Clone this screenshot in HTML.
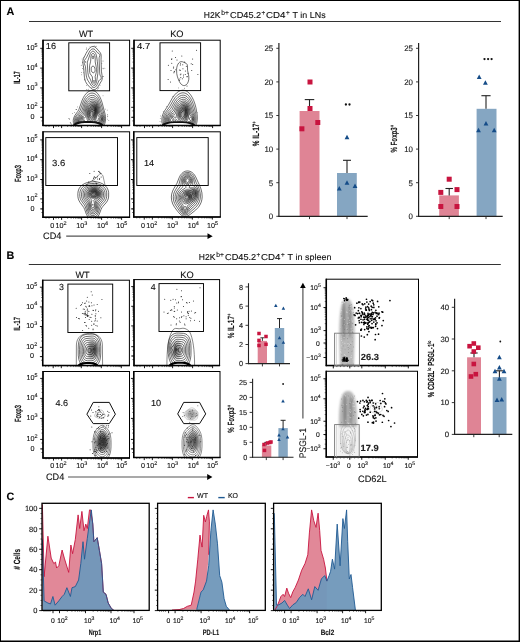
<!DOCTYPE html>
<html><head><meta charset="utf-8"><style>
html,body{margin:0;padding:0;background:#fff;overflow:hidden;}
svg{display:block;will-change:transform;}
text{font-family:"Liberation Sans", sans-serif;stroke:#111;stroke-width:0.12px;text-rendering:geometricPrecision;}
text.nb{stroke:none;}
</style></head><body>
<svg width="520" height="642" viewBox="0 0 520 642">
<rect x="0.50" y="0.50" width="519.00" height="641.00" fill="none" stroke="#000" stroke-width="1" />
<rect x="518.60" y="0.00" width="1.40" height="642.00" fill="#000" stroke="none" stroke-width="1" />
<rect x="0.00" y="640.50" width="520.00" height="1.50" fill="#000" stroke="none" stroke-width="1" />
<text x="6.6" y="14.5" font-size="10.8" text-anchor="start" font-weight="bold" fill="#000" >A</text>
<text x="6.6" y="259.4" font-size="10.8" text-anchor="start" font-weight="bold" fill="#000" >B</text>
<text x="6.6" y="500.3" font-size="10.8" text-anchor="start" font-weight="bold" fill="#000" >C</text>
<line x1="29.00" y1="21.50" x2="501.00" y2="21.50" stroke="#333" stroke-width="1" />
<line x1="28.80" y1="264.50" x2="500.80" y2="264.50" stroke="#333" stroke-width="1" />
<text x="203.8" y="18.1" font-size="8.6" text-anchor="start" font-weight="normal" fill="#111" textLength="16.6" lengthAdjust="spacingAndGlyphs" >H2K</text>
<text x="221.3" y="14.8" font-size="7.0" text-anchor="start" font-weight="normal" fill="#111" textLength="7.6" lengthAdjust="spacingAndGlyphs" >b+</text>
<text x="230.10000000000002" y="18.1" font-size="8.6" text-anchor="start" font-weight="normal" fill="#111" textLength="31.1" lengthAdjust="spacingAndGlyphs" >CD45.2</text>
<text x="261.6" y="14.8" font-size="7.0" text-anchor="start" font-weight="normal" fill="#111" textLength="3.7" lengthAdjust="spacingAndGlyphs" >+</text>
<text x="266.0" y="18.1" font-size="8.6" text-anchor="start" font-weight="normal" fill="#111" textLength="19.4" lengthAdjust="spacingAndGlyphs" >CD4</text>
<text x="286.0" y="14.8" font-size="7.0" text-anchor="start" font-weight="normal" fill="#111" textLength="3.7" lengthAdjust="spacingAndGlyphs" >+</text>
<text x="292.6" y="18.1" font-size="8.6" text-anchor="start" font-weight="normal" fill="#111" textLength="33.0" lengthAdjust="spacingAndGlyphs" >T in LNs</text>
<text x="198.8" y="260.2" font-size="8.6" text-anchor="start" font-weight="normal" fill="#111" textLength="16.6" lengthAdjust="spacingAndGlyphs" >H2K</text>
<text x="216.3" y="256.9" font-size="7.0" text-anchor="start" font-weight="normal" fill="#111" textLength="7.6" lengthAdjust="spacingAndGlyphs" >b+</text>
<text x="225.10000000000002" y="260.2" font-size="8.6" text-anchor="start" font-weight="normal" fill="#111" textLength="31.1" lengthAdjust="spacingAndGlyphs" >CD45.2</text>
<text x="256.6" y="256.9" font-size="7.0" text-anchor="start" font-weight="normal" fill="#111" textLength="3.7" lengthAdjust="spacingAndGlyphs" >+</text>
<text x="261.0" y="260.2" font-size="8.6" text-anchor="start" font-weight="normal" fill="#111" textLength="19.4" lengthAdjust="spacingAndGlyphs" >CD4</text>
<text x="281.0" y="256.9" font-size="7.0" text-anchor="start" font-weight="normal" fill="#111" textLength="3.7" lengthAdjust="spacingAndGlyphs" >+</text>
<text x="287.6" y="260.2" font-size="8.6" text-anchor="start" font-weight="normal" fill="#111" textLength="43.8" lengthAdjust="spacingAndGlyphs" >T in spleen</text>
<text x="78.9" y="36.8" font-size="9.2" text-anchor="start" font-weight="normal" fill="#111" textLength="14.2" lengthAdjust="spacingAndGlyphs" >WT</text>
<text x="170.2" y="36.8" font-size="9.2" text-anchor="start" font-weight="normal" fill="#111" textLength="13.4" lengthAdjust="spacingAndGlyphs" >KO</text>
<text transform="translate(20.30,83.80) rotate(-90)" x="0" y="0" font-size="9.0" font-weight="bold" fill="#111" textLength="12.70" lengthAdjust="spacingAndGlyphs">IL-17</text>
<text transform="translate(20.50,182.00) rotate(-90)" x="0" y="0" font-size="9.0" font-weight="bold" fill="#111" textLength="16.90" lengthAdjust="spacingAndGlyphs">Foxp3</text>
<clipPath id="cP1"><rect x="43" y="40.2" width="86.6" height="85.3"/></clipPath>
<radialGradient id="rg1"><stop offset="0" stop-color="#000" stop-opacity="0.550"/><stop offset="0.5" stop-color="#000" stop-opacity="0.330"/><stop offset="1" stop-color="#000" stop-opacity="0.000"/></radialGradient>
<ellipse cx="94" cy="110" rx="7" ry="11" fill="url(#rg1)" clip-path="url(#cP1)"/>
<path d="M94.25,110.99 L94.00,111.05 L93.84,110.45 L94.00,109.74 L94.25,109.59 L94.44,110.20 L94.25,110.99Z" fill="none" stroke="#111" stroke-width="0.6" clip-path="url(#cP1)"/>
<path d="M91.75,116.81 L91.25,116.79 L90.62,116.20 L90.23,115.20 L90.10,113.95 L90.53,111.95 L91.00,111.32 L91.75,111.06 L92.25,111.24 L92.75,111.71 L93.07,112.45 L93.14,113.20 L92.75,115.60 L92.25,116.47 L91.75,116.81Z" fill="none" stroke="#111" stroke-width="0.6" clip-path="url(#cP1)"/>
<path d="M91.75,118.25 L91.25,118.24 L90.70,117.95 L89.76,116.45 L89.39,114.45 L89.58,112.20 L90.03,110.95 L90.75,109.98 L91.50,109.60 L92.75,109.55 L93.75,108.50 L94.25,108.31 L94.65,108.70 L94.90,109.45 L94.80,111.70 L93.25,116.70 L92.50,117.83 L91.75,118.25Z" fill="none" stroke="#111" stroke-width="0.6" clip-path="url(#cP1)"/>
<path d="M92.00,119.49 L91.25,119.55 L90.50,119.20 L89.42,117.70 L88.79,115.20 L88.89,112.20 L89.50,110.20 L90.50,108.80 L91.25,108.35 L92.75,108.03 L93.75,107.43 L94.25,107.38 L94.85,107.95 L95.25,109.20 L95.36,110.70 L95.16,112.45 L93.80,117.45 L93.00,118.77 L92.00,119.49Z" fill="none" stroke="#111" stroke-width="0.6" clip-path="url(#cP1)"/>
<path d="M92.25,120.71 L91.25,120.85 L90.50,120.58 L89.75,119.94 L89.00,118.77 L88.44,117.20 L88.17,115.70 L88.19,112.45 L88.88,109.70 L90.00,107.87 L91.25,107.03 L94.00,106.40 L94.75,106.80 L95.44,108.20 L95.74,110.20 L95.62,112.95 L95.09,115.95 L94.36,118.20 L93.49,119.70 L92.25,120.71Z" fill="none" stroke="#111" stroke-width="0.6" clip-path="url(#cP1)"/>
<path d="M82.00,121.75 L81.25,121.82 L80.80,121.45 L80.72,120.70 L81.17,120.20 L81.75,120.13 L82.27,120.45 L82.42,121.20 L82.00,121.75Z" fill="none" stroke="#111" stroke-width="0.6" clip-path="url(#cP1)"/>
<path d="M91.50,122.21 L90.50,121.98 L89.50,121.25 L88.70,120.20 L88.11,118.95 L87.46,115.70 L87.57,111.95 L88.35,108.95 L89.00,107.64 L89.75,106.66 L91.25,105.69 L93.75,105.30 L94.50,105.56 L95.00,106.04 L95.90,108.20 L96.23,111.20 L96.03,114.70 L95.43,117.70 L94.32,120.20 L93.00,121.68 L92.25,122.08 L91.50,122.21Z" fill="none" stroke="#111" stroke-width="0.6" clip-path="url(#cP1)"/>
<path d="M100.00,119.50 L99.74,119.45 L99.55,118.95 L99.75,118.48 L100.00,118.44 L100.28,118.95 L100.00,119.50Z" fill="none" stroke="#111" stroke-width="0.6" clip-path="url(#cP1)"/>
<path d="M82.00,122.77 L80.75,122.61 L80.21,122.20 L79.81,121.45 L79.77,120.70 L80.08,119.95 L80.60,119.45 L81.25,119.19 L82.00,119.19 L82.75,119.52 L83.18,119.95 L83.47,120.70 L83.19,121.95 L82.71,122.45 L82.00,122.77Z" fill="none" stroke="#111" stroke-width="0.6" clip-path="url(#cP1)"/>
<path d="M92.25,123.52 L91.00,123.59 L89.75,123.07 L88.53,121.95 L87.68,120.70 L87.13,119.45 L86.84,118.20 L86.68,113.70 L87.35,109.45 L87.98,107.70 L88.75,106.30 L89.75,105.14 L90.75,104.47 L92.00,104.09 L93.25,104.02 L94.25,104.26 L95.00,104.85 L95.58,105.70 L96.10,106.95 L96.71,110.20 L96.79,114.70 L96.41,117.70 L95.45,120.20 L94.00,122.35 L93.25,123.02 L92.25,123.52Z" fill="none" stroke="#111" stroke-width="0.6" clip-path="url(#cP1)"/>
<path d="M100.00,120.71 L99.50,120.64 L99.00,120.24 L98.55,118.95 L98.88,117.70 L99.75,117.16 L100.50,117.46 L101.05,118.70 L100.86,119.95 L100.50,120.46 L100.00,120.71Z" fill="none" stroke="#111" stroke-width="0.6" clip-path="url(#cP1)"/>
<path d="M82.25,123.50 L81.25,123.53 L80.25,123.16 L79.50,122.45 L79.07,121.45 L79.09,120.45 L79.55,119.45 L80.25,118.80 L81.25,118.41 L82.25,118.41 L83.25,118.78 L84.03,119.45 L84.48,120.45 L84.42,121.45 L83.91,122.45 L83.25,123.06 L82.25,123.50Z" fill="none" stroke="#111" stroke-width="0.6" clip-path="url(#cP1)"/>
<path d="M92.50,124.98 L91.25,125.16 L90.00,124.84 L88.75,124.06 L87.00,122.52 L86.25,122.18 L85.75,122.30 L84.00,123.63 L83.00,124.10 L81.75,124.30 L80.75,124.15 L79.75,123.66 L79.02,122.95 L78.50,121.95 L78.35,120.95 L78.52,119.95 L78.88,119.20 L79.50,118.49 L80.25,117.98 L82.00,117.56 L84.75,117.90 L85.25,117.53 L85.57,116.45 L86.39,109.95 L86.95,107.95 L87.68,106.20 L88.75,104.53 L90.00,103.37 L91.25,102.77 L92.75,102.57 L93.75,102.73 L94.50,103.08 L95.25,103.77 L95.88,104.70 L96.60,106.45 L97.09,108.45 L97.75,114.67 L98.00,115.66 L98.50,116.08 L99.75,116.14 L100.75,116.68 L101.38,117.70 L101.60,118.95 L101.28,120.45 L100.50,121.38 L100.00,121.58 L99.25,121.53 L97.75,120.43 L97.25,120.25 L96.75,120.59 L94.25,123.85 L92.50,124.98Z" fill="none" stroke="#111" stroke-width="0.6" clip-path="url(#cP1)"/>
<path d="M92.25,126.72 L91.25,126.81 L90.00,126.55 L87.00,124.74 L86.00,124.38 L82.50,125.07 L81.25,125.03 L80.25,124.75 L79.25,124.18 L78.34,123.20 L77.85,122.20 L77.66,120.95 L78.08,119.20 L79.25,117.74 L80.75,116.93 L83.50,116.30 L84.23,115.70 L84.75,114.29 L85.92,108.20 L87.32,104.70 L88.50,102.98 L89.75,101.85 L91.00,101.23 L92.50,100.99 L93.75,101.21 L94.75,101.76 L95.50,102.49 L96.30,103.70 L97.55,107.20 L98.77,113.70 L99.25,114.49 L100.75,115.63 L101.43,116.45 L101.95,117.70 L102.10,118.95 L101.78,120.70 L101.38,121.45 L100.75,122.11 L99.75,122.53 L98.00,122.41 L97.25,122.61 L94.25,125.69 L93.25,126.35 L92.25,126.72Z" fill="none" stroke="#111" stroke-width="0.6" clip-path="url(#cP1)"/>
<path d="M92.50,128.46 L91.25,128.60 L89.75,128.30 L86.50,126.47 L85.50,126.09 L81.75,125.96 L79.75,125.39 L78.50,124.53 L77.62,123.45 L77.09,122.20 L76.93,120.95 L77.37,118.95 L78.41,117.45 L79.75,116.43 L82.50,115.13 L83.37,114.20 L83.92,112.70 L85.43,106.45 L86.33,104.20 L87.50,102.20 L88.50,101.02 L89.75,100.03 L91.00,99.47 L92.25,99.27 L93.50,99.44 L94.75,100.06 L95.92,101.20 L96.87,102.70 L98.10,105.95 L99.60,112.45 L100.09,113.45 L102.05,116.20 L102.47,117.45 L102.64,118.95 L102.30,120.95 L101.25,122.68 L100.25,123.40 L97.75,124.34 L94.50,127.45 L92.50,128.46Z" fill="none" stroke="#111" stroke-width="0.6" clip-path="url(#cP1)"/>
<path d="M92.25,130.48 L91.00,130.54 L89.75,130.28 L85.00,127.70 L81.00,126.82 L79.25,126.10 L78.00,125.19 L76.99,123.95 L76.34,122.45 L76.14,120.95 L76.50,118.95 L77.50,117.20 L78.75,115.98 L81.38,114.20 L82.40,112.95 L83.00,111.41 L84.87,104.70 L85.73,102.70 L86.75,100.95 L88.00,99.40 L89.25,98.36 L90.75,97.62 L92.25,97.39 L93.75,97.66 L95.00,98.33 L96.25,99.56 L97.45,101.45 L98.83,104.95 L100.50,111.45 L102.80,116.20 L103.22,118.95 L102.80,121.45 L102.25,122.63 L101.50,123.63 L98.32,125.95 L94.75,129.37 L93.50,130.10 L92.25,130.48Z" fill="none" stroke="#111" stroke-width="0.6" clip-path="url(#cP1)"/>
<path d="M88.08,131.70 L84.50,129.38 L79.50,127.36 L77.50,125.98 L76.42,124.70 L75.66,123.20 L75.32,121.70 L75.31,120.20 L75.84,118.20 L76.70,116.70 L77.75,115.50 L80.34,113.20 L81.26,111.95 L82.00,110.15 L84.12,103.20 L85.13,100.95 L86.18,99.20 L87.50,97.57 L89.00,96.33 L90.50,95.59 L92.25,95.32 L94.00,95.68 L95.50,96.58 L96.81,97.95 L98.08,99.95 L99.62,103.70 L101.50,110.58 L103.39,115.45 L103.87,117.95 L103.86,119.70 L103.61,121.20 L103.11,122.70 L102.43,123.95 L101.50,125.13 L96.75,129.97 L94.65,131.70" fill="none" stroke="#111" stroke-width="0.6" clip-path="url(#cP1)"/>
<path d="M84.63,131.70 L82.80,130.45 L78.50,128.12 L76.25,126.15 L75.27,124.70 L74.57,122.95 L74.31,121.20 L74.44,119.45 L74.87,117.95 L75.77,116.20 L79.21,112.20 L80.16,110.70 L83.13,101.95 L84.12,99.70 L85.43,97.45 L87.00,95.51 L88.50,94.24 L90.25,93.35 L92.00,93.04 L94.00,93.38 L95.75,94.39 L97.48,96.20 L98.89,98.45 L99.91,100.70 L100.87,103.45 L104.08,114.45 L104.55,116.70 L104.68,118.70 L104.56,120.45 L104.20,122.20 L103.54,123.95 L102.00,126.46 L97.64,131.70" fill="none" stroke="#111" stroke-width="0.6" clip-path="url(#cP1)"/>
<path d="M81.40,131.70 L77.00,128.58 L75.62,127.20 L74.55,125.70 L73.74,123.95 L73.32,122.20 L73.24,120.45 L73.54,118.45 L74.83,115.45 L77.78,111.45 L78.82,109.70 L82.18,100.20 L83.32,97.70 L84.50,95.67 L86.23,93.45 L88.00,91.91 L90.00,90.87 L92.00,90.51 L94.00,90.84 L96.00,91.93 L97.81,93.70 L99.62,96.45 L100.90,99.20 L102.12,102.70 L105.20,114.45 L105.53,116.70 L105.61,118.95 L105.40,121.20 L104.94,123.20 L104.31,124.95 L103.31,126.95 L100.10,131.70" fill="none" stroke="#111" stroke-width="0.6" clip-path="url(#cP1)"/>
<path d="M93.25,58.72 L92.75,58.72 L92.52,58.45 L92.24,57.45 L92.40,56.20 L93.00,55.61 L93.50,55.99 L93.76,56.95 L93.68,57.95 L93.25,58.72Z" fill="none" stroke="#111" stroke-width="0.6" clip-path="url(#cP1)"/>
<path d="M93.75,72.77 L93.00,72.71 L92.00,72.01 L91.46,71.20 L91.24,70.20 L91.26,68.20 L91.50,67.09 L92.00,66.43 L93.00,66.04 L93.75,66.29 L94.25,66.93 L94.80,68.20 L95.07,69.45 L95.04,70.70 L94.76,71.70 L94.25,72.47 L93.75,72.77Z" fill="none" stroke="#111" stroke-width="0.6" clip-path="url(#cP1)"/>
<path d="M94.00,81.59 L93.67,80.95 L93.75,80.49 L94.00,80.26 L94.33,80.95 L94.00,81.59Z" fill="none" stroke="#111" stroke-width="0.6" clip-path="url(#cP1)"/>
<path d="M94.00,83.46 L93.25,83.03 L92.81,82.20 L92.51,80.70 L92.42,76.95 L90.14,73.70 L89.71,72.20 L89.52,70.20 L89.60,65.70 L90.64,61.20 L91.02,56.20 L91.80,54.20 L92.50,53.54 L93.00,53.41 L93.50,53.54 L94.21,54.20 L94.93,55.95 L95.17,57.70 L95.21,61.95 L96.17,66.70 L96.47,69.45 L96.25,72.45 L95.15,76.70 L95.45,79.70 L95.36,81.45 L94.80,82.95 L94.00,83.46Z" fill="none" stroke="#111" stroke-width="0.6" clip-path="url(#cP1)"/>
<path d="M94.50,85.32 L93.75,85.39 L93.25,85.20 L92.28,84.20 L91.65,82.95 L90.50,79.74 L89.00,77.06 L88.45,75.70 L87.84,72.45 L87.29,62.95 L87.41,61.95 L90.39,53.45 L91.50,51.85 L92.25,51.33 L93.00,51.16 L94.00,51.46 L94.84,52.20 L95.65,53.45 L96.46,55.45 L97.38,61.70 L97.94,68.20 L97.83,73.45 L96.72,81.20 L95.81,83.95 L95.25,84.76 L94.50,85.32Z" fill="none" stroke="#111" stroke-width="0.6" clip-path="url(#cP1)"/>
<path d="M85.75,62.37 L85.38,62.20 L85.50,61.68 L85.78,61.70 L85.96,61.95 L85.75,62.37Z" fill="none" stroke="#111" stroke-width="0.6" clip-path="url(#cP1)"/>
<path d="M94.25,87.46 L93.00,87.24 L91.72,86.20 L88.18,80.95 L87.13,78.95 L86.57,77.20 L86.16,74.95 L85.50,66.74 L84.32,63.45 L84.09,62.20 L84.50,60.41 L86.50,57.54 L89.68,51.20 L91.25,49.47 L92.00,49.05 L93.00,48.84 L94.00,49.04 L95.00,49.66 L97.50,52.70 L99.25,53.79 L99.84,54.70 L99.84,55.70 L99.22,57.45 L99.09,58.70 L99.71,73.20 L100.00,75.08 L101.00,76.86 L101.20,77.70 L101.16,78.45 L100.75,79.29 L99.50,79.98 L98.88,80.70 L97.37,84.20 L96.38,85.95 L95.25,87.08 L94.25,87.46Z" fill="none" stroke="#111" stroke-width="0.6" clip-path="url(#cP1)"/>
<path d="M94.00,89.70 L92.50,89.35 L90.59,87.95 L87.05,84.20 L85.58,81.70 L84.90,79.70 L84.41,77.20 L83.76,68.45 L82.76,62.45 L82.95,60.45 L83.61,58.45 L85.88,53.70 L87.61,50.70 L89.00,48.79 L90.25,47.54 L91.50,46.76 L93.00,46.44 L94.50,46.76 L96.19,47.95 L100.00,52.34 L100.90,53.95 L101.18,55.70 L101.05,59.45 L101.43,71.20 L102.32,77.45 L102.17,79.20 L101.65,80.70 L97.89,86.95 L96.00,88.99 L95.00,89.53 L94.00,89.70Z" fill="none" stroke="#111" stroke-width="0.6" clip-path="url(#cP1)"/>
<path d="M73,125 C75,121.5 80,121 88,121 C96,121 101,121.5 103.5,125 Z" fill="#111" clip-path="url(#cP1)"/>
<path d="M76,125 C79,123.2 84,123 88,123 C93,123 97,123.2 100,125 Z" fill="#fff" clip-path="url(#cP1)"/>
<circle cx="86.21" cy="49.27" r="0.4" fill="#333"/>
<circle cx="103.01" cy="60.99" r="0.4" fill="#333"/>
<circle cx="83.68" cy="68.99" r="0.4" fill="#333"/>
<circle cx="100.04" cy="85.16" r="0.4" fill="#333"/>
<circle cx="103.03" cy="68.27" r="0.4" fill="#333"/>
<circle cx="98.85" cy="87.34" r="0.4" fill="#333"/>
<circle cx="82.11" cy="58.89" r="0.4" fill="#333"/>
<circle cx="83.38" cy="66.86" r="0.4" fill="#333"/>
<circle cx="88.17" cy="89.23" r="0.4" fill="#333"/>
<circle cx="97.37" cy="89.04" r="0.4" fill="#333"/>
<circle cx="96.28" cy="46.13" r="0.4" fill="#333"/>
<circle cx="89.91" cy="46.89" r="0.4" fill="#333"/>
<circle cx="86.71" cy="85.65" r="0.4" fill="#333"/>
<circle cx="81.65" cy="74.79" r="0.4" fill="#333"/>
<circle cx="84.71" cy="79.38" r="0.4" fill="#333"/>
<circle cx="83.42" cy="72.81" r="0.4" fill="#333"/>
<circle cx="103.16" cy="68.81" r="0.4" fill="#333"/>
<circle cx="104.87" cy="68.20" r="0.4" fill="#333"/>
<circle cx="84.95" cy="79.93" r="0.4" fill="#333"/>
<circle cx="81.42" cy="72.66" r="0.4" fill="#333"/>
<circle cx="102.92" cy="76.48" r="0.4" fill="#333"/>
<circle cx="103.64" cy="76.32" r="0.4" fill="#333"/>
<circle cx="81.22" cy="65.24" r="0.4" fill="#333"/>
<circle cx="86.68" cy="48.01" r="0.4" fill="#333"/>
<circle cx="83.68" cy="57.16" r="0.4" fill="#333"/>
<circle cx="82.76" cy="68.50" r="0.4" fill="#333"/>
<circle cx="95.44" cy="46.35" r="0.4" fill="#333"/>
<circle cx="82.45" cy="62.71" r="0.4" fill="#333"/>
<circle cx="94.17" cy="45.92" r="0.4" fill="#333"/>
<circle cx="101.86" cy="63.53" r="0.4" fill="#333"/>
<circle cx="107.78" cy="115.93" r="0.4" fill="#333"/>
<circle cx="107.19" cy="110.08" r="0.4" fill="#333"/>
<circle cx="92.01" cy="87.38" r="0.4" fill="#333"/>
<circle cx="107.46" cy="114.64" r="0.4" fill="#333"/>
<circle cx="76.48" cy="109.57" r="0.4" fill="#333"/>
<circle cx="107.47" cy="116.77" r="0.4" fill="#333"/>
<circle cx="77.34" cy="106.93" r="0.4" fill="#333"/>
<circle cx="75.94" cy="109.30" r="0.4" fill="#333"/>
<circle cx="70.24" cy="122.77" r="0.4" fill="#333"/>
<circle cx="71.78" cy="124.21" r="0.4" fill="#333"/>
<circle cx="107.65" cy="119.05" r="0.4" fill="#333"/>
<circle cx="108.82" cy="120.64" r="0.4" fill="#333"/>
<circle cx="68.90" cy="118.53" r="0.4" fill="#333"/>
<circle cx="98.12" cy="88.52" r="0.4" fill="#333"/>
<circle cx="70.62" cy="122.89" r="0.4" fill="#333"/>
<circle cx="86.36" cy="89.54" r="0.4" fill="#333"/>
<circle cx="94.93" cy="84.88" r="0.4" fill="#333"/>
<circle cx="74.56" cy="112.55" r="0.4" fill="#333"/>
<circle cx="69.52" cy="119.63" r="0.4" fill="#333"/>
<circle cx="103.03" cy="95.81" r="0.4" fill="#333"/>
<circle cx="72.39" cy="113.36" r="0.4" fill="#333"/>
<circle cx="105.59" cy="109.05" r="0.4" fill="#333"/>
<circle cx="71.05" cy="123.80" r="0.4" fill="#333"/>
<circle cx="69.07" cy="118.60" r="0.4" fill="#333"/>
<circle cx="76.56" cy="109.60" r="0.4" fill="#333"/>
<line x1="40.20" y1="48.30" x2="43.00" y2="48.30" stroke="#000" stroke-width="0.9" />
<line x1="41.40" y1="62.14" x2="43.00" y2="62.14" stroke="#000" stroke-width="0.5" />
<line x1="41.40" y1="58.65" x2="43.00" y2="58.65" stroke="#000" stroke-width="0.5" />
<line x1="41.40" y1="56.18" x2="43.00" y2="56.18" stroke="#000" stroke-width="0.5" />
<line x1="41.40" y1="54.26" x2="43.00" y2="54.26" stroke="#000" stroke-width="0.5" />
<line x1="41.40" y1="52.69" x2="43.00" y2="52.69" stroke="#000" stroke-width="0.5" />
<line x1="41.40" y1="51.37" x2="43.00" y2="51.37" stroke="#000" stroke-width="0.5" />
<line x1="41.40" y1="50.22" x2="43.00" y2="50.22" stroke="#000" stroke-width="0.5" />
<line x1="41.40" y1="49.21" x2="43.00" y2="49.21" stroke="#000" stroke-width="0.5" />
<line x1="40.20" y1="68.10" x2="43.00" y2="68.10" stroke="#000" stroke-width="0.9" />
<line x1="41.40" y1="81.94" x2="43.00" y2="81.94" stroke="#000" stroke-width="0.5" />
<line x1="41.40" y1="78.45" x2="43.00" y2="78.45" stroke="#000" stroke-width="0.5" />
<line x1="41.40" y1="75.98" x2="43.00" y2="75.98" stroke="#000" stroke-width="0.5" />
<line x1="41.40" y1="74.06" x2="43.00" y2="74.06" stroke="#000" stroke-width="0.5" />
<line x1="41.40" y1="72.49" x2="43.00" y2="72.49" stroke="#000" stroke-width="0.5" />
<line x1="41.40" y1="71.17" x2="43.00" y2="71.17" stroke="#000" stroke-width="0.5" />
<line x1="41.40" y1="70.02" x2="43.00" y2="70.02" stroke="#000" stroke-width="0.5" />
<line x1="41.40" y1="69.01" x2="43.00" y2="69.01" stroke="#000" stroke-width="0.5" />
<line x1="40.20" y1="87.90" x2="43.00" y2="87.90" stroke="#000" stroke-width="0.9" />
<line x1="41.40" y1="101.46" x2="43.00" y2="101.46" stroke="#000" stroke-width="0.5" />
<line x1="41.40" y1="98.04" x2="43.00" y2="98.04" stroke="#000" stroke-width="0.5" />
<line x1="41.40" y1="95.62" x2="43.00" y2="95.62" stroke="#000" stroke-width="0.5" />
<line x1="41.40" y1="93.74" x2="43.00" y2="93.74" stroke="#000" stroke-width="0.5" />
<line x1="41.40" y1="92.20" x2="43.00" y2="92.20" stroke="#000" stroke-width="0.5" />
<line x1="41.40" y1="90.91" x2="43.00" y2="90.91" stroke="#000" stroke-width="0.5" />
<line x1="41.40" y1="89.78" x2="43.00" y2="89.78" stroke="#000" stroke-width="0.5" />
<line x1="41.40" y1="88.79" x2="43.00" y2="88.79" stroke="#000" stroke-width="0.5" />
<line x1="40.20" y1="107.30" x2="43.00" y2="107.30" stroke="#000" stroke-width="0.9" />
<line x1="41.40" y1="117.30" x2="43.00" y2="117.30" stroke="#000" stroke-width="0.6" />
<line x1="41.40" y1="110.90" x2="43.00" y2="110.90" stroke="#000" stroke-width="0.6" />
<line x1="41.40" y1="120.90" x2="43.00" y2="120.90" stroke="#000" stroke-width="0.6" />
<line x1="40.20" y1="117.30" x2="43.00" y2="117.30" stroke="#000" stroke-width="0.9" />
<line x1="53.50" y1="125.50" x2="53.50" y2="128.10" stroke="#000" stroke-width="0.9" />
<line x1="61.60" y1="125.50" x2="61.60" y2="128.10" stroke="#000" stroke-width="0.9" />
<line x1="67.62" y1="125.50" x2="67.62" y2="127.00" stroke="#000" stroke-width="0.5" />
<line x1="71.14" y1="125.50" x2="71.14" y2="127.00" stroke="#000" stroke-width="0.5" />
<line x1="73.64" y1="125.50" x2="73.64" y2="127.00" stroke="#000" stroke-width="0.5" />
<line x1="75.58" y1="125.50" x2="75.58" y2="127.00" stroke="#000" stroke-width="0.5" />
<line x1="77.16" y1="125.50" x2="77.16" y2="127.00" stroke="#000" stroke-width="0.5" />
<line x1="78.50" y1="125.50" x2="78.50" y2="127.00" stroke="#000" stroke-width="0.5" />
<line x1="79.66" y1="125.50" x2="79.66" y2="127.00" stroke="#000" stroke-width="0.5" />
<line x1="80.68" y1="125.50" x2="80.68" y2="127.00" stroke="#000" stroke-width="0.5" />
<line x1="81.60" y1="125.50" x2="81.60" y2="128.10" stroke="#000" stroke-width="0.9" />
<line x1="87.62" y1="125.50" x2="87.62" y2="127.00" stroke="#000" stroke-width="0.5" />
<line x1="91.14" y1="125.50" x2="91.14" y2="127.00" stroke="#000" stroke-width="0.5" />
<line x1="93.64" y1="125.50" x2="93.64" y2="127.00" stroke="#000" stroke-width="0.5" />
<line x1="95.58" y1="125.50" x2="95.58" y2="127.00" stroke="#000" stroke-width="0.5" />
<line x1="97.16" y1="125.50" x2="97.16" y2="127.00" stroke="#000" stroke-width="0.5" />
<line x1="98.50" y1="125.50" x2="98.50" y2="127.00" stroke="#000" stroke-width="0.5" />
<line x1="99.66" y1="125.50" x2="99.66" y2="127.00" stroke="#000" stroke-width="0.5" />
<line x1="100.68" y1="125.50" x2="100.68" y2="127.00" stroke="#000" stroke-width="0.5" />
<line x1="101.60" y1="125.50" x2="101.60" y2="128.10" stroke="#000" stroke-width="0.9" />
<line x1="107.62" y1="125.50" x2="107.62" y2="127.00" stroke="#000" stroke-width="0.5" />
<line x1="111.14" y1="125.50" x2="111.14" y2="127.00" stroke="#000" stroke-width="0.5" />
<line x1="113.64" y1="125.50" x2="113.64" y2="127.00" stroke="#000" stroke-width="0.5" />
<line x1="115.58" y1="125.50" x2="115.58" y2="127.00" stroke="#000" stroke-width="0.5" />
<line x1="117.16" y1="125.50" x2="117.16" y2="127.00" stroke="#000" stroke-width="0.5" />
<line x1="118.50" y1="125.50" x2="118.50" y2="127.00" stroke="#000" stroke-width="0.5" />
<line x1="119.66" y1="125.50" x2="119.66" y2="127.00" stroke="#000" stroke-width="0.5" />
<line x1="120.68" y1="125.50" x2="120.68" y2="127.00" stroke="#000" stroke-width="0.5" />
<line x1="121.60" y1="125.50" x2="121.60" y2="128.10" stroke="#000" stroke-width="0.9" />
<line x1="46.00" y1="125.50" x2="46.00" y2="127.00" stroke="#000" stroke-width="0.5" />
<line x1="49.00" y1="125.50" x2="49.00" y2="127.00" stroke="#000" stroke-width="0.5" />
<line x1="56.00" y1="125.50" x2="56.00" y2="127.00" stroke="#000" stroke-width="0.5" />
<line x1="58.50" y1="125.50" x2="58.50" y2="127.00" stroke="#000" stroke-width="0.5" />
<rect x="43.00" y="40.20" width="86.60" height="85.30" fill="none" stroke="#000" stroke-width="1.0" />
<line x1="43.00" y1="39.70" x2="43.00" y2="126.10" stroke="#000" stroke-width="1.5" />
<line x1="42.40" y1="125.50" x2="130.10" y2="125.50" stroke="#000" stroke-width="1.5" />
<text x="26.43" y="49.90" font-size="7.2" fill="#111">10<tspan font-size="5.47" dy="-3.02">5</tspan></text>
<text x="26.43" y="69.70" font-size="7.2" fill="#111">10<tspan font-size="5.47" dy="-3.02">4</tspan></text>
<text x="26.43" y="89.50" font-size="7.2" fill="#111">10<tspan font-size="5.47" dy="-3.02">3</tspan></text>
<text x="26.43" y="108.90" font-size="7.2" fill="#111">10<tspan font-size="5.47" dy="-3.02">2</tspan></text>
<text x="34.4" y="118.9" font-size="7.2" text-anchor="end" font-weight="normal" fill="#111" >0</text>
<rect x="68.80" y="42.80" width="40.80" height="48.00" fill="none" stroke="#000" stroke-width="0.95" />
<text x="45.8" y="49.4" font-size="8.8" text-anchor="start" font-weight="normal" fill="#111" textLength="10.2" lengthAdjust="spacingAndGlyphs" >16</text>
<clipPath id="cP2"><rect x="134" y="40.2" width="86.19999999999999" height="85.3"/></clipPath>
<radialGradient id="rg2"><stop offset="0" stop-color="#000" stop-opacity="0.550"/><stop offset="0.5" stop-color="#000" stop-opacity="0.330"/><stop offset="1" stop-color="#000" stop-opacity="0.000"/></radialGradient>
<ellipse cx="184.5" cy="111" rx="7" ry="11" fill="url(#rg2)" clip-path="url(#cP2)"/>
<path d="M183.00,117.32 L182.50,117.41 L182.00,117.24 L181.32,116.45 L180.91,114.95 L181.00,113.45 L181.75,111.89 L183.50,110.92 L184.50,109.77 L184.85,109.95 L185.15,110.70 L185.08,112.95 L184.16,115.95 L183.72,116.70 L183.00,117.32Z" fill="none" stroke="#111" stroke-width="0.6" clip-path="url(#cP2)"/>
<path d="M183.25,118.73 L182.75,118.88 L182.00,118.79 L181.45,118.45 L180.82,117.70 L180.17,115.95 L180.08,113.70 L180.51,111.95 L181.25,110.71 L182.00,110.09 L184.50,108.67 L185.01,108.95 L185.54,110.20 L185.70,111.70 L185.60,113.70 L185.28,115.45 L184.75,116.99 L184.00,118.16 L183.25,118.73Z" fill="none" stroke="#111" stroke-width="0.6" clip-path="url(#cP2)"/>
<path d="M182.75,120.22 L182.00,120.16 L181.25,119.78 L180.01,118.20 L179.35,115.95 L179.36,113.20 L179.88,111.20 L180.98,109.45 L182.00,108.69 L184.50,107.66 L185.27,108.20 L185.95,109.95 L186.21,112.20 L186.09,114.95 L185.66,116.95 L184.86,118.70 L183.75,119.86 L182.75,120.22Z" fill="none" stroke="#111" stroke-width="0.6" clip-path="url(#cP2)"/>
<path d="M183.25,121.46 L182.25,121.55 L181.50,121.34 L180.50,120.65 L179.73,119.70 L179.11,118.45 L178.68,116.95 L178.50,113.95 L179.08,110.95 L180.25,108.73 L181.75,107.45 L184.25,106.58 L185.25,107.05 L186.13,108.70 L186.70,111.45 L186.80,114.70 L186.42,117.20 L185.65,119.20 L184.50,120.72 L183.25,121.46Z" fill="none" stroke="#111" stroke-width="0.6" clip-path="url(#cP2)"/>
<path d="M172.25,121.21 L171.75,121.42 L171.25,121.38 L170.50,120.70 L170.43,119.45 L170.75,118.91 L171.25,118.58 L172.20,118.70 L172.77,119.45 L172.78,120.45 L172.25,121.21Z" fill="none" stroke="#111" stroke-width="0.6" clip-path="url(#cP2)"/>
<path d="M183.50,122.78 L182.25,122.94 L181.25,122.67 L180.25,122.04 L179.24,120.95 L178.38,119.45 L177.94,118.20 L177.64,116.45 L177.60,114.70 L178.18,110.95 L178.72,109.45 L179.50,108.04 L180.25,107.12 L181.25,106.31 L182.75,105.64 L184.00,105.39 L184.75,105.54 L185.50,106.11 L186.60,108.20 L187.35,111.45 L187.54,114.95 L187.19,117.70 L186.35,119.95 L185.00,121.82 L183.50,122.78Z" fill="none" stroke="#111" stroke-width="0.6" clip-path="url(#cP2)"/>
<path d="M172.25,122.51 L171.25,122.57 L170.50,122.25 L169.76,121.45 L169.41,120.45 L169.42,119.45 L169.80,118.45 L170.50,117.70 L171.25,117.37 L172.00,117.34 L172.92,117.70 L173.64,118.45 L173.95,119.20 L174.02,120.20 L173.72,121.20 L173.17,121.95 L172.25,122.51Z" fill="none" stroke="#111" stroke-width="0.6" clip-path="url(#cP2)"/>
<path d="M183.50,124.27 L181.75,124.34 L180.24,123.70 L178.78,122.45 L176.25,119.41 L176.00,119.41 L174.82,121.70 L173.75,122.86 L172.50,123.50 L171.00,123.50 L170.00,123.01 L169.23,122.20 L168.76,121.20 L168.57,119.95 L168.77,118.70 L169.26,117.70 L170.00,116.92 L171.00,116.40 L172.00,116.26 L173.00,116.43 L174.12,116.95 L175.50,118.01 L175.75,118.12 L175.91,117.95 L177.17,111.20 L177.80,109.20 L178.51,107.70 L179.50,106.27 L180.75,105.12 L182.25,104.37 L183.75,104.07 L184.75,104.26 L185.69,104.95 L186.40,105.95 L187.18,107.70 L188.14,111.70 L188.53,117.20 L188.11,118.95 L186.40,121.95 L185.00,123.46 L183.50,124.27Z" fill="none" stroke="#111" stroke-width="0.6" clip-path="url(#cP2)"/>
<path d="M191.00,120.53 L190.50,120.51 L190.02,120.20 L189.38,118.95 L189.52,117.95 L189.97,117.45 L190.50,117.24 L191.00,117.30 L191.50,117.68 L191.89,118.70 L191.75,119.78 L191.00,120.53Z" fill="none" stroke="#111" stroke-width="0.6" clip-path="url(#cP2)"/>
<path d="M183.00,125.96 L181.75,125.94 L180.50,125.56 L177.25,123.39 L176.50,123.12 L175.75,123.21 L172.75,124.51 L171.50,124.58 L170.50,124.33 L169.25,123.52 L168.43,122.45 L167.94,121.20 L167.81,119.70 L168.31,117.70 L168.96,116.70 L169.75,115.97 L171.25,115.26 L174.25,114.91 L175.00,114.30 L177.21,107.95 L178.13,106.20 L179.25,104.74 L180.25,103.83 L181.50,103.10 L182.75,102.70 L183.75,102.61 L184.75,102.83 L185.50,103.28 L186.37,104.20 L187.14,105.45 L188.37,108.70 L189.73,114.95 L190.06,115.45 L191.25,116.25 L191.92,116.95 L192.38,117.95 L192.50,118.95 L192.25,120.26 L191.50,121.28 L190.75,121.59 L189.00,121.37 L188.50,121.54 L185.50,124.80 L184.25,125.59 L183.00,125.96Z" fill="none" stroke="#111" stroke-width="0.6" clip-path="url(#cP2)"/>
<path d="M182.75,127.70 L181.75,127.68 L180.50,127.37 L177.25,125.65 L176.25,125.31 L172.25,125.69 L171.00,125.54 L170.00,125.16 L168.75,124.27 L167.75,122.95 L167.18,121.45 L167.01,119.70 L167.51,117.45 L168.75,115.59 L170.25,114.48 L173.25,113.25 L174.10,112.45 L176.66,106.45 L178.50,103.61 L179.50,102.62 L180.75,101.76 L182.25,101.16 L183.50,101.00 L184.75,101.24 L185.75,101.83 L186.75,102.87 L187.62,104.20 L189.07,107.70 L190.54,113.45 L192.60,116.70 L192.93,117.70 L193.06,118.95 L192.73,120.70 L191.75,122.12 L188.81,123.45 L186.50,125.83 L185.25,126.83 L184.00,127.44 L182.75,127.70Z" fill="none" stroke="#111" stroke-width="0.6" clip-path="url(#cP2)"/>
<path d="M183.50,129.46 L182.25,129.59 L180.75,129.38 L176.00,127.32 L171.50,126.82 L169.50,126.07 L168.08,124.95 L167.01,123.45 L166.36,121.70 L166.16,119.95 L166.49,117.70 L167.43,115.70 L169.00,113.98 L172.00,112.04 L173.00,111.09 L173.75,109.89 L176.14,104.70 L177.75,102.32 L179.00,101.04 L180.25,100.15 L181.75,99.49 L183.25,99.24 L184.75,99.49 L186.00,100.19 L187.25,101.47 L188.38,103.20 L189.88,106.70 L191.58,112.70 L193.19,116.20 L193.66,118.70 L193.32,120.95 L192.25,122.84 L189.49,124.95 L186.25,128.12 L184.75,129.04 L183.50,129.46Z" fill="none" stroke="#111" stroke-width="0.6" clip-path="url(#cP2)"/>
<path d="M183.75,131.46 L182.00,131.63 L180.25,131.34 L175.34,129.20 L171.00,128.05 L169.00,127.10 L167.50,125.85 L166.32,124.20 L165.53,122.20 L165.25,119.95 L165.58,117.45 L166.69,114.95 L168.00,113.31 L171.00,110.73 L172.00,109.61 L175.22,103.45 L176.89,100.95 L178.50,99.27 L180.00,98.22 L181.50,97.57 L183.25,97.29 L185.00,97.63 L186.50,98.54 L188.00,100.14 L189.43,102.45 L190.90,105.95 L192.54,111.70 L193.83,115.45 L194.34,118.45 L194.26,119.95 L193.93,121.45 L193.41,122.70 L192.50,124.07 L187.00,129.75 L185.50,130.78 L183.75,131.46Z" fill="none" stroke="#111" stroke-width="0.6" clip-path="url(#cP2)"/>
<path d="M175.82,131.70 L169.50,128.93 L167.75,127.73 L166.51,126.45 L165.37,124.70 L164.54,122.45 L164.24,120.20 L164.46,117.70 L165.06,115.70 L165.96,113.95 L167.25,112.22 L170.87,108.20 L174.42,101.70 L176.25,99.07 L178.00,97.29 L179.75,96.09 L181.50,95.38 L183.25,95.15 L185.25,95.57 L187.00,96.65 L188.68,98.45 L190.13,100.70 L191.31,103.20 L192.38,106.20 L194.61,114.45 L195.07,116.95 L195.15,118.95 L194.97,120.70 L194.59,122.20 L193.87,123.95 L192.75,125.74 L190.75,128.30 L187.60,131.70" fill="none" stroke="#111" stroke-width="0.6" clip-path="url(#cP2)"/>
<path d="M171.17,131.70 L168.75,130.29 L167.00,128.90 L165.50,127.22 L164.41,125.45 L163.56,123.20 L163.16,120.95 L163.16,118.70 L163.63,116.20 L164.27,114.45 L165.19,112.70 L169.51,106.95 L173.29,100.20 L175.37,97.20 L177.25,95.26 L179.00,94.00 L181.00,93.10 L183.00,92.78 L185.00,93.08 L187.00,94.12 L188.75,95.73 L190.56,98.20 L192.13,101.20 L193.37,104.45 L194.44,108.20 L195.63,113.45 L196.04,116.20 L196.14,118.45 L195.96,120.70 L195.53,122.70 L194.82,124.70 L193.75,126.80 L190.33,131.70" fill="none" stroke="#111" stroke-width="0.6" clip-path="url(#cP2)"/>
<path d="M167.76,131.70 L166.00,130.10 L164.44,128.20 L163.17,125.95 L162.36,123.70 L161.94,121.45 L161.87,118.95 L162.16,116.70 L162.88,114.20 L164.49,110.95 L168.25,105.30 L172.40,97.95 L174.50,95.02 L176.50,92.96 L178.75,91.36 L180.75,90.50 L183.00,90.15 L185.00,90.44 L187.00,91.36 L188.96,92.95 L190.65,94.95 L192.23,97.45 L193.66,100.45 L194.91,103.95 L195.93,107.70 L197.19,114.95 L197.34,117.95 L197.16,120.70 L196.62,123.45 L195.71,126.20 L194.41,128.95 L192.76,131.70" fill="none" stroke="#111" stroke-width="0.6" clip-path="url(#cP2)"/>
<path d="M184.75,85.52 L183.50,85.54 L182.25,85.06 L181.16,84.20 L180.15,82.95 L179.16,81.20 L178.10,78.70 L177.29,76.20 L176.75,73.70 L176.55,69.45 L176.81,67.45 L177.28,65.70 L177.93,64.20 L178.79,62.95 L179.75,62.11 L181.00,61.64 L182.50,61.78 L186.00,63.21 L186.98,64.20 L187.49,65.70 L187.54,70.20 L188.72,75.95 L188.86,77.95 L188.74,79.70 L188.18,81.95 L187.26,83.70 L186.00,84.96 L184.75,85.52Z" fill="none" stroke="#111" stroke-width="0.6" clip-path="url(#cP2)"/>
<path d="M161.5,125 C164,121.7 170,121.2 178,121.2 C187,121.2 193,121.7 195.5,125 Z" fill="#111" clip-path="url(#cP2)"/>
<path d="M165,125 C168,123.3 173,123.1 178,123.1 C184,123.1 189,123.3 192,125 Z" fill="#fff" clip-path="url(#cP2)"/>
<circle cx="171.77" cy="63.35" r="0.5" fill="#222"/>
<circle cx="184.63" cy="61.91" r="0.5" fill="#222"/>
<circle cx="172.26" cy="51.11" r="0.5" fill="#222"/>
<circle cx="186.32" cy="66.17" r="0.5" fill="#222"/>
<circle cx="175.58" cy="57.57" r="0.5" fill="#222"/>
<circle cx="173.45" cy="67.89" r="0.5" fill="#222"/>
<circle cx="192.66" cy="64.57" r="0.5" fill="#222"/>
<circle cx="179.82" cy="78.98" r="0.5" fill="#222"/>
<circle cx="179.37" cy="70.09" r="0.5" fill="#222"/>
<circle cx="171.82" cy="58.77" r="0.5" fill="#222"/>
<circle cx="168.15" cy="79.53" r="0.5" fill="#222"/>
<circle cx="191.16" cy="63.87" r="0.5" fill="#222"/>
<circle cx="180.33" cy="65.01" r="0.5" fill="#222"/>
<circle cx="180.81" cy="77.44" r="0.5" fill="#222"/>
<circle cx="192.61" cy="58.93" r="0.5" fill="#222"/>
<circle cx="187.04" cy="76.77" r="0.5" fill="#222"/>
<circle cx="182.29" cy="78.77" r="0.5" fill="#222"/>
<circle cx="191.75" cy="70.54" r="0.5" fill="#222"/>
<circle cx="179.32" cy="80.38" r="0.5" fill="#222"/>
<circle cx="183.52" cy="74.88" r="0.5" fill="#222"/>
<circle cx="197.90" cy="74.59" r="0.5" fill="#222"/>
<circle cx="181.83" cy="55.91" r="0.5" fill="#222"/>
<circle cx="185.24" cy="74.39" r="0.5" fill="#222"/>
<circle cx="187.10" cy="76.55" r="0.5" fill="#222"/>
<circle cx="188.01" cy="73.13" r="0.5" fill="#222"/>
<circle cx="183.53" cy="76.89" r="0.5" fill="#222"/>
<circle cx="176.97" cy="59.99" r="0.5" fill="#222"/>
<circle cx="174.57" cy="71.72" r="0.5" fill="#222"/>
<circle cx="168.39" cy="65.32" r="0.5" fill="#222"/>
<circle cx="180.91" cy="73.92" r="0.5" fill="#222"/>
<circle cx="174.24" cy="71.27" r="0.5" fill="#222"/>
<circle cx="182.74" cy="64.76" r="0.5" fill="#222"/>
<circle cx="182.96" cy="68.64" r="0.5" fill="#222"/>
<circle cx="173.64" cy="66.88" r="0.5" fill="#222"/>
<circle cx="180.58" cy="63.73" r="0.5" fill="#222"/>
<circle cx="170.99" cy="70.48" r="0.5" fill="#222"/>
<circle cx="185.35" cy="70.98" r="0.5" fill="#222"/>
<circle cx="171.62" cy="59.39" r="0.5" fill="#222"/>
<circle cx="173.85" cy="72.68" r="0.5" fill="#222"/>
<circle cx="175.79" cy="69.63" r="0.5" fill="#222"/>
<circle cx="196.59" cy="50.31" r="0.5" fill="#222"/>
<circle cx="180.38" cy="70.25" r="0.5" fill="#222"/>
<circle cx="170.49" cy="81.94" r="0.5" fill="#222"/>
<circle cx="180.29" cy="74.63" r="0.5" fill="#222"/>
<circle cx="186.99" cy="85.93" r="0.5" fill="#222"/>
<circle cx="160.27" cy="118.70" r="0.4" fill="#333"/>
<circle cx="160.62" cy="124.37" r="0.4" fill="#333"/>
<circle cx="160.72" cy="115.88" r="0.4" fill="#333"/>
<circle cx="197.51" cy="112.84" r="0.4" fill="#333"/>
<circle cx="163.25" cy="111.77" r="0.4" fill="#333"/>
<circle cx="178.60" cy="87.92" r="0.4" fill="#333"/>
<circle cx="182.18" cy="90.57" r="0.4" fill="#333"/>
<circle cx="166.36" cy="106.60" r="0.4" fill="#333"/>
<circle cx="160.01" cy="121.31" r="0.4" fill="#333"/>
<circle cx="184.54" cy="88.26" r="0.4" fill="#333"/>
<circle cx="172.90" cy="96.49" r="0.4" fill="#333"/>
<circle cx="161.21" cy="121.94" r="0.4" fill="#333"/>
<line x1="131.20" y1="48.30" x2="134.00" y2="48.30" stroke="#000" stroke-width="0.9" />
<line x1="132.40" y1="62.14" x2="134.00" y2="62.14" stroke="#000" stroke-width="0.5" />
<line x1="132.40" y1="58.65" x2="134.00" y2="58.65" stroke="#000" stroke-width="0.5" />
<line x1="132.40" y1="56.18" x2="134.00" y2="56.18" stroke="#000" stroke-width="0.5" />
<line x1="132.40" y1="54.26" x2="134.00" y2="54.26" stroke="#000" stroke-width="0.5" />
<line x1="132.40" y1="52.69" x2="134.00" y2="52.69" stroke="#000" stroke-width="0.5" />
<line x1="132.40" y1="51.37" x2="134.00" y2="51.37" stroke="#000" stroke-width="0.5" />
<line x1="132.40" y1="50.22" x2="134.00" y2="50.22" stroke="#000" stroke-width="0.5" />
<line x1="132.40" y1="49.21" x2="134.00" y2="49.21" stroke="#000" stroke-width="0.5" />
<line x1="131.20" y1="68.10" x2="134.00" y2="68.10" stroke="#000" stroke-width="0.9" />
<line x1="132.40" y1="81.94" x2="134.00" y2="81.94" stroke="#000" stroke-width="0.5" />
<line x1="132.40" y1="78.45" x2="134.00" y2="78.45" stroke="#000" stroke-width="0.5" />
<line x1="132.40" y1="75.98" x2="134.00" y2="75.98" stroke="#000" stroke-width="0.5" />
<line x1="132.40" y1="74.06" x2="134.00" y2="74.06" stroke="#000" stroke-width="0.5" />
<line x1="132.40" y1="72.49" x2="134.00" y2="72.49" stroke="#000" stroke-width="0.5" />
<line x1="132.40" y1="71.17" x2="134.00" y2="71.17" stroke="#000" stroke-width="0.5" />
<line x1="132.40" y1="70.02" x2="134.00" y2="70.02" stroke="#000" stroke-width="0.5" />
<line x1="132.40" y1="69.01" x2="134.00" y2="69.01" stroke="#000" stroke-width="0.5" />
<line x1="131.20" y1="87.90" x2="134.00" y2="87.90" stroke="#000" stroke-width="0.9" />
<line x1="132.40" y1="101.46" x2="134.00" y2="101.46" stroke="#000" stroke-width="0.5" />
<line x1="132.40" y1="98.04" x2="134.00" y2="98.04" stroke="#000" stroke-width="0.5" />
<line x1="132.40" y1="95.62" x2="134.00" y2="95.62" stroke="#000" stroke-width="0.5" />
<line x1="132.40" y1="93.74" x2="134.00" y2="93.74" stroke="#000" stroke-width="0.5" />
<line x1="132.40" y1="92.20" x2="134.00" y2="92.20" stroke="#000" stroke-width="0.5" />
<line x1="132.40" y1="90.91" x2="134.00" y2="90.91" stroke="#000" stroke-width="0.5" />
<line x1="132.40" y1="89.78" x2="134.00" y2="89.78" stroke="#000" stroke-width="0.5" />
<line x1="132.40" y1="88.79" x2="134.00" y2="88.79" stroke="#000" stroke-width="0.5" />
<line x1="131.20" y1="107.30" x2="134.00" y2="107.30" stroke="#000" stroke-width="0.9" />
<line x1="132.40" y1="117.30" x2="134.00" y2="117.30" stroke="#000" stroke-width="0.6" />
<line x1="132.40" y1="110.90" x2="134.00" y2="110.90" stroke="#000" stroke-width="0.6" />
<line x1="132.40" y1="120.90" x2="134.00" y2="120.90" stroke="#000" stroke-width="0.6" />
<line x1="131.20" y1="117.30" x2="134.00" y2="117.30" stroke="#000" stroke-width="0.9" />
<line x1="144.50" y1="125.50" x2="144.50" y2="128.10" stroke="#000" stroke-width="0.9" />
<line x1="152.60" y1="125.50" x2="152.60" y2="128.10" stroke="#000" stroke-width="0.9" />
<line x1="158.62" y1="125.50" x2="158.62" y2="127.00" stroke="#000" stroke-width="0.5" />
<line x1="162.14" y1="125.50" x2="162.14" y2="127.00" stroke="#000" stroke-width="0.5" />
<line x1="164.64" y1="125.50" x2="164.64" y2="127.00" stroke="#000" stroke-width="0.5" />
<line x1="166.58" y1="125.50" x2="166.58" y2="127.00" stroke="#000" stroke-width="0.5" />
<line x1="168.16" y1="125.50" x2="168.16" y2="127.00" stroke="#000" stroke-width="0.5" />
<line x1="169.50" y1="125.50" x2="169.50" y2="127.00" stroke="#000" stroke-width="0.5" />
<line x1="170.66" y1="125.50" x2="170.66" y2="127.00" stroke="#000" stroke-width="0.5" />
<line x1="171.68" y1="125.50" x2="171.68" y2="127.00" stroke="#000" stroke-width="0.5" />
<line x1="172.60" y1="125.50" x2="172.60" y2="128.10" stroke="#000" stroke-width="0.9" />
<line x1="178.62" y1="125.50" x2="178.62" y2="127.00" stroke="#000" stroke-width="0.5" />
<line x1="182.14" y1="125.50" x2="182.14" y2="127.00" stroke="#000" stroke-width="0.5" />
<line x1="184.64" y1="125.50" x2="184.64" y2="127.00" stroke="#000" stroke-width="0.5" />
<line x1="186.58" y1="125.50" x2="186.58" y2="127.00" stroke="#000" stroke-width="0.5" />
<line x1="188.16" y1="125.50" x2="188.16" y2="127.00" stroke="#000" stroke-width="0.5" />
<line x1="189.50" y1="125.50" x2="189.50" y2="127.00" stroke="#000" stroke-width="0.5" />
<line x1="190.66" y1="125.50" x2="190.66" y2="127.00" stroke="#000" stroke-width="0.5" />
<line x1="191.68" y1="125.50" x2="191.68" y2="127.00" stroke="#000" stroke-width="0.5" />
<line x1="192.60" y1="125.50" x2="192.60" y2="128.10" stroke="#000" stroke-width="0.9" />
<line x1="198.62" y1="125.50" x2="198.62" y2="127.00" stroke="#000" stroke-width="0.5" />
<line x1="202.14" y1="125.50" x2="202.14" y2="127.00" stroke="#000" stroke-width="0.5" />
<line x1="204.64" y1="125.50" x2="204.64" y2="127.00" stroke="#000" stroke-width="0.5" />
<line x1="206.58" y1="125.50" x2="206.58" y2="127.00" stroke="#000" stroke-width="0.5" />
<line x1="208.16" y1="125.50" x2="208.16" y2="127.00" stroke="#000" stroke-width="0.5" />
<line x1="209.50" y1="125.50" x2="209.50" y2="127.00" stroke="#000" stroke-width="0.5" />
<line x1="210.66" y1="125.50" x2="210.66" y2="127.00" stroke="#000" stroke-width="0.5" />
<line x1="211.68" y1="125.50" x2="211.68" y2="127.00" stroke="#000" stroke-width="0.5" />
<line x1="212.60" y1="125.50" x2="212.60" y2="128.10" stroke="#000" stroke-width="0.9" />
<line x1="137.00" y1="125.50" x2="137.00" y2="127.00" stroke="#000" stroke-width="0.5" />
<line x1="140.00" y1="125.50" x2="140.00" y2="127.00" stroke="#000" stroke-width="0.5" />
<line x1="147.00" y1="125.50" x2="147.00" y2="127.00" stroke="#000" stroke-width="0.5" />
<line x1="149.50" y1="125.50" x2="149.50" y2="127.00" stroke="#000" stroke-width="0.5" />
<rect x="134.00" y="40.20" width="86.20" height="85.30" fill="none" stroke="#000" stroke-width="1.0" />
<line x1="134.00" y1="39.70" x2="134.00" y2="126.10" stroke="#000" stroke-width="1.5" />
<line x1="133.40" y1="125.50" x2="220.70" y2="125.50" stroke="#000" stroke-width="1.5" />
<rect x="160.00" y="42.80" width="40.60" height="47.80" fill="none" stroke="#000" stroke-width="0.95" />
<text x="137" y="49.4" font-size="8.8" text-anchor="start" font-weight="normal" fill="#111" textLength="13.2" lengthAdjust="spacingAndGlyphs" >4.7</text>
<clipPath id="cP3"><rect x="43" y="131.8" width="86.6" height="85.5"/></clipPath>
<radialGradient id="rg3"><stop offset="0" stop-color="#000" stop-opacity="0.650"/><stop offset="0.5" stop-color="#000" stop-opacity="0.390"/><stop offset="1" stop-color="#000" stop-opacity="0.000"/></radialGradient>
<ellipse cx="95" cy="193" rx="9" ry="7" fill="url(#rg3)" clip-path="url(#cP3)"/>
<path d="M94.00,196.08 L92.69,196.05 L91.75,195.64 L91.37,195.05 L91.36,194.05 L92.00,193.22 L93.50,192.63 L94.50,192.01 L95.25,191.92 L95.75,192.30 L95.98,192.80 L95.94,194.05 L95.25,195.49 L94.75,195.86 L94.00,196.08Z" fill="none" stroke="#111" stroke-width="0.62" clip-path="url(#cP3)"/>
<path d="M94.00,197.06 L92.00,196.93 L90.80,196.30 L90.21,195.30 L90.23,193.80 L90.60,193.05 L91.50,192.37 L94.50,191.33 L95.25,191.30 L96.00,191.70 L96.58,192.55 L96.82,193.55 L96.71,194.80 L96.48,195.55 L95.92,196.30 L95.00,196.84 L94.00,197.06Z" fill="none" stroke="#111" stroke-width="0.62" clip-path="url(#cP3)"/>
<path d="M94.25,198.06 L92.00,198.03 L90.25,197.22 L89.61,196.55 L89.24,195.80 L89.11,194.05 L89.54,192.80 L90.66,191.80 L94.25,190.73 L95.25,190.69 L96.25,191.11 L97.27,192.30 L97.68,193.55 L97.64,195.05 L97.34,196.05 L96.55,197.05 L95.50,197.70 L94.25,198.06Z" fill="none" stroke="#111" stroke-width="0.62" clip-path="url(#cP3)"/>
<path d="M92.75,205.33 L92.55,204.80 L92.75,204.26 L93.00,204.37 L93.05,204.80 L93.00,205.15 L92.75,205.33Z" fill="none" stroke="#111" stroke-width="0.62" clip-path="url(#cP3)"/>
<path d="M93.25,207.88 L92.50,207.91 L92.00,207.67 L91.36,206.30 L91.22,203.30 L91.84,200.30 L91.36,199.55 L89.27,197.80 L88.50,196.80 L88.08,195.55 L88.08,193.80 L88.64,192.30 L90.00,191.12 L92.00,190.45 L94.25,190.02 L95.25,190.02 L96.75,190.60 L97.96,191.80 L98.59,193.30 L98.65,195.05 L98.35,196.30 L97.73,197.30 L96.75,198.17 L94.53,199.55 L93.89,200.30 L94.39,203.30 L94.34,205.55 L94.00,207.10 L93.25,207.88Z" fill="none" stroke="#111" stroke-width="0.62" clip-path="url(#cP3)"/>
<path d="M93.50,209.37 L92.00,209.33 L91.34,208.80 L90.92,208.05 L90.51,206.30 L90.02,200.80 L89.50,199.80 L88.00,198.06 L87.38,197.05 L86.99,195.80 L86.95,194.05 L87.11,193.05 L87.52,192.05 L88.09,191.30 L89.00,190.57 L91.25,189.71 L95.00,189.23 L97.00,189.81 L98.75,191.26 L99.60,193.05 L99.72,195.05 L99.50,196.30 L98.89,197.55 L96.24,200.05 L95.73,200.80 L95.42,202.05 L94.92,207.30 L94.26,208.80 L93.50,209.37Z" fill="none" stroke="#111" stroke-width="0.62" clip-path="url(#cP3)"/>
<path d="M93.50,210.82 L92.50,210.88 L91.75,210.71 L91.00,210.16 L90.44,209.30 L89.90,207.55 L89.04,201.80 L88.50,200.65 L86.88,198.55 L86.19,197.30 L85.79,195.80 L85.76,194.05 L85.95,192.80 L86.47,191.55 L87.25,190.56 L88.25,189.79 L89.50,189.20 L91.00,188.78 L95.00,188.36 L96.25,188.56 L97.50,189.03 L98.50,189.62 L99.55,190.55 L100.25,191.55 L100.65,192.55 L100.86,195.30 L100.56,196.80 L99.94,198.05 L97.32,200.80 L96.75,201.68 L96.28,203.30 L95.79,207.05 L95.37,208.80 L94.50,210.26 L93.50,210.82Z" fill="none" stroke="#111" stroke-width="0.62" clip-path="url(#cP3)"/>
<path d="M93.25,212.31 L92.00,212.26 L91.25,211.98 L90.50,211.35 L89.84,210.30 L89.20,208.30 L88.55,204.30 L88.04,202.55 L87.37,201.30 L85.52,198.80 L84.81,197.30 L84.50,195.80 L84.49,193.80 L84.75,192.30 L85.29,191.05 L86.25,189.83 L87.50,188.89 L89.00,188.20 L90.75,187.74 L93.25,187.41 L95.25,187.39 L96.75,187.66 L98.25,188.22 L99.62,189.05 L100.69,190.05 L101.38,191.05 L101.89,192.30 L102.12,193.80 L102.11,195.55 L101.82,197.05 L101.12,198.55 L98.25,201.75 L97.50,203.03 L97.00,204.76 L96.35,208.55 L95.64,210.55 L94.50,211.89 L93.25,212.31Z" fill="none" stroke="#111" stroke-width="0.62" clip-path="url(#cP3)"/>
<path d="M93.50,213.81 L92.00,213.79 L91.00,213.47 L90.00,212.65 L89.28,211.55 L88.55,209.55 L87.74,205.55 L87.19,203.80 L86.50,202.49 L84.34,199.55 L83.49,197.80 L83.11,196.05 L83.08,193.80 L83.35,192.05 L83.96,190.55 L84.88,189.30 L86.25,188.15 L88.00,187.26 L90.00,186.67 L92.50,186.31 L95.00,186.24 L96.75,186.48 L98.75,187.13 L100.25,187.95 L101.57,189.05 L102.53,190.30 L103.19,191.80 L103.48,193.30 L103.52,195.30 L103.21,197.30 L102.44,199.05 L101.53,200.30 L99.25,202.74 L98.44,204.05 L97.92,205.55 L96.92,210.05 L96.19,211.80 L95.00,213.22 L93.50,213.81Z" fill="none" stroke="#111" stroke-width="0.62" clip-path="url(#cP3)"/>
<path d="M94.25,215.32 L92.50,215.48 L91.00,215.20 L89.75,214.38 L88.90,213.30 L87.91,211.05 L86.24,205.05 L85.25,203.31 L82.99,200.30 L82.10,198.55 L81.63,196.80 L81.49,194.80 L81.64,192.55 L82.23,190.55 L83.25,188.87 L84.59,187.55 L86.50,186.38 L88.50,185.63 L91.00,185.13 L94.25,184.92 L96.50,185.10 L98.75,185.68 L100.75,186.61 L102.38,187.80 L103.70,189.30 L104.49,190.80 L104.95,192.55 L105.09,194.80 L104.88,197.05 L104.32,198.80 L103.25,200.59 L100.50,203.62 L99.50,205.09 L98.84,206.80 L97.70,211.05 L96.99,212.80 L95.75,214.48 L94.25,215.32Z" fill="none" stroke="#111" stroke-width="0.62" clip-path="url(#cP3)"/>
<path d="M94.50,217.10 L92.50,217.29 L90.75,216.99 L89.50,216.26 L88.42,215.05 L87.17,212.55 L85.25,206.55 L84.27,204.80 L81.00,200.30 L80.18,198.30 L79.82,196.30 L79.79,193.55 L80.12,191.30 L80.91,189.30 L82.15,187.55 L83.87,186.05 L86.00,184.87 L88.50,184.03 L91.25,183.57 L94.50,183.44 L97.00,183.67 L99.50,184.34 L101.75,185.38 L103.75,186.83 L105.24,188.55 L106.24,190.55 L106.73,192.80 L106.68,196.80 L106.35,198.30 L105.75,199.80 L104.65,201.55 L101.71,204.80 L100.65,206.30 L99.88,208.05 L98.35,212.80 L97.36,214.80 L96.00,216.34 L94.50,217.10Z" fill="none" stroke="#111" stroke-width="0.62" clip-path="url(#cP3)"/>
<path d="M94.75,219.09 L92.75,219.30 L90.75,219.06 L89.25,218.33 L87.94,217.05 L86.39,214.30 L84.61,209.30 L83.75,207.41 L80.14,202.55 L79.08,200.80 L78.31,198.80 L77.91,196.80 L77.84,193.55 L78.18,191.05 L78.99,188.80 L80.30,186.80 L82.25,184.97 L84.75,183.48 L87.50,182.47 L90.50,181.90 L94.25,181.71 L97.25,181.97 L100.25,182.76 L103.00,184.06 L105.34,185.80 L107.02,187.80 L108.12,190.05 L108.65,192.55 L108.61,197.05 L108.15,199.05 L107.41,200.80 L106.08,202.80 L103.00,206.19 L101.85,207.80 L101.00,209.52 L99.13,214.55 L98.00,216.61 L96.50,218.22 L94.75,219.09Z" fill="none" stroke="#111" stroke-width="0.62" clip-path="url(#cP3)"/>
<path d="M86,185 C90,181 95,180 97,177 C99,174 101,172 103,176 C104,179 104,182 105,185" fill="none" stroke="#333" stroke-width="0.5"/>
<circle cx="93.99" cy="177.22" r="0.5" fill="#222"/>
<circle cx="94.22" cy="181.16" r="0.5" fill="#222"/>
<circle cx="94.11" cy="171.26" r="0.5" fill="#222"/>
<circle cx="97.33" cy="176.80" r="0.5" fill="#222"/>
<circle cx="93.48" cy="178.52" r="0.5" fill="#222"/>
<circle cx="96.63" cy="183.24" r="0.5" fill="#222"/>
<circle cx="99.60" cy="178.50" r="0.5" fill="#222"/>
<circle cx="89.83" cy="173.43" r="0.5" fill="#222"/>
<circle cx="96.72" cy="183.90" r="0.5" fill="#222"/>
<circle cx="95.29" cy="177.52" r="0.5" fill="#222"/>
<circle cx="98.72" cy="171.46" r="0.5" fill="#222"/>
<circle cx="92.81" cy="180.21" r="0.5" fill="#222"/>
<circle cx="101.11" cy="176.92" r="0.5" fill="#222"/>
<circle cx="97.64" cy="179.12" r="0.5" fill="#222"/>
<circle cx="100.48" cy="172.99" r="0.5" fill="#222"/>
<circle cx="98.98" cy="171.18" r="0.5" fill="#222"/>
<circle cx="88.59" cy="181.94" r="0.5" fill="#222"/>
<circle cx="99.65" cy="172.51" r="0.5" fill="#222"/>
<circle cx="100.93" cy="173.49" r="0.5" fill="#222"/>
<circle cx="94.40" cy="176.68" r="0.5" fill="#222"/>
<circle cx="95.80" cy="181.68" r="0.5" fill="#222"/>
<circle cx="99.47" cy="179.57" r="0.5" fill="#222"/>
<line x1="40.20" y1="139.90" x2="43.00" y2="139.90" stroke="#000" stroke-width="0.9" />
<line x1="41.40" y1="153.74" x2="43.00" y2="153.74" stroke="#000" stroke-width="0.5" />
<line x1="41.40" y1="150.25" x2="43.00" y2="150.25" stroke="#000" stroke-width="0.5" />
<line x1="41.40" y1="147.78" x2="43.00" y2="147.78" stroke="#000" stroke-width="0.5" />
<line x1="41.40" y1="145.86" x2="43.00" y2="145.86" stroke="#000" stroke-width="0.5" />
<line x1="41.40" y1="144.29" x2="43.00" y2="144.29" stroke="#000" stroke-width="0.5" />
<line x1="41.40" y1="142.97" x2="43.00" y2="142.97" stroke="#000" stroke-width="0.5" />
<line x1="41.40" y1="141.82" x2="43.00" y2="141.82" stroke="#000" stroke-width="0.5" />
<line x1="41.40" y1="140.81" x2="43.00" y2="140.81" stroke="#000" stroke-width="0.5" />
<line x1="40.20" y1="159.70" x2="43.00" y2="159.70" stroke="#000" stroke-width="0.9" />
<line x1="41.40" y1="173.54" x2="43.00" y2="173.54" stroke="#000" stroke-width="0.5" />
<line x1="41.40" y1="170.05" x2="43.00" y2="170.05" stroke="#000" stroke-width="0.5" />
<line x1="41.40" y1="167.58" x2="43.00" y2="167.58" stroke="#000" stroke-width="0.5" />
<line x1="41.40" y1="165.66" x2="43.00" y2="165.66" stroke="#000" stroke-width="0.5" />
<line x1="41.40" y1="164.09" x2="43.00" y2="164.09" stroke="#000" stroke-width="0.5" />
<line x1="41.40" y1="162.77" x2="43.00" y2="162.77" stroke="#000" stroke-width="0.5" />
<line x1="41.40" y1="161.62" x2="43.00" y2="161.62" stroke="#000" stroke-width="0.5" />
<line x1="41.40" y1="160.61" x2="43.00" y2="160.61" stroke="#000" stroke-width="0.5" />
<line x1="40.20" y1="179.50" x2="43.00" y2="179.50" stroke="#000" stroke-width="0.9" />
<line x1="41.40" y1="193.06" x2="43.00" y2="193.06" stroke="#000" stroke-width="0.5" />
<line x1="41.40" y1="189.64" x2="43.00" y2="189.64" stroke="#000" stroke-width="0.5" />
<line x1="41.40" y1="187.22" x2="43.00" y2="187.22" stroke="#000" stroke-width="0.5" />
<line x1="41.40" y1="185.34" x2="43.00" y2="185.34" stroke="#000" stroke-width="0.5" />
<line x1="41.40" y1="183.80" x2="43.00" y2="183.80" stroke="#000" stroke-width="0.5" />
<line x1="41.40" y1="182.51" x2="43.00" y2="182.51" stroke="#000" stroke-width="0.5" />
<line x1="41.40" y1="181.38" x2="43.00" y2="181.38" stroke="#000" stroke-width="0.5" />
<line x1="41.40" y1="180.39" x2="43.00" y2="180.39" stroke="#000" stroke-width="0.5" />
<line x1="40.20" y1="198.90" x2="43.00" y2="198.90" stroke="#000" stroke-width="0.9" />
<line x1="41.40" y1="208.90" x2="43.00" y2="208.90" stroke="#000" stroke-width="0.6" />
<line x1="41.40" y1="202.50" x2="43.00" y2="202.50" stroke="#000" stroke-width="0.6" />
<line x1="41.40" y1="212.50" x2="43.00" y2="212.50" stroke="#000" stroke-width="0.6" />
<line x1="40.20" y1="208.90" x2="43.00" y2="208.90" stroke="#000" stroke-width="0.9" />
<line x1="53.50" y1="217.30" x2="53.50" y2="219.90" stroke="#000" stroke-width="0.9" />
<line x1="61.60" y1="217.30" x2="61.60" y2="219.90" stroke="#000" stroke-width="0.9" />
<line x1="67.62" y1="217.30" x2="67.62" y2="218.80" stroke="#000" stroke-width="0.5" />
<line x1="71.14" y1="217.30" x2="71.14" y2="218.80" stroke="#000" stroke-width="0.5" />
<line x1="73.64" y1="217.30" x2="73.64" y2="218.80" stroke="#000" stroke-width="0.5" />
<line x1="75.58" y1="217.30" x2="75.58" y2="218.80" stroke="#000" stroke-width="0.5" />
<line x1="77.16" y1="217.30" x2="77.16" y2="218.80" stroke="#000" stroke-width="0.5" />
<line x1="78.50" y1="217.30" x2="78.50" y2="218.80" stroke="#000" stroke-width="0.5" />
<line x1="79.66" y1="217.30" x2="79.66" y2="218.80" stroke="#000" stroke-width="0.5" />
<line x1="80.68" y1="217.30" x2="80.68" y2="218.80" stroke="#000" stroke-width="0.5" />
<line x1="81.60" y1="217.30" x2="81.60" y2="219.90" stroke="#000" stroke-width="0.9" />
<line x1="87.62" y1="217.30" x2="87.62" y2="218.80" stroke="#000" stroke-width="0.5" />
<line x1="91.14" y1="217.30" x2="91.14" y2="218.80" stroke="#000" stroke-width="0.5" />
<line x1="93.64" y1="217.30" x2="93.64" y2="218.80" stroke="#000" stroke-width="0.5" />
<line x1="95.58" y1="217.30" x2="95.58" y2="218.80" stroke="#000" stroke-width="0.5" />
<line x1="97.16" y1="217.30" x2="97.16" y2="218.80" stroke="#000" stroke-width="0.5" />
<line x1="98.50" y1="217.30" x2="98.50" y2="218.80" stroke="#000" stroke-width="0.5" />
<line x1="99.66" y1="217.30" x2="99.66" y2="218.80" stroke="#000" stroke-width="0.5" />
<line x1="100.68" y1="217.30" x2="100.68" y2="218.80" stroke="#000" stroke-width="0.5" />
<line x1="101.60" y1="217.30" x2="101.60" y2="219.90" stroke="#000" stroke-width="0.9" />
<line x1="107.62" y1="217.30" x2="107.62" y2="218.80" stroke="#000" stroke-width="0.5" />
<line x1="111.14" y1="217.30" x2="111.14" y2="218.80" stroke="#000" stroke-width="0.5" />
<line x1="113.64" y1="217.30" x2="113.64" y2="218.80" stroke="#000" stroke-width="0.5" />
<line x1="115.58" y1="217.30" x2="115.58" y2="218.80" stroke="#000" stroke-width="0.5" />
<line x1="117.16" y1="217.30" x2="117.16" y2="218.80" stroke="#000" stroke-width="0.5" />
<line x1="118.50" y1="217.30" x2="118.50" y2="218.80" stroke="#000" stroke-width="0.5" />
<line x1="119.66" y1="217.30" x2="119.66" y2="218.80" stroke="#000" stroke-width="0.5" />
<line x1="120.68" y1="217.30" x2="120.68" y2="218.80" stroke="#000" stroke-width="0.5" />
<line x1="121.60" y1="217.30" x2="121.60" y2="219.90" stroke="#000" stroke-width="0.9" />
<line x1="46.00" y1="217.30" x2="46.00" y2="218.80" stroke="#000" stroke-width="0.5" />
<line x1="49.00" y1="217.30" x2="49.00" y2="218.80" stroke="#000" stroke-width="0.5" />
<line x1="56.00" y1="217.30" x2="56.00" y2="218.80" stroke="#000" stroke-width="0.5" />
<line x1="58.50" y1="217.30" x2="58.50" y2="218.80" stroke="#000" stroke-width="0.5" />
<rect x="43.00" y="131.80" width="86.60" height="85.50" fill="none" stroke="#000" stroke-width="1.0" />
<line x1="43.00" y1="131.30" x2="43.00" y2="217.90" stroke="#000" stroke-width="1.5" />
<line x1="42.40" y1="217.30" x2="130.10" y2="217.30" stroke="#000" stroke-width="1.5" />
<text x="26.43" y="141.50" font-size="7.2" fill="#111">10<tspan font-size="5.47" dy="-3.02">5</tspan></text>
<text x="26.43" y="161.30" font-size="7.2" fill="#111">10<tspan font-size="5.47" dy="-3.02">4</tspan></text>
<text x="26.43" y="181.10" font-size="7.2" fill="#111">10<tspan font-size="5.47" dy="-3.02">3</tspan></text>
<text x="26.43" y="200.50" font-size="7.2" fill="#111">10<tspan font-size="5.47" dy="-3.02">2</tspan></text>
<text x="34.4" y="210.5" font-size="7.2" text-anchor="end" font-weight="normal" fill="#111" >0</text>
<rect x="45.80" y="137.60" width="71.70" height="47.90" fill="none" stroke="#000" stroke-width="0.95" />
<text x="52" y="165.5" font-size="8.8" text-anchor="start" font-weight="normal" fill="#111" textLength="13.2" lengthAdjust="spacingAndGlyphs" >3.6</text>
<clipPath id="cP4"><rect x="133.75" y="131.8" width="86.55000000000001" height="85.19999999999999"/></clipPath>
<radialGradient id="rg4"><stop offset="0" stop-color="#000" stop-opacity="0.600"/><stop offset="0.5" stop-color="#000" stop-opacity="0.360"/><stop offset="1" stop-color="#000" stop-opacity="0.000"/></radialGradient>
<ellipse cx="191" cy="195" rx="9" ry="9" fill="url(#rg4)" clip-path="url(#cP4)"/>
<path d="M187.50,198.89 L186.50,199.02 L185.74,198.80 L185.04,198.05 L184.94,197.30 L185.25,196.57 L185.75,196.12 L187.75,195.42 L188.50,195.82 L188.86,197.05 L188.50,198.15 L187.50,198.89Z" fill="none" stroke="#111" stroke-width="0.62" clip-path="url(#cP4)"/>
<path d="M187.50,200.10 L186.25,200.24 L185.00,199.86 L184.11,199.05 L183.63,197.80 L183.79,196.55 L184.45,195.55 L185.50,194.87 L187.00,194.51 L188.00,194.58 L188.75,195.02 L189.29,195.80 L189.56,196.80 L189.51,197.80 L189.14,198.80 L188.50,199.56 L187.50,200.10Z" fill="none" stroke="#111" stroke-width="0.62" clip-path="url(#cP4)"/>
<path d="M194.00,193.53 L193.75,193.43 L193.68,193.05 L193.75,192.77 L194.00,192.67 L194.18,193.05 L194.00,193.53Z" fill="none" stroke="#111" stroke-width="0.62" clip-path="url(#cP4)"/>
<path d="M186.75,201.33 L185.25,201.15 L183.75,200.28 L182.86,199.05 L182.53,197.30 L182.94,195.80 L184.00,194.52 L185.50,193.75 L187.25,193.53 L188.50,193.84 L189.65,194.80 L190.28,196.05 L190.45,197.55 L190.06,199.05 L189.25,200.20 L188.25,200.92 L186.75,201.33Z" fill="none" stroke="#111" stroke-width="0.62" clip-path="url(#cP4)"/>
<path d="M188.00,182.36 L187.25,182.43 L186.75,182.22 L186.25,181.70 L185.98,181.05 L185.94,180.30 L186.16,179.55 L186.54,179.05 L187.25,178.67 L188.25,178.88 L188.75,179.39 L189.02,180.05 L189.07,180.80 L188.85,181.55 L188.00,182.36Z" fill="none" stroke="#111" stroke-width="0.62" clip-path="url(#cP4)"/>
<path d="M194.00,195.18 L193.50,195.22 L192.86,194.80 L192.56,193.55 L192.72,192.55 L193.06,191.80 L193.50,191.36 L194.00,191.24 L194.75,191.84 L195.05,193.05 L194.75,194.44 L194.00,195.18Z" fill="none" stroke="#111" stroke-width="0.62" clip-path="url(#cP4)"/>
<path d="M187.50,202.32 L185.50,202.39 L183.75,201.66 L182.36,200.30 L181.82,199.30 L181.54,198.30 L181.63,196.30 L182.50,194.55 L184.00,193.26 L186.00,192.57 L187.75,192.57 L189.25,193.12 L190.88,194.55 L191.58,196.05 L191.43,198.30 L190.67,200.05 L189.25,201.52 L187.50,202.32Z" fill="none" stroke="#111" stroke-width="0.62" clip-path="url(#cP4)"/>
<path d="M187.75,183.57 L186.75,183.44 L186.00,182.94 L185.38,182.05 L185.07,180.80 L185.22,179.55 L185.74,178.55 L186.50,177.90 L187.50,177.64 L188.50,177.90 L189.25,178.53 L189.79,179.55 L189.95,180.55 L189.82,181.55 L189.35,182.55 L188.75,183.17 L187.75,183.57Z" fill="none" stroke="#111" stroke-width="0.62" clip-path="url(#cP4)"/>
<path d="M186.75,203.81 L185.50,203.92 L184.25,203.46 L182.50,202.17 L181.21,200.55 L180.58,199.05 L180.38,197.55 L180.57,196.05 L181.19,194.55 L182.75,192.77 L185.00,191.63 L186.25,191.38 L187.75,191.41 L191.00,192.40 L191.50,192.25 L193.25,190.42 L194.00,190.28 L194.50,190.46 L195.25,191.38 L195.62,192.80 L195.51,194.30 L195.00,195.61 L193.26,197.55 L191.85,200.30 L190.75,201.69 L189.00,202.99 L186.75,203.81Z" fill="none" stroke="#111" stroke-width="0.62" clip-path="url(#cP4)"/>
<path d="M185.25,209.87 L184.75,209.86 L184.25,209.52 L183.81,208.30 L184.11,207.05 L184.50,206.56 L185.00,206.34 L185.50,206.46 L185.83,206.80 L186.24,208.05 L186.00,209.19 L185.25,209.87Z" fill="none" stroke="#111" stroke-width="0.62" clip-path="url(#cP4)"/>
<path d="M187.75,184.81 L186.50,184.60 L185.41,183.80 L184.62,182.55 L184.25,180.80 L184.45,179.30 L185.25,177.81 L186.25,177.01 L187.50,176.71 L188.75,177.01 L189.75,177.80 L190.48,179.05 L190.78,180.55 L190.60,182.05 L190.00,183.35 L189.00,184.36 L187.75,184.81Z" fill="none" stroke="#111" stroke-width="0.62" clip-path="url(#cP4)"/>
<path d="M185.50,210.82 L184.75,210.88 L184.25,210.70 L183.40,209.80 L182.96,208.30 L183.11,205.80 L183.00,204.97 L180.59,201.80 L179.67,200.05 L179.33,198.80 L179.22,197.30 L179.76,194.80 L180.43,193.55 L181.50,192.28 L183.00,191.14 L184.50,190.42 L187.00,189.95 L190.75,190.47 L193.00,189.37 L194.25,189.33 L195.41,190.30 L196.11,192.05 L196.18,194.30 L195.63,196.30 L193.36,200.30 L192.08,202.05 L190.75,203.30 L187.61,205.55 L187.30,206.30 L186.89,209.30 L186.28,210.30 L185.50,210.82Z" fill="none" stroke="#111" stroke-width="0.62" clip-path="url(#cP4)"/>
<path d="M185.25,211.80 L184.50,211.75 L183.75,211.40 L182.64,210.05 L182.20,208.80 L181.51,205.55 L179.36,202.30 L178.41,200.30 L178.05,198.80 L177.96,197.05 L178.59,194.30 L180.00,191.96 L181.75,190.29 L185.30,188.05 L186.03,187.30 L185.85,186.55 L184.50,184.68 L183.83,183.30 L183.42,181.55 L183.43,180.05 L183.93,178.30 L185.00,176.80 L186.25,175.99 L187.75,175.76 L189.00,176.10 L190.27,177.05 L191.10,178.30 L191.61,180.05 L191.63,181.80 L191.29,183.30 L190.62,184.80 L189.30,186.80 L189.28,187.30 L189.81,187.80 L190.49,188.05 L193.50,187.94 L194.50,188.25 L195.25,188.79 L196.01,189.80 L196.63,191.30 L196.89,192.80 L196.90,194.55 L196.16,197.80 L194.37,201.30 L192.50,203.55 L189.00,206.50 L187.15,210.55 L186.25,211.44 L185.25,211.80Z" fill="none" stroke="#111" stroke-width="0.62" clip-path="url(#cP4)"/>
<path d="M186.00,212.60 L184.75,212.76 L183.75,212.46 L182.85,211.80 L182.07,210.80 L180.25,206.34 L178.15,203.05 L177.29,201.30 L176.67,199.05 L176.56,197.05 L177.00,194.55 L178.01,192.30 L179.48,190.30 L182.19,187.55 L182.77,186.55 L182.89,185.30 L182.47,182.55 L182.41,180.80 L182.62,179.30 L183.15,177.80 L184.00,176.48 L185.25,175.39 L186.50,174.86 L187.75,174.74 L189.00,175.01 L190.25,175.72 L191.10,176.55 L191.90,177.80 L192.65,180.30 L192.72,184.05 L192.89,185.05 L193.40,185.80 L195.57,187.55 L196.76,189.30 L197.63,192.05 L197.80,195.05 L197.61,196.80 L197.13,198.80 L196.45,200.55 L195.46,202.30 L193.60,204.55 L190.00,207.75 L187.51,211.55 L186.00,212.60Z" fill="none" stroke="#111" stroke-width="0.62" clip-path="url(#cP4)"/>
<path d="M185.50,213.81 L184.25,213.74 L183.00,213.20 L181.96,212.30 L181.04,211.05 L179.25,207.67 L176.77,203.80 L175.91,202.05 L175.14,199.30 L175.02,196.80 L175.44,194.30 L176.32,192.05 L177.54,190.05 L180.06,186.80 L180.71,185.55 L181.01,184.30 L181.41,179.80 L182.37,177.05 L183.42,175.55 L184.75,174.43 L186.25,173.78 L187.75,173.62 L189.25,173.92 L190.75,174.74 L191.86,175.80 L192.84,177.30 L193.61,179.30 L194.68,183.80 L197.10,187.55 L198.19,190.05 L198.84,193.05 L198.94,196.05 L198.68,198.30 L198.15,200.30 L197.28,202.30 L196.17,204.05 L194.50,205.95 L191.00,209.05 L188.00,212.55 L186.75,213.43 L185.50,213.81Z" fill="none" stroke="#111" stroke-width="0.62" clip-path="url(#cP4)"/>
<path d="M185.25,215.05 L183.25,214.66 L181.30,213.30 L179.86,211.55 L175.95,205.80 L174.69,203.55 L173.82,201.30 L173.36,199.05 L173.30,196.55 L173.63,194.30 L174.36,192.05 L175.50,189.80 L178.75,184.68 L179.25,183.30 L180.42,178.55 L181.57,176.05 L182.97,174.30 L184.50,173.15 L186.25,172.49 L188.00,172.37 L189.75,172.77 L191.50,173.77 L193.00,175.28 L194.12,177.05 L196.25,182.75 L198.44,187.05 L199.42,189.55 L200.28,193.55 L200.39,197.05 L200.03,199.55 L199.35,201.80 L198.26,204.05 L196.84,206.05 L195.17,207.80 L188.50,213.78 L187.00,214.66 L185.25,215.05Z" fill="none" stroke="#111" stroke-width="0.62" clip-path="url(#cP4)"/>
<path d="M186.50,216.34 L184.25,216.42 L182.00,215.60 L180.03,214.05 L177.65,211.30 L174.64,207.30 L172.79,204.05 L171.65,200.55 L171.33,197.05 L171.68,194.05 L172.61,191.05 L173.84,188.55 L176.96,183.30 L179.10,177.80 L180.39,175.30 L182.00,173.32 L183.75,171.97 L185.75,171.14 L187.75,170.91 L190.00,171.34 L192.00,172.38 L193.83,174.05 L195.40,176.30 L199.64,185.55 L200.91,188.80 L201.90,192.80 L202.18,196.80 L201.89,199.55 L201.16,202.30 L199.89,205.05 L198.35,207.30 L195.75,209.97 L190.40,214.30 L188.25,215.70 L186.50,216.34Z" fill="none" stroke="#111" stroke-width="0.62" clip-path="url(#cP4)"/>
<line x1="130.95" y1="139.90" x2="133.75" y2="139.90" stroke="#000" stroke-width="0.9" />
<line x1="132.15" y1="153.74" x2="133.75" y2="153.74" stroke="#000" stroke-width="0.5" />
<line x1="132.15" y1="150.25" x2="133.75" y2="150.25" stroke="#000" stroke-width="0.5" />
<line x1="132.15" y1="147.78" x2="133.75" y2="147.78" stroke="#000" stroke-width="0.5" />
<line x1="132.15" y1="145.86" x2="133.75" y2="145.86" stroke="#000" stroke-width="0.5" />
<line x1="132.15" y1="144.29" x2="133.75" y2="144.29" stroke="#000" stroke-width="0.5" />
<line x1="132.15" y1="142.97" x2="133.75" y2="142.97" stroke="#000" stroke-width="0.5" />
<line x1="132.15" y1="141.82" x2="133.75" y2="141.82" stroke="#000" stroke-width="0.5" />
<line x1="132.15" y1="140.81" x2="133.75" y2="140.81" stroke="#000" stroke-width="0.5" />
<line x1="130.95" y1="159.70" x2="133.75" y2="159.70" stroke="#000" stroke-width="0.9" />
<line x1="132.15" y1="173.54" x2="133.75" y2="173.54" stroke="#000" stroke-width="0.5" />
<line x1="132.15" y1="170.05" x2="133.75" y2="170.05" stroke="#000" stroke-width="0.5" />
<line x1="132.15" y1="167.58" x2="133.75" y2="167.58" stroke="#000" stroke-width="0.5" />
<line x1="132.15" y1="165.66" x2="133.75" y2="165.66" stroke="#000" stroke-width="0.5" />
<line x1="132.15" y1="164.09" x2="133.75" y2="164.09" stroke="#000" stroke-width="0.5" />
<line x1="132.15" y1="162.77" x2="133.75" y2="162.77" stroke="#000" stroke-width="0.5" />
<line x1="132.15" y1="161.62" x2="133.75" y2="161.62" stroke="#000" stroke-width="0.5" />
<line x1="132.15" y1="160.61" x2="133.75" y2="160.61" stroke="#000" stroke-width="0.5" />
<line x1="130.95" y1="179.50" x2="133.75" y2="179.50" stroke="#000" stroke-width="0.9" />
<line x1="132.15" y1="193.06" x2="133.75" y2="193.06" stroke="#000" stroke-width="0.5" />
<line x1="132.15" y1="189.64" x2="133.75" y2="189.64" stroke="#000" stroke-width="0.5" />
<line x1="132.15" y1="187.22" x2="133.75" y2="187.22" stroke="#000" stroke-width="0.5" />
<line x1="132.15" y1="185.34" x2="133.75" y2="185.34" stroke="#000" stroke-width="0.5" />
<line x1="132.15" y1="183.80" x2="133.75" y2="183.80" stroke="#000" stroke-width="0.5" />
<line x1="132.15" y1="182.51" x2="133.75" y2="182.51" stroke="#000" stroke-width="0.5" />
<line x1="132.15" y1="181.38" x2="133.75" y2="181.38" stroke="#000" stroke-width="0.5" />
<line x1="132.15" y1="180.39" x2="133.75" y2="180.39" stroke="#000" stroke-width="0.5" />
<line x1="130.95" y1="198.90" x2="133.75" y2="198.90" stroke="#000" stroke-width="0.9" />
<line x1="132.15" y1="208.90" x2="133.75" y2="208.90" stroke="#000" stroke-width="0.6" />
<line x1="132.15" y1="202.50" x2="133.75" y2="202.50" stroke="#000" stroke-width="0.6" />
<line x1="132.15" y1="212.50" x2="133.75" y2="212.50" stroke="#000" stroke-width="0.6" />
<line x1="130.95" y1="208.90" x2="133.75" y2="208.90" stroke="#000" stroke-width="0.9" />
<line x1="144.25" y1="217.00" x2="144.25" y2="219.60" stroke="#000" stroke-width="0.9" />
<line x1="152.35" y1="217.00" x2="152.35" y2="219.60" stroke="#000" stroke-width="0.9" />
<line x1="158.37" y1="217.00" x2="158.37" y2="218.50" stroke="#000" stroke-width="0.5" />
<line x1="161.89" y1="217.00" x2="161.89" y2="218.50" stroke="#000" stroke-width="0.5" />
<line x1="164.39" y1="217.00" x2="164.39" y2="218.50" stroke="#000" stroke-width="0.5" />
<line x1="166.33" y1="217.00" x2="166.33" y2="218.50" stroke="#000" stroke-width="0.5" />
<line x1="167.91" y1="217.00" x2="167.91" y2="218.50" stroke="#000" stroke-width="0.5" />
<line x1="169.25" y1="217.00" x2="169.25" y2="218.50" stroke="#000" stroke-width="0.5" />
<line x1="170.41" y1="217.00" x2="170.41" y2="218.50" stroke="#000" stroke-width="0.5" />
<line x1="171.43" y1="217.00" x2="171.43" y2="218.50" stroke="#000" stroke-width="0.5" />
<line x1="172.35" y1="217.00" x2="172.35" y2="219.60" stroke="#000" stroke-width="0.9" />
<line x1="178.37" y1="217.00" x2="178.37" y2="218.50" stroke="#000" stroke-width="0.5" />
<line x1="181.89" y1="217.00" x2="181.89" y2="218.50" stroke="#000" stroke-width="0.5" />
<line x1="184.39" y1="217.00" x2="184.39" y2="218.50" stroke="#000" stroke-width="0.5" />
<line x1="186.33" y1="217.00" x2="186.33" y2="218.50" stroke="#000" stroke-width="0.5" />
<line x1="187.91" y1="217.00" x2="187.91" y2="218.50" stroke="#000" stroke-width="0.5" />
<line x1="189.25" y1="217.00" x2="189.25" y2="218.50" stroke="#000" stroke-width="0.5" />
<line x1="190.41" y1="217.00" x2="190.41" y2="218.50" stroke="#000" stroke-width="0.5" />
<line x1="191.43" y1="217.00" x2="191.43" y2="218.50" stroke="#000" stroke-width="0.5" />
<line x1="192.35" y1="217.00" x2="192.35" y2="219.60" stroke="#000" stroke-width="0.9" />
<line x1="198.37" y1="217.00" x2="198.37" y2="218.50" stroke="#000" stroke-width="0.5" />
<line x1="201.89" y1="217.00" x2="201.89" y2="218.50" stroke="#000" stroke-width="0.5" />
<line x1="204.39" y1="217.00" x2="204.39" y2="218.50" stroke="#000" stroke-width="0.5" />
<line x1="206.33" y1="217.00" x2="206.33" y2="218.50" stroke="#000" stroke-width="0.5" />
<line x1="207.91" y1="217.00" x2="207.91" y2="218.50" stroke="#000" stroke-width="0.5" />
<line x1="209.25" y1="217.00" x2="209.25" y2="218.50" stroke="#000" stroke-width="0.5" />
<line x1="210.41" y1="217.00" x2="210.41" y2="218.50" stroke="#000" stroke-width="0.5" />
<line x1="211.43" y1="217.00" x2="211.43" y2="218.50" stroke="#000" stroke-width="0.5" />
<line x1="212.35" y1="217.00" x2="212.35" y2="219.60" stroke="#000" stroke-width="0.9" />
<line x1="136.75" y1="217.00" x2="136.75" y2="218.50" stroke="#000" stroke-width="0.5" />
<line x1="139.75" y1="217.00" x2="139.75" y2="218.50" stroke="#000" stroke-width="0.5" />
<line x1="146.75" y1="217.00" x2="146.75" y2="218.50" stroke="#000" stroke-width="0.5" />
<line x1="149.25" y1="217.00" x2="149.25" y2="218.50" stroke="#000" stroke-width="0.5" />
<rect x="133.75" y="131.80" width="86.55" height="85.20" fill="none" stroke="#000" stroke-width="1.0" />
<line x1="133.75" y1="131.30" x2="133.75" y2="217.60" stroke="#000" stroke-width="1.5" />
<line x1="133.15" y1="217.00" x2="220.80" y2="217.00" stroke="#000" stroke-width="1.5" />
<rect x="136.80" y="137.60" width="71.40" height="47.90" fill="none" stroke="#000" stroke-width="0.95" />
<text x="144" y="165.5" font-size="8.8" text-anchor="start" font-weight="normal" fill="#111" textLength="10.2" lengthAdjust="spacingAndGlyphs" >14</text>
<text x="50.3" y="228.0" font-size="7.2" text-anchor="start" font-weight="normal" fill="#111" >0</text>
<text x="55.60" y="228.00" font-size="7.2" fill="#111">10<tspan font-size="5.47" dy="-3.02">2</tspan></text>
<text x="76.20" y="228.00" font-size="7.2" fill="#111">10<tspan font-size="5.47" dy="-3.02">3</tspan></text>
<text x="96.90" y="228.00" font-size="7.2" fill="#111">10<tspan font-size="5.47" dy="-3.02">4</tspan></text>
<text x="116.20" y="228.00" font-size="7.2" fill="#111">10<tspan font-size="5.47" dy="-3.02">5</tspan></text>
<text x="141.05" y="228.0" font-size="7.2" text-anchor="start" font-weight="normal" fill="#111" >0</text>
<text x="146.35" y="228.00" font-size="7.2" fill="#111">10<tspan font-size="5.47" dy="-3.02">2</tspan></text>
<text x="166.95" y="228.00" font-size="7.2" fill="#111">10<tspan font-size="5.47" dy="-3.02">3</tspan></text>
<text x="187.65" y="228.00" font-size="7.2" fill="#111">10<tspan font-size="5.47" dy="-3.02">4</tspan></text>
<text x="206.95" y="228.00" font-size="7.2" fill="#111">10<tspan font-size="5.47" dy="-3.02">5</tspan></text>
<text x="43.1" y="239.0" font-size="9.3" text-anchor="start" font-weight="normal" fill="#111" textLength="18.3" lengthAdjust="spacingAndGlyphs" >CD4</text>
<line x1="66.20" y1="236.20" x2="208.00" y2="236.20" stroke="#555" stroke-width="1.2" />
<polygon points="212.7,236.2 207.5,233.3 207.5,239.1" fill="#000"/>
<rect x="299.60" y="111.00" width="19.90" height="105.30" fill="#df8495" stroke="none" stroke-width="1" />
<rect x="337.00" y="173.00" width="19.80" height="43.30" fill="#85a6c2" stroke="none" stroke-width="1" />
<line x1="309.50" y1="111.00" x2="309.50" y2="99.60" stroke="#222" stroke-width="1.1" />
<line x1="304.75" y1="99.60" x2="314.25" y2="99.60" stroke="#222" stroke-width="1.1" />
<line x1="347.00" y1="173.00" x2="347.00" y2="160.30" stroke="#222" stroke-width="1.1" />
<line x1="343.00" y1="160.30" x2="351.00" y2="160.30" stroke="#222" stroke-width="1.1" />
<rect x="307.50" y="79.50" width="5.0" height="5.0" fill="#c8143f"/>
<rect x="307.50" y="106.00" width="5.0" height="5.0" fill="#c8143f"/>
<rect x="315.30" y="120.00" width="5.0" height="5.0" fill="#c8143f"/>
<rect x="299.40" y="126.30" width="5.0" height="5.0" fill="#c8143f"/>
<polygon points="347.00,134.77 349.40,139.19 344.60,139.19" fill="#154c88"/>
<polygon points="347.00,180.27 349.40,184.69 344.60,184.69" fill="#154c88"/>
<polygon points="339.30,186.07 341.70,190.49 336.90,190.49" fill="#154c88"/>
<polygon points="355.00,183.57 357.40,187.99 352.60,187.99" fill="#154c88"/>
<line x1="276.30" y1="48.30" x2="278.90" y2="48.30" stroke="#222" stroke-width="0.9" />
<text x="273.2" y="51.144" font-size="7.9" text-anchor="end" font-weight="normal" fill="#222" >25</text>
<line x1="276.30" y1="81.90" x2="278.90" y2="81.90" stroke="#222" stroke-width="0.9" />
<text x="273.2" y="84.744" font-size="7.9" text-anchor="end" font-weight="normal" fill="#222" >20</text>
<line x1="276.30" y1="115.50" x2="278.90" y2="115.50" stroke="#222" stroke-width="0.9" />
<text x="273.2" y="118.344" font-size="7.9" text-anchor="end" font-weight="normal" fill="#222" >15</text>
<line x1="276.30" y1="149.10" x2="278.90" y2="149.10" stroke="#222" stroke-width="0.9" />
<text x="273.2" y="151.944" font-size="7.9" text-anchor="end" font-weight="normal" fill="#222" >10</text>
<line x1="276.30" y1="182.70" x2="278.90" y2="182.70" stroke="#222" stroke-width="0.9" />
<text x="273.2" y="185.54399999999998" font-size="7.9" text-anchor="end" font-weight="normal" fill="#222" >5</text>
<line x1="276.30" y1="216.30" x2="278.90" y2="216.30" stroke="#222" stroke-width="0.9" />
<text x="273.2" y="219.144" font-size="7.9" text-anchor="end" font-weight="normal" fill="#222" >0</text>
<line x1="309.50" y1="216.30" x2="309.50" y2="219.10" stroke="#222" stroke-width="0.9" />
<line x1="347.00" y1="216.30" x2="347.00" y2="219.10" stroke="#222" stroke-width="0.9" />
<line x1="278.90" y1="43.00" x2="278.90" y2="216.80" stroke="#222" stroke-width="1.2" />
<line x1="278.40" y1="216.30" x2="367.70" y2="216.30" stroke="#222" stroke-width="1.2" />
<circle cx="345.9" cy="104.5" r="1.15" fill="#111"/>
<circle cx="349.5" cy="104.5" r="1.15" fill="#111"/>
<text transform="translate(259.00,146.30) rotate(-90)" x="0" y="0" font-size="9.2" font-weight="bold" fill="#111" textLength="25.00" lengthAdjust="spacingAndGlyphs">% IL-17<tspan font-size="5.8" dy="-3.0">+</tspan></text>
<rect x="439.20" y="195.40" width="19.70" height="20.90" fill="#df8495" stroke="none" stroke-width="1" />
<rect x="476.60" y="108.80" width="19.90" height="107.50" fill="#85a6c2" stroke="none" stroke-width="1" />
<line x1="449.20" y1="195.40" x2="449.20" y2="188.50" stroke="#222" stroke-width="1.1" />
<line x1="445.45" y1="188.50" x2="452.95" y2="188.50" stroke="#222" stroke-width="1.1" />
<line x1="486.00" y1="108.80" x2="486.00" y2="95.70" stroke="#222" stroke-width="1.1" />
<line x1="481.40" y1="95.70" x2="490.60" y2="95.70" stroke="#222" stroke-width="1.1" />
<rect x="446.70" y="176.70" width="5.0" height="5.0" fill="#c8143f"/>
<rect x="454.50" y="187.10" width="5.0" height="5.0" fill="#c8143f"/>
<rect x="438.30" y="189.90" width="5.0" height="5.0" fill="#c8143f"/>
<rect x="438.30" y="204.00" width="5.0" height="5.0" fill="#c8143f"/>
<rect x="454.50" y="204.00" width="5.0" height="5.0" fill="#c8143f"/>
<polygon points="479.20,74.57 481.60,78.99 476.80,78.99" fill="#154c88"/>
<polygon points="485.40,80.37 487.80,84.79 483.00,84.79" fill="#154c88"/>
<polygon points="486.00,120.97 488.40,125.39 483.60,125.39" fill="#154c88"/>
<polygon points="478.50,127.87 480.90,132.29 476.10,132.29" fill="#154c88"/>
<polygon points="494.20,127.87 496.60,132.29 491.80,132.29" fill="#154c88"/>
<line x1="416.00" y1="48.30" x2="418.60" y2="48.30" stroke="#222" stroke-width="0.9" />
<text x="413.0" y="51.144" font-size="7.9" text-anchor="end" font-weight="normal" fill="#222" >25</text>
<line x1="416.00" y1="81.90" x2="418.60" y2="81.90" stroke="#222" stroke-width="0.9" />
<text x="413.0" y="84.744" font-size="7.9" text-anchor="end" font-weight="normal" fill="#222" >20</text>
<line x1="416.00" y1="115.50" x2="418.60" y2="115.50" stroke="#222" stroke-width="0.9" />
<text x="413.0" y="118.344" font-size="7.9" text-anchor="end" font-weight="normal" fill="#222" >15</text>
<line x1="416.00" y1="149.10" x2="418.60" y2="149.10" stroke="#222" stroke-width="0.9" />
<text x="413.0" y="151.944" font-size="7.9" text-anchor="end" font-weight="normal" fill="#222" >10</text>
<line x1="416.00" y1="182.70" x2="418.60" y2="182.70" stroke="#222" stroke-width="0.9" />
<text x="413.0" y="185.54399999999998" font-size="7.9" text-anchor="end" font-weight="normal" fill="#222" >5</text>
<line x1="416.00" y1="216.30" x2="418.60" y2="216.30" stroke="#222" stroke-width="0.9" />
<text x="413.0" y="219.144" font-size="7.9" text-anchor="end" font-weight="normal" fill="#222" >0</text>
<line x1="449.20" y1="216.30" x2="449.20" y2="219.10" stroke="#222" stroke-width="0.9" />
<line x1="486.00" y1="216.30" x2="486.00" y2="219.10" stroke="#222" stroke-width="0.9" />
<line x1="418.60" y1="43.00" x2="418.60" y2="216.80" stroke="#222" stroke-width="1.2" />
<line x1="418.10" y1="216.30" x2="502.70" y2="216.30" stroke="#222" stroke-width="1.2" />
<circle cx="484.5" cy="59.1" r="1.15" fill="#111"/>
<circle cx="488.1" cy="59.1" r="1.15" fill="#111"/>
<circle cx="491.6" cy="59.1" r="1.15" fill="#111"/>
<text transform="translate(397.40,152.60) rotate(-90)" x="0" y="0" font-size="9.0" font-weight="bold" fill="#111" textLength="27.70" lengthAdjust="spacingAndGlyphs">% Foxp3<tspan font-size="5.8" dy="-3.0">+</tspan></text>
<text x="75.4" y="278.2" font-size="9.2" text-anchor="start" font-weight="normal" fill="#111" textLength="14.2" lengthAdjust="spacingAndGlyphs" >WT</text>
<text x="180.3" y="277.6" font-size="9.2" text-anchor="start" font-weight="normal" fill="#111" textLength="13.4" lengthAdjust="spacingAndGlyphs" >KO</text>
<text transform="translate(19.60,330.50) rotate(-90)" x="0" y="0" font-size="9.0" font-weight="bold" fill="#111" textLength="13.30" lengthAdjust="spacingAndGlyphs">IL-17</text>
<text transform="translate(20.50,422.00) rotate(-90)" x="0" y="0" font-size="9.0" font-weight="bold" fill="#111" textLength="16.90" lengthAdjust="spacingAndGlyphs">Foxp3</text>
<clipPath id="cQ1"><rect x="42.7" y="280.2" width="86.7" height="85.40000000000003"/></clipPath>
<circle cx="82.35" cy="313.40" r="0.5" fill="#222"/>
<circle cx="91.93" cy="305.64" r="0.5" fill="#222"/>
<circle cx="86.02" cy="325.48" r="0.5" fill="#222"/>
<circle cx="84.36" cy="313.74" r="0.5" fill="#222"/>
<circle cx="85.55" cy="317.50" r="0.5" fill="#222"/>
<circle cx="94.20" cy="324.05" r="0.5" fill="#222"/>
<circle cx="97.20" cy="304.49" r="0.5" fill="#222"/>
<circle cx="86.39" cy="306.88" r="0.5" fill="#222"/>
<circle cx="86.94" cy="315.04" r="0.5" fill="#222"/>
<circle cx="89.33" cy="305.52" r="0.5" fill="#222"/>
<circle cx="82.51" cy="302.72" r="0.5" fill="#222"/>
<circle cx="87.39" cy="308.93" r="0.5" fill="#222"/>
<circle cx="88.93" cy="306.22" r="0.5" fill="#222"/>
<circle cx="87.35" cy="315.61" r="0.5" fill="#222"/>
<circle cx="95.36" cy="316.09" r="0.5" fill="#222"/>
<circle cx="95.90" cy="313.78" r="0.5" fill="#222"/>
<circle cx="87.46" cy="315.00" r="0.5" fill="#222"/>
<circle cx="88.76" cy="315.69" r="0.5" fill="#222"/>
<circle cx="91.70" cy="325.28" r="0.5" fill="#222"/>
<circle cx="88.88" cy="311.48" r="0.5" fill="#222"/>
<circle cx="83.73" cy="313.74" r="0.5" fill="#222"/>
<circle cx="87.41" cy="315.90" r="0.5" fill="#222"/>
<circle cx="87.82" cy="315.60" r="0.5" fill="#222"/>
<circle cx="86.61" cy="301.00" r="0.5" fill="#222"/>
<circle cx="85.76" cy="306.34" r="0.5" fill="#222"/>
<circle cx="95.54" cy="310.69" r="0.5" fill="#222"/>
<circle cx="91.66" cy="321.34" r="0.5" fill="#222"/>
<circle cx="93.00" cy="310.25" r="0.5" fill="#222"/>
<circle cx="91.21" cy="291.84" r="0.5" fill="#222"/>
<circle cx="94.01" cy="304.92" r="0.5" fill="#222"/>
<circle cx="78.44" cy="318.62" r="0.5" fill="#222"/>
<circle cx="87.31" cy="297.18" r="0.5" fill="#222"/>
<circle cx="93.57" cy="324.09" r="0.5" fill="#222"/>
<circle cx="89.67" cy="306.38" r="0.5" fill="#222"/>
<circle cx="93.05" cy="329.65" r="0.5" fill="#222"/>
<circle cx="84.39" cy="309.16" r="0.5" fill="#222"/>
<circle cx="85.39" cy="313.61" r="0.5" fill="#222"/>
<circle cx="90.04" cy="317.27" r="0.5" fill="#222"/>
<circle cx="87.24" cy="315.93" r="0.5" fill="#222"/>
<circle cx="101.95" cy="299.42" r="0.5" fill="#222"/>
<circle cx="87.81" cy="310.88" r="0.5" fill="#222"/>
<circle cx="87.16" cy="309.96" r="0.5" fill="#222"/>
<circle cx="87.83" cy="316.40" r="0.5" fill="#222"/>
<circle cx="87.63" cy="313.06" r="0.5" fill="#222"/>
<circle cx="89.19" cy="319.45" r="0.5" fill="#222"/>
<circle cx="76.46" cy="317.39" r="0.5" fill="#222"/>
<circle cx="80.78" cy="305.54" r="0.5" fill="#222"/>
<circle cx="88.86" cy="302.06" r="0.5" fill="#222"/>
<circle cx="91.89" cy="314.29" r="0.5" fill="#222"/>
<circle cx="94.80" cy="321.11" r="0.5" fill="#222"/>
<circle cx="82.60" cy="330.58" r="0.5" fill="#222"/>
<circle cx="90.99" cy="317.54" r="0.5" fill="#222"/>
<circle cx="84.81" cy="303.48" r="0.5" fill="#222"/>
<circle cx="95.21" cy="315.70" r="0.5" fill="#222"/>
<circle cx="79.51" cy="318.74" r="0.5" fill="#222"/>
<circle cx="92.22" cy="295.00" r="0.5" fill="#222"/>
<circle cx="76.21" cy="308.27" r="0.5" fill="#222"/>
<circle cx="85.13" cy="314.38" r="0.5" fill="#222"/>
<circle cx="97.23" cy="326.09" r="0.5" fill="#222"/>
<circle cx="85.13" cy="302.91" r="0.5" fill="#222"/>
<circle cx="98.41" cy="311.26" r="0.5" fill="#222"/>
<circle cx="86.59" cy="325.89" r="0.5" fill="#222"/>
<circle cx="93.36" cy="310.47" r="0.5" fill="#222"/>
<circle cx="95.84" cy="309.76" r="0.5" fill="#222"/>
<circle cx="95.41" cy="320.01" r="0.5" fill="#222"/>
<circle cx="91.35" cy="302.73" r="0.5" fill="#222"/>
<circle cx="88.76" cy="328.26" r="0.5" fill="#222"/>
<circle cx="97.18" cy="321.02" r="0.5" fill="#222"/>
<circle cx="84.66" cy="322.47" r="0.5" fill="#222"/>
<circle cx="85.14" cy="312.69" r="0.5" fill="#222"/>
<circle cx="93.07" cy="329.03" r="0.5" fill="#222"/>
<circle cx="85.28" cy="314.97" r="0.5" fill="#222"/>
<circle cx="81.42" cy="304.57" r="0.5" fill="#222"/>
<circle cx="95.63" cy="318.28" r="0.5" fill="#222"/>
<circle cx="95.91" cy="325.58" r="0.5" fill="#222"/>
<circle cx="100.89" cy="317.79" r="0.5" fill="#222"/>
<circle cx="83.27" cy="309.02" r="0.5" fill="#222"/>
<circle cx="85.28" cy="311.32" r="0.5" fill="#222"/>
<circle cx="86.50" cy="314.63" r="0.5" fill="#222"/>
<circle cx="84.99" cy="322.50" r="0.5" fill="#222"/>
<path d="M76.3,365.6 L76.4,345 C76.6,337 82,333.4 89.5,333.4 C97,333.4 102.2,337 102.4,345 L102.6,365.6" fill="none" stroke="#222" stroke-width="0.55"/>
<radialGradient id="rg5"><stop offset="0" stop-color="#000" stop-opacity="0.700"/><stop offset="0.5" stop-color="#000" stop-opacity="0.420"/><stop offset="1" stop-color="#000" stop-opacity="0.000"/></radialGradient>
<ellipse cx="92.5" cy="350" rx="6.5" ry="11" fill="url(#rg5)" clip-path="url(#cQ1)"/>
<path d="M90.45,352.47 L88.95,352.61 L88.45,352.40 L88.13,351.95 L87.96,350.95 L88.04,349.45 L88.22,348.95 L88.70,348.49 L90.20,348.40 L90.90,348.95 L91.10,349.70 L91.08,351.20 L90.90,351.95 L90.45,352.47Z" fill="none" stroke="#111" stroke-width="0.6" clip-path="url(#cQ1)"/>
<path d="M93.45,349.56 L93.22,348.95 L93.45,348.47 L93.65,348.95 L93.45,349.56Z" fill="none" stroke="#111" stroke-width="0.6" clip-path="url(#cQ1)"/>
<path d="M91.20,354.52 L88.95,354.70 L87.70,354.51 L86.70,353.72 L85.95,352.33 L85.91,351.70 L86.70,347.98 L87.20,347.08 L87.95,346.54 L88.95,346.34 L93.20,346.19 L93.70,346.50 L94.08,347.20 L94.37,349.20 L93.95,351.41 L92.39,353.70 L91.20,354.52Z" fill="none" stroke="#111" stroke-width="0.6" clip-path="url(#cQ1)"/>
<path d="M90.95,356.71 L87.45,356.67 L86.45,356.28 L85.70,355.59 L85.10,354.45 L84.74,352.70 L84.98,348.45 L85.70,346.02 L86.20,345.31 L86.95,344.73 L88.20,344.36 L92.95,343.97 L93.45,344.14 L94.09,344.70 L94.85,346.45 L95.15,348.95 L94.93,351.70 L94.36,353.95 L93.56,355.45 L92.45,356.35 L90.95,356.71Z" fill="none" stroke="#111" stroke-width="0.6" clip-path="url(#cQ1)"/>
<path d="M91.45,358.72 L86.95,358.67 L85.76,358.20 L84.91,357.45 L84.07,355.95 L83.63,354.20 L83.46,351.95 L83.55,348.95 L83.83,346.70 L84.25,345.20 L84.91,343.95 L85.70,343.14 L87.45,342.41 L92.70,341.92 L93.70,342.21 L94.34,342.70 L94.95,343.55 L95.44,344.70 L95.97,347.70 L95.92,351.70 L95.40,354.95 L94.56,356.95 L93.95,357.70 L93.20,358.25 L91.45,358.72Z" fill="none" stroke="#111" stroke-width="0.6" clip-path="url(#cQ1)"/>
<path d="M91.95,360.70 L87.45,360.78 L85.45,360.29 L84.45,359.62 L83.70,358.76 L82.68,356.45 L82.32,354.45 L82.18,351.70 L82.30,347.70 L82.66,345.20 L83.22,343.45 L83.95,342.20 L85.01,341.20 L86.45,340.55 L91.95,339.96 L93.70,340.18 L94.70,340.81 L95.45,341.69 L96.52,344.20 L96.93,346.70 L97.04,349.95 L96.85,353.70 L96.36,356.45 L95.67,358.20 L94.70,359.50 L93.45,360.33 L91.95,360.70Z" fill="none" stroke="#111" stroke-width="0.6" clip-path="url(#cQ1)"/>
<path d="M91.95,362.72 L87.20,362.77 L85.95,362.59 L84.70,362.13 L83.45,361.25 L82.59,360.20 L81.82,358.70 L81.37,357.20 L80.96,354.45 L80.87,350.70 L81.03,346.45 L81.48,343.70 L82.20,341.70 L83.20,340.21 L84.45,339.19 L85.95,338.58 L91.95,338.00 L93.95,338.27 L95.13,338.95 L96.10,339.95 L96.98,341.45 L97.59,343.20 L98.08,346.20 L98.19,350.20 L98.03,354.45 L97.48,357.70 L96.69,359.70 L95.45,361.31 L93.95,362.27 L91.95,362.72Z" fill="none" stroke="#111" stroke-width="0.6" clip-path="url(#cQ1)"/>
<path d="M92.20,364.71 L86.70,364.74 L85.20,364.47 L83.95,363.98 L82.70,363.12 L81.49,361.70 L80.61,359.95 L80.09,358.20 L79.61,354.70 L79.53,349.70 L79.72,345.45 L80.23,342.45 L81.06,340.20 L82.20,338.51 L83.70,337.30 L85.70,336.55 L92.20,336.05 L93.45,336.16 L94.70,336.55 L96.20,337.55 L97.39,338.95 L98.29,340.70 L98.90,342.70 L99.39,346.45 L99.44,352.45 L99.17,356.45 L98.60,359.20 L97.62,361.45 L96.20,363.16 L94.45,364.21 L92.20,364.71Z" fill="none" stroke="#111" stroke-width="0.6" clip-path="url(#cQ1)"/>
<path d="M92.45,366.70 L86.45,366.73 L84.70,366.42 L83.20,365.84 L81.70,364.79 L80.45,363.33 L79.47,361.45 L78.78,359.20 L78.26,355.20 L78.17,349.45 L78.34,344.95 L78.90,341.45 L79.78,338.95 L81.20,336.81 L82.95,335.41 L85.20,334.57 L87.20,334.31 L92.20,334.09 L93.95,334.28 L95.45,334.81 L97.13,335.95 L98.42,337.45 L99.48,339.45 L100.17,341.70 L100.73,346.20 L100.78,352.95 L100.51,357.20 L99.83,360.45 L98.70,363.01 L97.04,364.95 L94.95,366.16 L92.45,366.70Z" fill="none" stroke="#111" stroke-width="0.6" clip-path="url(#cQ1)"/>
<path d="M77.5,365.6 C79,362.5 83,362 88,362 C93,362 97,362.5 98.5,365.6 Z" fill="#000" clip-path="url(#cQ1)"/>
<path d="M81,365.6 C83,364.2 86,364 88,364 C91,364 93,364.2 95,365.6 Z" fill="#fff" clip-path="url(#cQ1)"/>
<line x1="39.90" y1="287.20" x2="42.70" y2="287.20" stroke="#000" stroke-width="0.9" />
<line x1="41.10" y1="300.97" x2="42.70" y2="300.97" stroke="#000" stroke-width="0.5" />
<line x1="41.10" y1="297.50" x2="42.70" y2="297.50" stroke="#000" stroke-width="0.5" />
<line x1="41.10" y1="295.04" x2="42.70" y2="295.04" stroke="#000" stroke-width="0.5" />
<line x1="41.10" y1="293.13" x2="42.70" y2="293.13" stroke="#000" stroke-width="0.5" />
<line x1="41.10" y1="291.57" x2="42.70" y2="291.57" stroke="#000" stroke-width="0.5" />
<line x1="41.10" y1="290.25" x2="42.70" y2="290.25" stroke="#000" stroke-width="0.5" />
<line x1="41.10" y1="289.11" x2="42.70" y2="289.11" stroke="#000" stroke-width="0.5" />
<line x1="41.10" y1="288.10" x2="42.70" y2="288.10" stroke="#000" stroke-width="0.5" />
<line x1="39.90" y1="306.90" x2="42.70" y2="306.90" stroke="#000" stroke-width="0.9" />
<line x1="41.10" y1="320.60" x2="42.70" y2="320.60" stroke="#000" stroke-width="0.5" />
<line x1="41.10" y1="317.15" x2="42.70" y2="317.15" stroke="#000" stroke-width="0.5" />
<line x1="41.10" y1="314.70" x2="42.70" y2="314.70" stroke="#000" stroke-width="0.5" />
<line x1="41.10" y1="312.80" x2="42.70" y2="312.80" stroke="#000" stroke-width="0.5" />
<line x1="41.10" y1="311.25" x2="42.70" y2="311.25" stroke="#000" stroke-width="0.5" />
<line x1="41.10" y1="309.94" x2="42.70" y2="309.94" stroke="#000" stroke-width="0.5" />
<line x1="41.10" y1="308.80" x2="42.70" y2="308.80" stroke="#000" stroke-width="0.5" />
<line x1="41.10" y1="307.80" x2="42.70" y2="307.80" stroke="#000" stroke-width="0.5" />
<line x1="39.90" y1="326.50" x2="42.70" y2="326.50" stroke="#000" stroke-width="0.9" />
<line x1="41.10" y1="341.04" x2="42.70" y2="341.04" stroke="#000" stroke-width="0.5" />
<line x1="41.10" y1="337.38" x2="42.70" y2="337.38" stroke="#000" stroke-width="0.5" />
<line x1="41.10" y1="334.78" x2="42.70" y2="334.78" stroke="#000" stroke-width="0.5" />
<line x1="41.10" y1="332.76" x2="42.70" y2="332.76" stroke="#000" stroke-width="0.5" />
<line x1="41.10" y1="331.11" x2="42.70" y2="331.11" stroke="#000" stroke-width="0.5" />
<line x1="41.10" y1="329.72" x2="42.70" y2="329.72" stroke="#000" stroke-width="0.5" />
<line x1="41.10" y1="328.52" x2="42.70" y2="328.52" stroke="#000" stroke-width="0.5" />
<line x1="41.10" y1="327.45" x2="42.70" y2="327.45" stroke="#000" stroke-width="0.5" />
<line x1="39.90" y1="347.30" x2="42.70" y2="347.30" stroke="#000" stroke-width="0.9" />
<line x1="41.10" y1="356.60" x2="42.70" y2="356.60" stroke="#000" stroke-width="0.6" />
<line x1="41.10" y1="350.90" x2="42.70" y2="350.90" stroke="#000" stroke-width="0.6" />
<line x1="41.10" y1="360.20" x2="42.70" y2="360.20" stroke="#000" stroke-width="0.6" />
<line x1="39.90" y1="356.60" x2="42.70" y2="356.60" stroke="#000" stroke-width="0.9" />
<line x1="53.20" y1="365.60" x2="53.20" y2="368.20" stroke="#000" stroke-width="0.9" />
<line x1="61.30" y1="365.60" x2="61.30" y2="368.20" stroke="#000" stroke-width="0.9" />
<line x1="67.32" y1="365.60" x2="67.32" y2="367.10" stroke="#000" stroke-width="0.5" />
<line x1="70.84" y1="365.60" x2="70.84" y2="367.10" stroke="#000" stroke-width="0.5" />
<line x1="73.34" y1="365.60" x2="73.34" y2="367.10" stroke="#000" stroke-width="0.5" />
<line x1="75.28" y1="365.60" x2="75.28" y2="367.10" stroke="#000" stroke-width="0.5" />
<line x1="76.86" y1="365.60" x2="76.86" y2="367.10" stroke="#000" stroke-width="0.5" />
<line x1="78.20" y1="365.60" x2="78.20" y2="367.10" stroke="#000" stroke-width="0.5" />
<line x1="79.36" y1="365.60" x2="79.36" y2="367.10" stroke="#000" stroke-width="0.5" />
<line x1="80.38" y1="365.60" x2="80.38" y2="367.10" stroke="#000" stroke-width="0.5" />
<line x1="81.30" y1="365.60" x2="81.30" y2="368.20" stroke="#000" stroke-width="0.9" />
<line x1="87.32" y1="365.60" x2="87.32" y2="367.10" stroke="#000" stroke-width="0.5" />
<line x1="90.84" y1="365.60" x2="90.84" y2="367.10" stroke="#000" stroke-width="0.5" />
<line x1="93.34" y1="365.60" x2="93.34" y2="367.10" stroke="#000" stroke-width="0.5" />
<line x1="95.28" y1="365.60" x2="95.28" y2="367.10" stroke="#000" stroke-width="0.5" />
<line x1="96.86" y1="365.60" x2="96.86" y2="367.10" stroke="#000" stroke-width="0.5" />
<line x1="98.20" y1="365.60" x2="98.20" y2="367.10" stroke="#000" stroke-width="0.5" />
<line x1="99.36" y1="365.60" x2="99.36" y2="367.10" stroke="#000" stroke-width="0.5" />
<line x1="100.38" y1="365.60" x2="100.38" y2="367.10" stroke="#000" stroke-width="0.5" />
<line x1="101.30" y1="365.60" x2="101.30" y2="368.20" stroke="#000" stroke-width="0.9" />
<line x1="107.32" y1="365.60" x2="107.32" y2="367.10" stroke="#000" stroke-width="0.5" />
<line x1="110.84" y1="365.60" x2="110.84" y2="367.10" stroke="#000" stroke-width="0.5" />
<line x1="113.34" y1="365.60" x2="113.34" y2="367.10" stroke="#000" stroke-width="0.5" />
<line x1="115.28" y1="365.60" x2="115.28" y2="367.10" stroke="#000" stroke-width="0.5" />
<line x1="116.86" y1="365.60" x2="116.86" y2="367.10" stroke="#000" stroke-width="0.5" />
<line x1="118.20" y1="365.60" x2="118.20" y2="367.10" stroke="#000" stroke-width="0.5" />
<line x1="119.36" y1="365.60" x2="119.36" y2="367.10" stroke="#000" stroke-width="0.5" />
<line x1="120.38" y1="365.60" x2="120.38" y2="367.10" stroke="#000" stroke-width="0.5" />
<line x1="121.30" y1="365.60" x2="121.30" y2="368.20" stroke="#000" stroke-width="0.9" />
<line x1="45.70" y1="365.60" x2="45.70" y2="367.10" stroke="#000" stroke-width="0.5" />
<line x1="48.70" y1="365.60" x2="48.70" y2="367.10" stroke="#000" stroke-width="0.5" />
<line x1="55.70" y1="365.60" x2="55.70" y2="367.10" stroke="#000" stroke-width="0.5" />
<line x1="58.20" y1="365.60" x2="58.20" y2="367.10" stroke="#000" stroke-width="0.5" />
<rect x="42.70" y="280.20" width="86.70" height="85.40" fill="none" stroke="#000" stroke-width="1.0" />
<line x1="42.70" y1="279.70" x2="42.70" y2="366.20" stroke="#000" stroke-width="1.5" />
<line x1="42.10" y1="365.60" x2="129.90" y2="365.60" stroke="#000" stroke-width="1.5" />
<text x="26.13" y="288.80" font-size="7.2" fill="#111">10<tspan font-size="5.47" dy="-3.02">5</tspan></text>
<text x="26.13" y="308.50" font-size="7.2" fill="#111">10<tspan font-size="5.47" dy="-3.02">4</tspan></text>
<text x="26.13" y="328.10" font-size="7.2" fill="#111">10<tspan font-size="5.47" dy="-3.02">3</tspan></text>
<text x="26.13" y="348.90" font-size="7.2" fill="#111">10<tspan font-size="5.47" dy="-3.02">2</tspan></text>
<text x="34.1" y="358.2" font-size="7.2" text-anchor="end" font-weight="normal" fill="#111" >0</text>
<rect x="67.90" y="284.10" width="44.80" height="48.40" fill="none" stroke="#000" stroke-width="0.95" />
<text x="59.0" y="289.9" font-size="8.8" text-anchor="start" font-weight="normal" fill="#111" >3</text>
<clipPath id="cQ2"><rect x="134" y="279.6" width="85.6" height="86.0"/></clipPath>
<circle cx="176.40" cy="323.69" r="0.5" fill="#222"/>
<circle cx="181.50" cy="317.31" r="0.5" fill="#222"/>
<circle cx="187.56" cy="312.43" r="0.5" fill="#222"/>
<circle cx="195.65" cy="312.55" r="0.5" fill="#222"/>
<circle cx="171.00" cy="325.12" r="0.5" fill="#222"/>
<circle cx="182.56" cy="299.82" r="0.5" fill="#222"/>
<circle cx="186.15" cy="318.81" r="0.5" fill="#222"/>
<circle cx="194.78" cy="313.01" r="0.5" fill="#222"/>
<circle cx="183.89" cy="315.80" r="0.5" fill="#222"/>
<circle cx="189.37" cy="302.39" r="0.5" fill="#222"/>
<circle cx="178.49" cy="302.85" r="0.5" fill="#222"/>
<circle cx="186.06" cy="316.63" r="0.5" fill="#222"/>
<circle cx="181.10" cy="296.87" r="0.5" fill="#222"/>
<circle cx="181.50" cy="311.97" r="0.5" fill="#222"/>
<circle cx="176.67" cy="318.84" r="0.5" fill="#222"/>
<circle cx="188.18" cy="313.52" r="0.5" fill="#222"/>
<circle cx="179.37" cy="320.95" r="0.5" fill="#222"/>
<circle cx="170.39" cy="310.54" r="0.5" fill="#222"/>
<circle cx="186.41" cy="302.54" r="0.5" fill="#222"/>
<circle cx="188.33" cy="315.25" r="0.5" fill="#222"/>
<circle cx="184.50" cy="324.08" r="0.5" fill="#222"/>
<circle cx="174.17" cy="311.44" r="0.5" fill="#222"/>
<circle cx="194.42" cy="320.29" r="0.5" fill="#222"/>
<circle cx="173.05" cy="299.20" r="0.5" fill="#222"/>
<circle cx="176.85" cy="289.32" r="0.5" fill="#222"/>
<circle cx="187.68" cy="311.56" r="0.5" fill="#222"/>
<circle cx="168.24" cy="313.02" r="0.5" fill="#222"/>
<circle cx="171.33" cy="309.66" r="0.5" fill="#222"/>
<circle cx="179.63" cy="317.70" r="0.5" fill="#222"/>
<circle cx="200.02" cy="287.68" r="0.5" fill="#222"/>
<circle cx="171.90" cy="310.02" r="0.5" fill="#222"/>
<circle cx="190.44" cy="320.77" r="0.5" fill="#222"/>
<circle cx="185.00" cy="324.97" r="0.5" fill="#222"/>
<circle cx="180.20" cy="322.15" r="0.5" fill="#222"/>
<circle cx="187.15" cy="302.88" r="0.5" fill="#222"/>
<circle cx="174.31" cy="307.90" r="0.5" fill="#222"/>
<circle cx="163.99" cy="312.00" r="0.5" fill="#222"/>
<circle cx="173.71" cy="316.62" r="0.5" fill="#222"/>
<circle cx="175.49" cy="299.75" r="0.5" fill="#222"/>
<circle cx="178.49" cy="301.96" r="0.5" fill="#222"/>
<circle cx="191.40" cy="310.98" r="0.5" fill="#222"/>
<circle cx="188.25" cy="313.27" r="0.5" fill="#222"/>
<circle cx="170.75" cy="300.28" r="0.5" fill="#222"/>
<circle cx="193.44" cy="301.11" r="0.5" fill="#222"/>
<circle cx="174.23" cy="306.56" r="0.5" fill="#222"/>
<circle cx="174.66" cy="311.31" r="0.5" fill="#222"/>
<circle cx="190.90" cy="318.17" r="0.5" fill="#222"/>
<circle cx="176.75" cy="303.09" r="0.5" fill="#222"/>
<circle cx="181.29" cy="296.51" r="0.5" fill="#222"/>
<circle cx="189.05" cy="311.20" r="0.5" fill="#222"/>
<circle cx="176.20" cy="324.83" r="0.5" fill="#222"/>
<circle cx="189.77" cy="317.38" r="0.5" fill="#222"/>
<circle cx="167.40" cy="313.44" r="0.5" fill="#222"/>
<circle cx="181.86" cy="316.54" r="0.5" fill="#222"/>
<circle cx="181.42" cy="290.66" r="0.5" fill="#222"/>
<circle cx="164.69" cy="299.18" r="0.5" fill="#222"/>
<circle cx="174.24" cy="317.37" r="0.5" fill="#222"/>
<circle cx="177.31" cy="310.05" r="0.5" fill="#222"/>
<circle cx="183.51" cy="306.53" r="0.5" fill="#222"/>
<circle cx="199.49" cy="321.27" r="0.5" fill="#222"/>
<radialGradient id="rg6"><stop offset="0" stop-color="#000" stop-opacity="0.600"/><stop offset="0.5" stop-color="#000" stop-opacity="0.360"/><stop offset="1" stop-color="#000" stop-opacity="0.000"/></radialGradient>
<ellipse cx="176.5" cy="350" rx="6.5" ry="11" fill="url(#rg6)" clip-path="url(#cQ2)"/>
<path d="M180.50,352.16 L179.00,352.12 L178.38,351.35 L178.21,349.10 L178.46,348.35 L179.00,347.84 L180.50,347.84 L181.00,348.11 L181.28,348.60 L181.36,351.10 L181.03,351.85 L180.50,352.16Z" fill="none" stroke="#111" stroke-width="0.6" clip-path="url(#cQ2)"/>
<path d="M176.75,350.43 L176.50,350.41 L176.25,349.82 L176.27,349.10 L176.50,348.60 L176.75,348.60 L177.08,349.35 L177.06,349.85 L176.75,350.43Z" fill="none" stroke="#111" stroke-width="0.6" clip-path="url(#cQ2)"/>
<path d="M179.75,354.36 L178.25,354.35 L177.25,353.97 L176.25,352.92 L175.75,351.69 L175.47,349.60 L175.69,347.60 L176.25,346.33 L177.25,345.64 L178.75,345.51 L181.25,345.86 L182.00,346.35 L182.55,347.35 L182.79,350.60 L182.48,352.85 L182.04,353.60 L181.50,354.03 L179.75,354.36Z" fill="none" stroke="#111" stroke-width="0.6" clip-path="url(#cQ2)"/>
<path d="M180.75,356.37 L178.25,356.55 L177.00,356.29 L175.91,355.35 L175.11,353.60 L174.57,350.10 L174.78,346.85 L175.58,344.60 L176.25,343.81 L177.00,343.41 L178.50,343.34 L182.00,343.89 L183.02,344.60 L183.82,346.10 L184.09,347.60 L184.17,349.60 L184.12,352.10 L183.83,353.85 L183.42,354.85 L182.75,355.66 L182.00,356.11 L180.75,356.37Z" fill="none" stroke="#111" stroke-width="0.6" clip-path="url(#cQ2)"/>
<path d="M179.00,358.61 L177.75,358.62 L176.75,358.41 L175.81,357.85 L175.14,357.10 L174.20,355.10 L173.00,350.35 L172.00,349.55 L171.53,348.35 L171.75,346.86 L172.00,346.52 L173.00,346.22 L173.25,345.96 L175.02,342.60 L176.00,341.68 L177.25,341.25 L181.75,341.63 L183.50,342.34 L184.25,343.10 L184.82,344.10 L185.45,346.85 L185.45,353.10 L185.17,354.85 L184.60,356.35 L183.75,357.45 L182.75,358.08 L181.50,358.40 L179.00,358.61Z" fill="none" stroke="#111" stroke-width="0.6" clip-path="url(#cQ2)"/>
<path d="M180.25,360.60 L178.00,360.71 L176.75,360.55 L175.50,360.00 L174.50,359.08 L173.16,356.60 L171.13,350.85 L170.78,349.35 L170.69,347.85 L170.85,346.35 L171.75,344.08 L174.65,340.35 L175.75,339.60 L177.00,339.22 L181.75,339.50 L183.00,339.76 L184.00,340.20 L185.00,341.01 L185.75,342.08 L186.28,343.35 L186.68,345.10 L186.91,348.10 L186.87,353.10 L186.61,355.35 L186.03,357.35 L185.12,358.85 L184.00,359.80 L182.50,360.36 L180.25,360.60Z" fill="none" stroke="#111" stroke-width="0.6" clip-path="url(#cQ2)"/>
<path d="M181.50,362.62 L178.25,362.77 L176.75,362.65 L175.25,362.14 L174.00,361.23 L172.91,359.85 L172.06,358.10 L170.18,351.60 L169.85,349.10 L169.87,346.85 L170.22,344.60 L170.88,342.60 L172.00,340.57 L173.46,338.85 L175.00,337.74 L176.50,337.23 L178.25,337.14 L182.00,337.42 L183.50,337.70 L184.75,338.23 L185.75,338.97 L186.66,340.10 L187.39,341.60 L187.88,343.35 L188.26,346.85 L188.29,352.35 L188.06,355.60 L187.49,358.10 L186.53,360.10 L185.25,361.45 L183.75,362.22 L181.50,362.62Z" fill="none" stroke="#111" stroke-width="0.6" clip-path="url(#cQ2)"/>
<path d="M182.75,364.60 L177.00,364.77 L175.50,364.45 L174.00,363.72 L172.75,362.64 L171.66,361.10 L170.77,359.10 L169.98,356.35 L169.22,352.35 L168.91,348.85 L169.06,345.35 L169.63,342.35 L170.69,339.60 L172.00,337.64 L173.75,336.15 L175.75,335.31 L177.75,335.08 L182.00,335.31 L183.75,335.58 L185.25,336.12 L186.66,337.10 L187.70,338.35 L188.48,339.85 L189.10,341.85 L189.60,345.60 L189.68,351.85 L189.48,355.85 L188.92,358.85 L188.03,361.10 L186.71,362.85 L185.00,364.00 L182.75,364.60Z" fill="none" stroke="#111" stroke-width="0.6" clip-path="url(#cQ2)"/>
<path d="M180.25,366.85 L177.25,366.87 L175.25,366.54 L173.25,365.63 L171.75,364.33 L170.55,362.60 L169.58,360.35 L168.81,357.35 L168.21,353.35 L167.92,348.85 L168.04,345.10 L168.58,341.60 L169.41,338.85 L170.58,336.60 L172.25,334.78 L174.25,333.63 L176.50,333.09 L178.75,333.05 L183.50,333.37 L185.50,333.92 L187.00,334.76 L188.50,336.27 L189.56,338.10 L190.38,340.60 L190.83,343.35 L191.06,348.10 L190.94,355.35 L190.44,359.10 L189.58,361.85 L188.21,364.10 L186.25,365.72 L183.75,366.58 L180.25,366.85Z" fill="none" stroke="#111" stroke-width="0.6" clip-path="url(#cQ2)"/>
<path d="M166.9,365.6 C166.9,350 168,338 172,331.5 C173,329 175,328 177,328.5 C180,329.5 182,327.5 185,328.5 C187,329.5 188,330 189.5,331.5 C193,338 194.6,350 194.6,365.6" fill="none" stroke="#222" stroke-width="0.55" clip-path="url(#cQ2)"/>
<path d="M168.5,365.6 C170,362.2 175,361.8 180,361.8 C185,361.8 190,362.2 191.5,365.6 Z" fill="#000" clip-path="url(#cQ2)"/>
<path d="M172,365.6 C174,364 177,363.8 180,363.8 C183,363.8 186,364 188,365.6 Z" fill="#fff" clip-path="url(#cQ2)"/>
<line x1="131.20" y1="286.60" x2="134.00" y2="286.60" stroke="#000" stroke-width="0.9" />
<line x1="132.40" y1="300.37" x2="134.00" y2="300.37" stroke="#000" stroke-width="0.5" />
<line x1="132.40" y1="296.90" x2="134.00" y2="296.90" stroke="#000" stroke-width="0.5" />
<line x1="132.40" y1="294.44" x2="134.00" y2="294.44" stroke="#000" stroke-width="0.5" />
<line x1="132.40" y1="292.53" x2="134.00" y2="292.53" stroke="#000" stroke-width="0.5" />
<line x1="132.40" y1="290.97" x2="134.00" y2="290.97" stroke="#000" stroke-width="0.5" />
<line x1="132.40" y1="289.65" x2="134.00" y2="289.65" stroke="#000" stroke-width="0.5" />
<line x1="132.40" y1="288.51" x2="134.00" y2="288.51" stroke="#000" stroke-width="0.5" />
<line x1="132.40" y1="287.50" x2="134.00" y2="287.50" stroke="#000" stroke-width="0.5" />
<line x1="131.20" y1="306.30" x2="134.00" y2="306.30" stroke="#000" stroke-width="0.9" />
<line x1="132.40" y1="320.00" x2="134.00" y2="320.00" stroke="#000" stroke-width="0.5" />
<line x1="132.40" y1="316.55" x2="134.00" y2="316.55" stroke="#000" stroke-width="0.5" />
<line x1="132.40" y1="314.10" x2="134.00" y2="314.10" stroke="#000" stroke-width="0.5" />
<line x1="132.40" y1="312.20" x2="134.00" y2="312.20" stroke="#000" stroke-width="0.5" />
<line x1="132.40" y1="310.65" x2="134.00" y2="310.65" stroke="#000" stroke-width="0.5" />
<line x1="132.40" y1="309.34" x2="134.00" y2="309.34" stroke="#000" stroke-width="0.5" />
<line x1="132.40" y1="308.20" x2="134.00" y2="308.20" stroke="#000" stroke-width="0.5" />
<line x1="132.40" y1="307.20" x2="134.00" y2="307.20" stroke="#000" stroke-width="0.5" />
<line x1="131.20" y1="325.90" x2="134.00" y2="325.90" stroke="#000" stroke-width="0.9" />
<line x1="132.40" y1="340.44" x2="134.00" y2="340.44" stroke="#000" stroke-width="0.5" />
<line x1="132.40" y1="336.78" x2="134.00" y2="336.78" stroke="#000" stroke-width="0.5" />
<line x1="132.40" y1="334.18" x2="134.00" y2="334.18" stroke="#000" stroke-width="0.5" />
<line x1="132.40" y1="332.16" x2="134.00" y2="332.16" stroke="#000" stroke-width="0.5" />
<line x1="132.40" y1="330.51" x2="134.00" y2="330.51" stroke="#000" stroke-width="0.5" />
<line x1="132.40" y1="329.12" x2="134.00" y2="329.12" stroke="#000" stroke-width="0.5" />
<line x1="132.40" y1="327.92" x2="134.00" y2="327.92" stroke="#000" stroke-width="0.5" />
<line x1="132.40" y1="326.85" x2="134.00" y2="326.85" stroke="#000" stroke-width="0.5" />
<line x1="131.20" y1="346.70" x2="134.00" y2="346.70" stroke="#000" stroke-width="0.9" />
<line x1="132.40" y1="356.00" x2="134.00" y2="356.00" stroke="#000" stroke-width="0.6" />
<line x1="132.40" y1="350.30" x2="134.00" y2="350.30" stroke="#000" stroke-width="0.6" />
<line x1="132.40" y1="359.60" x2="134.00" y2="359.60" stroke="#000" stroke-width="0.6" />
<line x1="131.20" y1="356.00" x2="134.00" y2="356.00" stroke="#000" stroke-width="0.9" />
<line x1="144.50" y1="365.60" x2="144.50" y2="368.20" stroke="#000" stroke-width="0.9" />
<line x1="152.60" y1="365.60" x2="152.60" y2="368.20" stroke="#000" stroke-width="0.9" />
<line x1="158.62" y1="365.60" x2="158.62" y2="367.10" stroke="#000" stroke-width="0.5" />
<line x1="162.14" y1="365.60" x2="162.14" y2="367.10" stroke="#000" stroke-width="0.5" />
<line x1="164.64" y1="365.60" x2="164.64" y2="367.10" stroke="#000" stroke-width="0.5" />
<line x1="166.58" y1="365.60" x2="166.58" y2="367.10" stroke="#000" stroke-width="0.5" />
<line x1="168.16" y1="365.60" x2="168.16" y2="367.10" stroke="#000" stroke-width="0.5" />
<line x1="169.50" y1="365.60" x2="169.50" y2="367.10" stroke="#000" stroke-width="0.5" />
<line x1="170.66" y1="365.60" x2="170.66" y2="367.10" stroke="#000" stroke-width="0.5" />
<line x1="171.68" y1="365.60" x2="171.68" y2="367.10" stroke="#000" stroke-width="0.5" />
<line x1="172.60" y1="365.60" x2="172.60" y2="368.20" stroke="#000" stroke-width="0.9" />
<line x1="178.62" y1="365.60" x2="178.62" y2="367.10" stroke="#000" stroke-width="0.5" />
<line x1="182.14" y1="365.60" x2="182.14" y2="367.10" stroke="#000" stroke-width="0.5" />
<line x1="184.64" y1="365.60" x2="184.64" y2="367.10" stroke="#000" stroke-width="0.5" />
<line x1="186.58" y1="365.60" x2="186.58" y2="367.10" stroke="#000" stroke-width="0.5" />
<line x1="188.16" y1="365.60" x2="188.16" y2="367.10" stroke="#000" stroke-width="0.5" />
<line x1="189.50" y1="365.60" x2="189.50" y2="367.10" stroke="#000" stroke-width="0.5" />
<line x1="190.66" y1="365.60" x2="190.66" y2="367.10" stroke="#000" stroke-width="0.5" />
<line x1="191.68" y1="365.60" x2="191.68" y2="367.10" stroke="#000" stroke-width="0.5" />
<line x1="192.60" y1="365.60" x2="192.60" y2="368.20" stroke="#000" stroke-width="0.9" />
<line x1="198.62" y1="365.60" x2="198.62" y2="367.10" stroke="#000" stroke-width="0.5" />
<line x1="202.14" y1="365.60" x2="202.14" y2="367.10" stroke="#000" stroke-width="0.5" />
<line x1="204.64" y1="365.60" x2="204.64" y2="367.10" stroke="#000" stroke-width="0.5" />
<line x1="206.58" y1="365.60" x2="206.58" y2="367.10" stroke="#000" stroke-width="0.5" />
<line x1="208.16" y1="365.60" x2="208.16" y2="367.10" stroke="#000" stroke-width="0.5" />
<line x1="209.50" y1="365.60" x2="209.50" y2="367.10" stroke="#000" stroke-width="0.5" />
<line x1="210.66" y1="365.60" x2="210.66" y2="367.10" stroke="#000" stroke-width="0.5" />
<line x1="211.68" y1="365.60" x2="211.68" y2="367.10" stroke="#000" stroke-width="0.5" />
<line x1="212.60" y1="365.60" x2="212.60" y2="368.20" stroke="#000" stroke-width="0.9" />
<line x1="137.00" y1="365.60" x2="137.00" y2="367.10" stroke="#000" stroke-width="0.5" />
<line x1="140.00" y1="365.60" x2="140.00" y2="367.10" stroke="#000" stroke-width="0.5" />
<line x1="147.00" y1="365.60" x2="147.00" y2="367.10" stroke="#000" stroke-width="0.5" />
<line x1="149.50" y1="365.60" x2="149.50" y2="367.10" stroke="#000" stroke-width="0.5" />
<rect x="134.00" y="279.60" width="85.60" height="86.00" fill="none" stroke="#000" stroke-width="1.0" />
<line x1="134.00" y1="279.10" x2="134.00" y2="366.20" stroke="#000" stroke-width="1.5" />
<line x1="133.40" y1="365.60" x2="220.10" y2="365.60" stroke="#000" stroke-width="1.5" />
<rect x="159.00" y="283.60" width="44.50" height="47.90" fill="none" stroke="#000" stroke-width="0.95" />
<text x="150.8" y="289.9" font-size="8.8" text-anchor="start" font-weight="normal" fill="#111" >4</text>
<clipPath id="cQ3"><rect x="43" y="371.5" width="86.5" height="86.5"/></clipPath>
<radialGradient id="rg7"><stop offset="0" stop-color="#000" stop-opacity="0.750"/><stop offset="0.6" stop-color="#000" stop-opacity="0.525"/><stop offset="1" stop-color="#000" stop-opacity="0.000"/></radialGradient>
<ellipse cx="102.3" cy="441.5" rx="6.5" ry="12.5" fill="url(#rg7)" clip-path="url(#cQ3)"/>
<path d="M102.50,446.10 L101.75,446.05 L101.25,445.55 L100.90,443.75 L101.19,441.50 L101.75,440.07 L102.25,439.56 L102.60,439.75 L102.99,440.50 L103.39,442.75 L103.19,445.00 L102.88,445.75 L102.50,446.10Z" fill="none" stroke="#111" stroke-width="0.5" clip-path="url(#cQ3)"/>
<path d="M102.50,448.25 L101.50,448.11 L100.50,447.12 L100.04,445.75 L99.88,443.75 L99.99,441.75 L100.47,440.00 L101.35,438.25 L101.75,437.77 L102.25,437.53 L103.00,437.96 L103.69,439.25 L104.18,441.00 L104.35,442.75 L104.23,445.25 L103.90,446.75 L103.25,447.83 L102.50,448.25Z" fill="none" stroke="#111" stroke-width="0.5" clip-path="url(#cQ3)"/>
<path d="M102.75,450.33 L102.00,450.38 L101.25,450.18 L100.50,449.69 L99.90,449.00 L99.15,447.25 L98.83,444.75 L98.88,441.75 L99.43,439.25 L100.88,436.50 L101.50,435.82 L102.25,435.50 L102.75,435.61 L103.25,436.00 L104.32,437.75 L105.06,440.00 L105.34,442.50 L105.27,445.50 L104.87,447.75 L104.00,449.47 L102.75,450.33Z" fill="none" stroke="#111" stroke-width="0.5" clip-path="url(#cQ3)"/>
<path d="M102.50,452.50 L101.50,452.42 L100.50,452.00 L99.59,451.25 L98.86,450.25 L98.04,448.00 L97.71,444.50 L97.84,440.75 L98.61,437.75 L99.37,436.25 L100.50,434.62 L101.50,433.69 L102.25,433.45 L103.00,433.66 L103.75,434.30 L105.24,436.75 L106.10,439.50 L106.41,442.75 L106.27,446.75 L105.64,449.50 L105.02,450.75 L104.25,451.67 L103.50,452.21 L102.50,452.50Z" fill="none" stroke="#111" stroke-width="0.5" clip-path="url(#cQ3)"/>
<path d="M103.00,454.56 L101.75,454.61 L100.50,454.24 L99.36,453.50 L98.42,452.50 L97.68,451.25 L97.06,449.50 L96.56,445.50 L96.67,440.50 L97.00,438.50 L97.54,436.75 L98.57,434.75 L100.00,432.85 L101.25,431.73 L102.25,431.41 L103.00,431.57 L104.00,432.30 L105.14,433.75 L106.12,435.50 L107.12,438.50 L107.52,442.25 L107.39,447.25 L106.64,450.75 L106.00,452.09 L105.14,453.25 L104.00,454.16 L103.00,454.56Z" fill="none" stroke="#111" stroke-width="0.5" clip-path="url(#cQ3)"/>
<path d="M102.50,456.76 L101.00,456.60 L99.50,455.95 L98.25,454.97 L97.11,453.50 L96.40,452.00 L95.82,450.00 L95.47,447.50 L95.35,444.75 L95.62,439.00 L96.09,436.75 L96.73,435.00 L97.87,433.00 L99.75,430.78 L101.00,429.76 L102.25,429.36 L103.25,429.59 L104.50,430.54 L105.90,432.25 L107.08,434.25 L107.85,436.25 L108.33,438.25 L108.69,443.00 L108.44,448.75 L108.05,450.75 L107.36,452.75 L106.50,454.26 L105.25,455.61 L104.00,456.39 L102.50,456.76Z" fill="none" stroke="#111" stroke-width="0.5" clip-path="url(#cQ3)"/>
<path d="M103.25,458.80 L101.50,458.85 L99.75,458.34 L98.00,457.25 L96.60,455.75 L95.61,454.00 L94.85,451.75 L94.39,449.25 L94.17,446.25 L94.35,439.00 L94.82,436.25 L95.55,434.00 L96.78,431.75 L98.75,429.43 L100.75,427.77 L102.25,427.31 L103.50,427.61 L104.75,428.50 L106.50,430.45 L107.84,432.50 L108.63,434.25 L109.28,436.50 L109.86,441.50 L109.69,448.75 L109.30,451.25 L108.64,453.50 L107.65,455.50 L106.50,456.94 L105.00,458.11 L103.25,458.80Z" fill="none" stroke="#111" stroke-width="0.5" clip-path="url(#cQ3)"/>
<path d="M102.75,461.01 L100.75,460.86 L98.75,460.11 L96.85,458.75 L95.41,457.00 L94.39,455.00 L93.57,452.25 L93.11,449.25 L92.93,445.50 L92.96,441.00 L93.22,437.75 L93.80,434.75 L94.68,432.25 L96.17,429.75 L98.25,427.52 L100.50,425.78 L102.25,425.25 L103.75,425.62 L105.33,426.75 L107.43,429.00 L108.91,431.25 L109.87,433.50 L110.52,436.00 L110.91,438.75 L111.09,442.25 L111.06,446.75 L110.82,450.00 L110.27,453.00 L109.43,455.50 L108.25,457.59 L106.72,459.25 L104.75,460.49 L102.75,461.01Z" fill="none" stroke="#111" stroke-width="0.5" clip-path="url(#cQ3)"/>
<circle cx="106.63" cy="451.16" r="0.5" fill="#222"/>
<circle cx="106.36" cy="425.65" r="0.5" fill="#222"/>
<circle cx="100.39" cy="436.72" r="0.5" fill="#222"/>
<circle cx="107.92" cy="436.47" r="0.5" fill="#222"/>
<circle cx="99.42" cy="439.73" r="0.5" fill="#222"/>
<circle cx="103.95" cy="444.97" r="0.5" fill="#222"/>
<circle cx="99.24" cy="450.24" r="0.5" fill="#222"/>
<circle cx="94.53" cy="442.64" r="0.5" fill="#222"/>
<circle cx="102.16" cy="442.53" r="0.5" fill="#222"/>
<circle cx="98.55" cy="448.65" r="0.5" fill="#222"/>
<circle cx="93.91" cy="438.91" r="0.5" fill="#222"/>
<circle cx="100.49" cy="431.46" r="0.5" fill="#222"/>
<circle cx="95.00" cy="451.59" r="0.5" fill="#222"/>
<circle cx="109.97" cy="433.85" r="0.5" fill="#222"/>
<circle cx="107.40" cy="443.40" r="0.5" fill="#222"/>
<circle cx="100.65" cy="448.60" r="0.5" fill="#222"/>
<circle cx="105.34" cy="442.17" r="0.5" fill="#222"/>
<circle cx="107.56" cy="439.01" r="0.5" fill="#222"/>
<circle cx="91.79" cy="427.11" r="0.5" fill="#222"/>
<circle cx="105.25" cy="427.93" r="0.5" fill="#222"/>
<circle cx="97.12" cy="428.38" r="0.5" fill="#222"/>
<circle cx="107.39" cy="448.00" r="0.5" fill="#222"/>
<circle cx="96.88" cy="450.38" r="0.5" fill="#222"/>
<circle cx="103.38" cy="438.66" r="0.5" fill="#222"/>
<circle cx="95.94" cy="447.57" r="0.5" fill="#222"/>
<circle cx="95.60" cy="451.61" r="0.5" fill="#222"/>
<circle cx="99.07" cy="428.71" r="0.5" fill="#222"/>
<circle cx="95.79" cy="441.69" r="0.5" fill="#222"/>
<circle cx="100.62" cy="438.42" r="0.5" fill="#222"/>
<circle cx="94.31" cy="451.84" r="0.5" fill="#222"/>
<circle cx="104.56" cy="451.80" r="0.5" fill="#222"/>
<circle cx="98.73" cy="444.20" r="0.5" fill="#222"/>
<circle cx="101.29" cy="447.84" r="0.5" fill="#222"/>
<circle cx="101.54" cy="457.84" r="0.5" fill="#222"/>
<circle cx="104.41" cy="439.70" r="0.5" fill="#222"/>
<circle cx="98.50" cy="427.49" r="0.5" fill="#222"/>
<circle cx="95.12" cy="431.98" r="0.5" fill="#222"/>
<circle cx="101.13" cy="447.32" r="0.5" fill="#222"/>
<circle cx="105.54" cy="438.67" r="0.5" fill="#222"/>
<circle cx="112.03" cy="432.75" r="0.5" fill="#222"/>
<circle cx="96.25" cy="449.36" r="0.5" fill="#222"/>
<circle cx="100.89" cy="449.04" r="0.5" fill="#222"/>
<circle cx="102.91" cy="438.27" r="0.5" fill="#222"/>
<circle cx="96.64" cy="452.46" r="0.5" fill="#222"/>
<circle cx="94.71" cy="431.67" r="0.5" fill="#222"/>
<circle cx="108.32" cy="427.00" r="0.5" fill="#222"/>
<circle cx="100.61" cy="450.89" r="0.5" fill="#222"/>
<circle cx="97.17" cy="445.48" r="0.5" fill="#222"/>
<circle cx="92.55" cy="453.59" r="0.5" fill="#222"/>
<circle cx="102.26" cy="444.84" r="0.5" fill="#222"/>
<circle cx="105.44" cy="446.32" r="0.5" fill="#222"/>
<circle cx="104.80" cy="438.26" r="0.5" fill="#222"/>
<circle cx="108.91" cy="454.40" r="0.5" fill="#222"/>
<circle cx="106.52" cy="445.03" r="0.5" fill="#222"/>
<circle cx="108.39" cy="438.19" r="0.5" fill="#222"/>
<circle cx="92.01" cy="441.67" r="0.5" fill="#222"/>
<circle cx="100.32" cy="444.08" r="0.5" fill="#222"/>
<circle cx="104.25" cy="436.05" r="0.5" fill="#222"/>
<circle cx="108.63" cy="434.22" r="0.5" fill="#222"/>
<circle cx="95.17" cy="455.40" r="0.5" fill="#222"/>
<circle cx="90.10" cy="449.77" r="0.5" fill="#222"/>
<circle cx="106.15" cy="440.10" r="0.5" fill="#222"/>
<circle cx="99.50" cy="443.43" r="0.5" fill="#222"/>
<circle cx="102.14" cy="452.57" r="0.5" fill="#222"/>
<circle cx="94.76" cy="449.73" r="0.5" fill="#222"/>
<circle cx="100.77" cy="437.38" r="0.5" fill="#222"/>
<circle cx="106.18" cy="444.73" r="0.5" fill="#222"/>
<circle cx="106.34" cy="440.24" r="0.5" fill="#222"/>
<circle cx="103.10" cy="426.15" r="0.5" fill="#222"/>
<circle cx="108.27" cy="425.58" r="0.5" fill="#222"/>
<polygon points="102.50,414.40 102.48,414.67 102.43,414.93 102.35,415.19 102.24,415.44 102.10,415.68 101.93,415.90 101.74,416.10 101.52,416.28 101.28,416.43 101.03,416.56 100.76,416.67 100.48,416.74 100.19,416.78 99.90,416.80 99.61,416.78 99.32,416.74 99.04,416.67 98.77,416.56 98.52,416.43 98.28,416.28 98.06,416.10 97.87,415.90 97.70,415.68 97.56,415.44 97.45,415.19 97.37,414.93 97.32,414.67 97.30,414.40 97.32,414.13 97.37,413.87 97.45,413.61 97.56,413.36 97.70,413.12 97.87,412.90 98.06,412.70 98.28,412.52 98.52,412.37 98.77,412.24 99.04,412.13 99.32,412.06 99.61,412.02 99.90,412.00 100.19,412.02 100.48,412.06 100.76,412.13 101.03,412.24 101.28,412.37 101.52,412.52 101.74,412.70 101.93,412.90 102.10,413.12 102.24,413.36 102.35,413.61 102.43,413.87 102.48,414.13" fill="none" stroke="#444" stroke-width="0.55"/>
<polygon points="104.70,414.40 104.96,414.90 105.10,415.44 105.05,415.98 104.81,416.47 104.41,416.88 103.91,417.20 103.37,417.43 102.83,417.62 102.33,417.79 101.86,417.97 101.40,418.15 100.92,418.31 100.42,418.43 99.90,418.47 99.38,418.43 98.88,418.31 98.40,418.15 97.94,417.97 97.47,417.79 96.97,417.62 96.43,417.43 95.89,417.20 95.39,416.88 94.99,416.47 94.75,415.98 94.70,415.44 94.84,414.90 95.10,414.40 95.42,413.96 95.74,413.57 95.98,413.20 96.16,412.82 96.28,412.41 96.40,411.96 96.58,411.49 96.85,411.05 97.23,410.68 97.70,410.40 98.23,410.22 98.78,410.12 99.34,410.08 99.90,410.07 100.46,410.08 101.02,410.12 101.57,410.22 102.10,410.40 102.57,410.68 102.95,411.05 103.22,411.49 103.40,411.96 103.52,412.41 103.64,412.82 103.82,413.20 104.06,413.57 104.38,413.96" fill="none" stroke="#777" stroke-width="0.45"/>
<circle cx="98.85" cy="406.70" r="0.5" fill="#222"/>
<circle cx="100.41" cy="414.48" r="0.5" fill="#222"/>
<circle cx="103.94" cy="414.27" r="0.5" fill="#222"/>
<circle cx="101.74" cy="418.28" r="0.5" fill="#222"/>
<circle cx="93.00" cy="412.58" r="0.5" fill="#222"/>
<circle cx="95.62" cy="411.63" r="0.5" fill="#222"/>
<circle cx="100.13" cy="411.68" r="0.5" fill="#222"/>
<circle cx="90.72" cy="415.90" r="0.5" fill="#222"/>
<circle cx="99.07" cy="409.70" r="0.5" fill="#222"/>
<circle cx="107.48" cy="420.27" r="0.5" fill="#222"/>
<circle cx="107.90" cy="416.14" r="0.5" fill="#222"/>
<circle cx="103.13" cy="417.72" r="0.5" fill="#222"/>
<circle cx="97.85" cy="410.40" r="0.5" fill="#222"/>
<circle cx="103.02" cy="414.57" r="0.5" fill="#222"/>
<circle cx="96.69" cy="415.76" r="0.5" fill="#222"/>
<circle cx="101.74" cy="415.56" r="0.5" fill="#222"/>
<circle cx="99.33" cy="410.04" r="0.5" fill="#222"/>
<circle cx="98.93" cy="414.59" r="0.5" fill="#222"/>
<circle cx="99.29" cy="410.43" r="0.5" fill="#222"/>
<circle cx="98.48" cy="409.61" r="0.5" fill="#222"/>
<circle cx="103.74" cy="417.72" r="0.5" fill="#222"/>
<circle cx="97.82" cy="412.89" r="0.5" fill="#222"/>
<circle cx="99.65" cy="417.45" r="0.5" fill="#222"/>
<circle cx="97.39" cy="416.62" r="0.5" fill="#222"/>
<circle cx="109.00" cy="412.49" r="0.5" fill="#222"/>
<circle cx="97.24" cy="414.55" r="0.5" fill="#222"/>
<circle cx="107.70" cy="411.18" r="0.5" fill="#222"/>
<circle cx="108.20" cy="415.07" r="0.5" fill="#222"/>
<circle cx="108.77" cy="414.96" r="0.5" fill="#222"/>
<circle cx="91.47" cy="409.92" r="0.5" fill="#222"/>
<line x1="40.20" y1="378.40" x2="43.00" y2="378.40" stroke="#000" stroke-width="0.9" />
<line x1="41.40" y1="392.38" x2="43.00" y2="392.38" stroke="#000" stroke-width="0.5" />
<line x1="41.40" y1="388.86" x2="43.00" y2="388.86" stroke="#000" stroke-width="0.5" />
<line x1="41.40" y1="386.36" x2="43.00" y2="386.36" stroke="#000" stroke-width="0.5" />
<line x1="41.40" y1="384.42" x2="43.00" y2="384.42" stroke="#000" stroke-width="0.5" />
<line x1="41.40" y1="382.84" x2="43.00" y2="382.84" stroke="#000" stroke-width="0.5" />
<line x1="41.40" y1="381.50" x2="43.00" y2="381.50" stroke="#000" stroke-width="0.5" />
<line x1="41.40" y1="380.34" x2="43.00" y2="380.34" stroke="#000" stroke-width="0.5" />
<line x1="41.40" y1="379.32" x2="43.00" y2="379.32" stroke="#000" stroke-width="0.5" />
<line x1="40.20" y1="398.40" x2="43.00" y2="398.40" stroke="#000" stroke-width="0.9" />
<line x1="41.40" y1="412.38" x2="43.00" y2="412.38" stroke="#000" stroke-width="0.5" />
<line x1="41.40" y1="408.86" x2="43.00" y2="408.86" stroke="#000" stroke-width="0.5" />
<line x1="41.40" y1="406.36" x2="43.00" y2="406.36" stroke="#000" stroke-width="0.5" />
<line x1="41.40" y1="404.42" x2="43.00" y2="404.42" stroke="#000" stroke-width="0.5" />
<line x1="41.40" y1="402.84" x2="43.00" y2="402.84" stroke="#000" stroke-width="0.5" />
<line x1="41.40" y1="401.50" x2="43.00" y2="401.50" stroke="#000" stroke-width="0.5" />
<line x1="41.40" y1="400.34" x2="43.00" y2="400.34" stroke="#000" stroke-width="0.5" />
<line x1="41.40" y1="399.32" x2="43.00" y2="399.32" stroke="#000" stroke-width="0.5" />
<line x1="40.20" y1="418.40" x2="43.00" y2="418.40" stroke="#000" stroke-width="0.9" />
<line x1="41.40" y1="433.08" x2="43.00" y2="433.08" stroke="#000" stroke-width="0.5" />
<line x1="41.40" y1="429.38" x2="43.00" y2="429.38" stroke="#000" stroke-width="0.5" />
<line x1="41.40" y1="426.76" x2="43.00" y2="426.76" stroke="#000" stroke-width="0.5" />
<line x1="41.40" y1="424.72" x2="43.00" y2="424.72" stroke="#000" stroke-width="0.5" />
<line x1="41.40" y1="423.06" x2="43.00" y2="423.06" stroke="#000" stroke-width="0.5" />
<line x1="41.40" y1="421.65" x2="43.00" y2="421.65" stroke="#000" stroke-width="0.5" />
<line x1="41.40" y1="420.44" x2="43.00" y2="420.44" stroke="#000" stroke-width="0.5" />
<line x1="41.40" y1="419.36" x2="43.00" y2="419.36" stroke="#000" stroke-width="0.5" />
<line x1="40.20" y1="439.40" x2="43.00" y2="439.40" stroke="#000" stroke-width="0.9" />
<line x1="41.40" y1="448.90" x2="43.00" y2="448.90" stroke="#000" stroke-width="0.6" />
<line x1="41.40" y1="443.00" x2="43.00" y2="443.00" stroke="#000" stroke-width="0.6" />
<line x1="41.40" y1="452.50" x2="43.00" y2="452.50" stroke="#000" stroke-width="0.6" />
<line x1="40.20" y1="448.90" x2="43.00" y2="448.90" stroke="#000" stroke-width="0.9" />
<line x1="53.50" y1="458.00" x2="53.50" y2="460.60" stroke="#000" stroke-width="0.9" />
<line x1="61.60" y1="458.00" x2="61.60" y2="460.60" stroke="#000" stroke-width="0.9" />
<line x1="67.62" y1="458.00" x2="67.62" y2="459.50" stroke="#000" stroke-width="0.5" />
<line x1="71.14" y1="458.00" x2="71.14" y2="459.50" stroke="#000" stroke-width="0.5" />
<line x1="73.64" y1="458.00" x2="73.64" y2="459.50" stroke="#000" stroke-width="0.5" />
<line x1="75.58" y1="458.00" x2="75.58" y2="459.50" stroke="#000" stroke-width="0.5" />
<line x1="77.16" y1="458.00" x2="77.16" y2="459.50" stroke="#000" stroke-width="0.5" />
<line x1="78.50" y1="458.00" x2="78.50" y2="459.50" stroke="#000" stroke-width="0.5" />
<line x1="79.66" y1="458.00" x2="79.66" y2="459.50" stroke="#000" stroke-width="0.5" />
<line x1="80.68" y1="458.00" x2="80.68" y2="459.50" stroke="#000" stroke-width="0.5" />
<line x1="81.60" y1="458.00" x2="81.60" y2="460.60" stroke="#000" stroke-width="0.9" />
<line x1="87.62" y1="458.00" x2="87.62" y2="459.50" stroke="#000" stroke-width="0.5" />
<line x1="91.14" y1="458.00" x2="91.14" y2="459.50" stroke="#000" stroke-width="0.5" />
<line x1="93.64" y1="458.00" x2="93.64" y2="459.50" stroke="#000" stroke-width="0.5" />
<line x1="95.58" y1="458.00" x2="95.58" y2="459.50" stroke="#000" stroke-width="0.5" />
<line x1="97.16" y1="458.00" x2="97.16" y2="459.50" stroke="#000" stroke-width="0.5" />
<line x1="98.50" y1="458.00" x2="98.50" y2="459.50" stroke="#000" stroke-width="0.5" />
<line x1="99.66" y1="458.00" x2="99.66" y2="459.50" stroke="#000" stroke-width="0.5" />
<line x1="100.68" y1="458.00" x2="100.68" y2="459.50" stroke="#000" stroke-width="0.5" />
<line x1="101.60" y1="458.00" x2="101.60" y2="460.60" stroke="#000" stroke-width="0.9" />
<line x1="107.62" y1="458.00" x2="107.62" y2="459.50" stroke="#000" stroke-width="0.5" />
<line x1="111.14" y1="458.00" x2="111.14" y2="459.50" stroke="#000" stroke-width="0.5" />
<line x1="113.64" y1="458.00" x2="113.64" y2="459.50" stroke="#000" stroke-width="0.5" />
<line x1="115.58" y1="458.00" x2="115.58" y2="459.50" stroke="#000" stroke-width="0.5" />
<line x1="117.16" y1="458.00" x2="117.16" y2="459.50" stroke="#000" stroke-width="0.5" />
<line x1="118.50" y1="458.00" x2="118.50" y2="459.50" stroke="#000" stroke-width="0.5" />
<line x1="119.66" y1="458.00" x2="119.66" y2="459.50" stroke="#000" stroke-width="0.5" />
<line x1="120.68" y1="458.00" x2="120.68" y2="459.50" stroke="#000" stroke-width="0.5" />
<line x1="121.60" y1="458.00" x2="121.60" y2="460.60" stroke="#000" stroke-width="0.9" />
<line x1="46.00" y1="458.00" x2="46.00" y2="459.50" stroke="#000" stroke-width="0.5" />
<line x1="49.00" y1="458.00" x2="49.00" y2="459.50" stroke="#000" stroke-width="0.5" />
<line x1="56.00" y1="458.00" x2="56.00" y2="459.50" stroke="#000" stroke-width="0.5" />
<line x1="58.50" y1="458.00" x2="58.50" y2="459.50" stroke="#000" stroke-width="0.5" />
<rect x="43.00" y="371.50" width="86.50" height="86.50" fill="none" stroke="#000" stroke-width="1.0" />
<line x1="43.00" y1="371.00" x2="43.00" y2="458.60" stroke="#000" stroke-width="1.5" />
<line x1="42.40" y1="458.00" x2="130.00" y2="458.00" stroke="#000" stroke-width="1.5" />
<text x="26.43" y="380.00" font-size="7.2" fill="#111">10<tspan font-size="5.47" dy="-3.02">5</tspan></text>
<text x="26.43" y="400.00" font-size="7.2" fill="#111">10<tspan font-size="5.47" dy="-3.02">4</tspan></text>
<text x="26.43" y="420.00" font-size="7.2" fill="#111">10<tspan font-size="5.47" dy="-3.02">3</tspan></text>
<text x="26.43" y="441.00" font-size="7.2" fill="#111">10<tspan font-size="5.47" dy="-3.02">2</tspan></text>
<text x="34.4" y="450.5" font-size="7.2" text-anchor="end" font-weight="normal" fill="#111" >0</text>
<polygon points="86.9,414.2 93.2,402.4 109.3,402.4 115.4,414.2 109.3,423.6 93.2,423.6" fill="none" stroke="#000" stroke-width="0.95"/>
<text x="55.5" y="406.3" font-size="8.8" text-anchor="start" font-weight="normal" fill="#111" textLength="12.6" lengthAdjust="spacingAndGlyphs" >4.6</text>
<clipPath id="cQ4"><rect x="133.75" y="371.5" width="86.25" height="86.0"/></clipPath>
<radialGradient id="rg8"><stop offset="0" stop-color="#000" stop-opacity="0.600"/><stop offset="0.6" stop-color="#000" stop-opacity="0.360"/><stop offset="1" stop-color="#000" stop-opacity="0.000"/></radialGradient>
<ellipse cx="193" cy="441" rx="7" ry="12.5" fill="url(#rg8)" clip-path="url(#cQ4)"/>
<path d="M192.50,446.28 L191.75,446.04 L191.20,445.50 L190.95,444.75 L190.88,443.25 L191.17,442.00 L192.22,439.75 L192.51,439.25 L193.00,438.94 L193.50,439.41 L193.80,440.25 L194.00,443.00 L193.50,445.46 L193.00,446.13 L192.50,446.28Z" fill="none" stroke="#222" stroke-width="0.5" clip-path="url(#cQ4)"/>
<path d="M193.25,448.33 L192.50,448.45 L191.75,448.26 L190.50,447.35 L189.91,446.00 L189.71,444.00 L189.81,442.00 L190.37,440.25 L192.00,437.55 L192.50,437.05 L193.00,436.90 L193.75,437.39 L194.33,438.50 L194.81,440.25 L195.01,442.25 L194.89,444.75 L194.56,446.50 L194.00,447.68 L193.25,448.33Z" fill="none" stroke="#222" stroke-width="0.5" clip-path="url(#cQ4)"/>
<path d="M193.25,450.53 L192.25,450.56 L191.25,450.27 L190.25,449.67 L189.63,449.00 L188.76,447.00 L188.50,444.25 L188.64,441.25 L189.33,439.00 L191.55,435.75 L192.25,435.10 L193.00,434.87 L194.00,435.42 L195.07,437.25 L195.79,439.75 L196.04,442.50 L195.90,445.75 L195.43,448.00 L194.50,449.72 L193.25,450.53Z" fill="none" stroke="#222" stroke-width="0.5" clip-path="url(#cQ4)"/>
<path d="M193.75,452.56 L192.50,452.72 L191.25,452.47 L190.00,451.88 L189.00,451.02 L188.30,450.00 L187.78,448.75 L187.26,445.25 L187.36,441.00 L188.15,438.00 L189.17,436.25 L191.00,434.02 L192.00,433.14 L193.00,432.83 L193.75,433.06 L194.50,433.71 L195.86,436.00 L196.79,439.00 L197.12,442.00 L197.01,446.25 L196.42,449.25 L195.25,451.45 L194.50,452.15 L193.75,452.56Z" fill="none" stroke="#222" stroke-width="0.5" clip-path="url(#cQ4)"/>
<path d="M193.50,454.80 L192.25,454.84 L190.50,454.41 L189.00,453.58 L187.90,452.50 L187.01,451.00 L186.42,449.25 L185.96,445.00 L186.16,440.00 L186.58,438.00 L187.27,436.25 L188.50,434.38 L190.71,432.00 L192.00,431.04 L193.00,430.79 L194.00,431.10 L195.00,431.98 L195.92,433.25 L196.84,435.00 L197.88,438.25 L198.28,442.25 L198.13,447.25 L197.38,450.75 L196.68,452.25 L195.75,453.49 L194.75,454.30 L193.50,454.80Z" fill="none" stroke="#222" stroke-width="0.5" clip-path="url(#cQ4)"/>
<path d="M192.75,457.01 L190.75,456.70 L189.00,455.97 L187.50,454.82 L186.32,453.25 L185.46,451.25 L184.94,449.00 L184.70,446.50 L184.65,443.00 L184.78,440.25 L185.11,438.00 L185.68,436.00 L186.51,434.25 L188.00,432.29 L190.50,429.91 L191.75,429.06 L193.00,428.75 L194.25,429.13 L195.50,430.21 L196.98,432.25 L198.12,434.50 L198.79,436.50 L199.24,438.75 L199.50,444.25 L199.12,449.50 L198.55,451.75 L197.80,453.50 L196.75,455.02 L195.50,456.14 L194.25,456.77 L192.75,457.01Z" fill="none" stroke="#222" stroke-width="0.5" clip-path="url(#cQ4)"/>
<path d="M194.00,459.01 L192.00,459.10 L189.75,458.59 L187.75,457.58 L186.25,456.23 L185.09,454.50 L184.20,452.25 L183.62,449.50 L183.36,446.50 L183.34,442.00 L183.57,438.75 L184.11,436.00 L184.92,433.75 L186.12,431.75 L188.01,429.75 L191.00,427.35 L192.75,426.71 L194.00,426.91 L195.50,427.91 L197.12,429.75 L198.42,431.75 L199.36,433.75 L200.06,436.00 L200.51,438.50 L200.73,441.25 L200.59,448.50 L200.16,451.25 L199.50,453.50 L198.52,455.50 L197.25,457.13 L195.75,458.31 L194.00,459.01Z" fill="none" stroke="#222" stroke-width="0.5" clip-path="url(#cQ4)"/>
<path d="M193.50,461.25 L191.00,461.12 L188.50,460.35 L186.50,459.14 L184.92,457.50 L183.63,455.25 L182.80,452.75 L182.20,449.25 L182.01,445.50 L182.06,440.75 L182.39,437.25 L183.06,434.25 L184.09,431.75 L185.63,429.50 L188.00,427.33 L191.00,425.20 L192.00,424.79 L193.00,424.65 L194.50,425.04 L196.25,426.32 L198.36,428.75 L199.90,431.25 L200.83,433.50 L201.48,436.00 L201.87,438.75 L202.05,442.25 L202.01,446.75 L201.76,450.00 L201.20,453.00 L200.35,455.50 L199.07,457.75 L197.50,459.45 L195.50,460.71 L193.50,461.25Z" fill="none" stroke="#222" stroke-width="0.5" clip-path="url(#cQ4)"/>
<circle cx="192.54" cy="430.01" r="0.5" fill="#222"/>
<circle cx="200.71" cy="441.77" r="0.5" fill="#222"/>
<circle cx="195.37" cy="439.94" r="0.5" fill="#222"/>
<circle cx="188.17" cy="442.21" r="0.5" fill="#222"/>
<circle cx="194.94" cy="442.34" r="0.5" fill="#222"/>
<circle cx="191.23" cy="448.47" r="0.5" fill="#222"/>
<circle cx="184.18" cy="436.91" r="0.5" fill="#222"/>
<circle cx="195.44" cy="455.60" r="0.5" fill="#222"/>
<circle cx="184.64" cy="454.71" r="0.5" fill="#222"/>
<circle cx="188.93" cy="445.77" r="0.5" fill="#222"/>
<circle cx="185.12" cy="432.67" r="0.5" fill="#222"/>
<circle cx="185.11" cy="435.27" r="0.5" fill="#222"/>
<circle cx="198.20" cy="455.69" r="0.5" fill="#222"/>
<circle cx="190.83" cy="442.32" r="0.5" fill="#222"/>
<circle cx="186.12" cy="450.97" r="0.5" fill="#222"/>
<circle cx="187.03" cy="437.44" r="0.5" fill="#222"/>
<circle cx="186.88" cy="449.68" r="0.5" fill="#222"/>
<circle cx="194.92" cy="439.04" r="0.5" fill="#222"/>
<circle cx="190.91" cy="441.35" r="0.5" fill="#222"/>
<circle cx="193.55" cy="451.69" r="0.5" fill="#222"/>
<circle cx="189.67" cy="437.00" r="0.5" fill="#222"/>
<circle cx="187.24" cy="428.03" r="0.5" fill="#222"/>
<circle cx="186.72" cy="434.33" r="0.5" fill="#222"/>
<circle cx="184.59" cy="445.28" r="0.5" fill="#222"/>
<circle cx="199.92" cy="435.45" r="0.5" fill="#222"/>
<circle cx="186.39" cy="441.65" r="0.5" fill="#222"/>
<circle cx="192.48" cy="446.85" r="0.5" fill="#222"/>
<circle cx="187.07" cy="439.52" r="0.5" fill="#222"/>
<circle cx="195.59" cy="437.71" r="0.5" fill="#222"/>
<circle cx="192.92" cy="428.00" r="0.5" fill="#222"/>
<radialGradient id="rg9"><stop offset="0" stop-color="#555" stop-opacity="0.600"/><stop offset="0.5" stop-color="#555" stop-opacity="0.360"/><stop offset="1" stop-color="#555" stop-opacity="0.000"/></radialGradient>
<ellipse cx="191.4" cy="414.4" rx="7" ry="6" fill="url(#rg9)"/>
<polygon points="198.13,414.40 198.05,415.04 197.94,415.68 197.82,416.33 197.69,416.99 197.50,417.68 197.20,418.37 196.77,419.00 196.18,419.54 195.45,419.92 194.62,420.14 193.77,420.20 192.93,420.14 192.14,420.03 191.40,419.91 190.69,419.83 189.97,419.78 189.22,419.73 188.46,419.64 187.69,419.47 186.95,419.18 186.30,418.77 185.75,418.26 185.31,417.68 184.95,417.06 184.67,416.42 184.43,415.76 184.24,415.09 184.13,414.40 184.14,413.70 184.29,413.01 184.61,412.36 185.07,411.79 185.64,411.30 186.26,410.88 186.87,410.52 187.45,410.15 188.00,409.76 188.55,409.33 189.14,408.87 189.81,408.44 190.57,408.10 191.40,407.91 192.25,407.90 193.08,408.08 193.85,408.40 194.53,408.83 195.13,409.31 195.68,409.80 196.20,410.28 196.70,410.78 197.16,411.30 197.57,411.85 197.88,412.46 198.07,413.09 198.15,413.75" fill="none" stroke="#888" stroke-width="0.4"/>
<polygon points="197.08,414.40 197.00,414.94 196.90,415.48 196.76,416.02 196.55,416.54 196.25,417.03 195.86,417.47 195.40,417.85 194.90,418.19 194.38,418.49 193.85,418.78 193.30,419.08 192.71,419.37 192.08,419.62 191.40,419.80 190.69,419.86 189.98,419.77 189.32,419.52 188.75,419.14 188.28,418.68 187.89,418.19 187.56,417.71 187.24,417.26 186.90,416.84 186.52,416.43 186.15,415.99 185.80,415.50 185.54,414.97 185.40,414.40 185.39,413.82 185.52,413.24 185.74,412.69 186.03,412.17 186.36,411.67 186.73,411.18 187.14,410.72 187.62,410.30 188.16,409.95 188.78,409.70 189.44,409.56 190.12,409.54 190.77,409.61 191.40,409.72 191.99,409.84 192.58,409.94 193.18,410.01 193.82,410.06 194.49,410.15 195.18,410.31 195.82,410.59 196.37,410.98 196.78,411.48 197.05,412.05 197.17,412.66 197.19,413.26 197.15,413.84" fill="none" stroke="#888" stroke-width="0.4"/>
<polygon points="195.92,414.40 195.90,414.84 195.85,415.29 195.73,415.72 195.53,416.13 195.26,416.51 194.93,416.86 194.57,417.17 194.20,417.46 193.81,417.75 193.41,418.04 192.98,418.33 192.50,418.59 191.97,418.77 191.40,418.86 190.83,418.82 190.29,418.65 189.80,418.38 189.39,418.05 189.03,417.69 188.71,417.34 188.39,417.02 188.05,416.73 187.70,416.43 187.34,416.10 187.02,415.74 186.77,415.32 186.61,414.87 186.56,414.40 186.60,413.93 186.72,413.47 186.89,413.03 187.10,412.59 187.33,412.17 187.61,411.77 187.95,411.40 188.36,411.08 188.83,410.84 189.35,410.69 189.89,410.63 190.41,410.63 190.92,410.67 191.40,410.70 191.88,410.71 192.37,410.70 192.89,410.68 193.45,410.69 194.01,410.78 194.54,410.96 195.01,411.25 195.37,411.64 195.63,412.09 195.78,412.56 195.86,413.04 195.89,413.51 195.91,413.96" fill="none" stroke="#888" stroke-width="0.4"/>
<polygon points="195.04,414.40 194.91,414.75 194.76,415.08 194.61,415.40 194.46,415.70 194.29,416.01 194.08,416.30 193.84,416.56 193.55,416.79 193.22,416.97 192.87,417.11 192.52,417.23 192.15,417.32 191.78,417.42 191.40,417.51 191.00,417.58 190.57,417.61 190.14,417.59 189.73,417.47 189.36,417.27 189.07,416.99 188.84,416.67 188.69,416.32 188.58,415.97 188.49,415.64 188.38,415.34 188.26,415.04 188.12,414.73 188.00,414.40 187.92,414.05 187.90,413.69 187.97,413.34 188.11,413.00 188.32,412.69 188.58,412.41 188.86,412.15 189.16,411.91 189.48,411.69 189.82,411.49 190.19,411.34 190.59,411.24 191.00,411.22 191.40,411.27 191.78,411.38 192.14,411.53 192.47,411.70 192.79,411.85 193.11,411.99 193.46,412.12 193.82,412.25 194.19,412.42 194.54,412.65 194.83,412.94 195.03,413.28 195.12,413.65 195.12,414.03" fill="none" stroke="#888" stroke-width="0.4"/>
<polygon points="193.94,414.40 193.96,414.66 193.91,414.92 193.79,415.16 193.62,415.38 193.42,415.56 193.22,415.73 193.02,415.88 192.82,416.03 192.61,416.16 192.39,416.29 192.16,416.39 191.91,416.46 191.66,416.50 191.40,416.49 191.15,416.47 190.90,416.42 190.64,416.38 190.39,416.32 190.12,416.26 189.86,416.17 189.61,416.04 189.39,415.87 189.22,415.65 189.12,415.41 189.08,415.14 189.10,414.88 189.16,414.63 189.22,414.40 189.27,414.18 189.30,413.96 189.33,413.74 189.37,413.50 189.43,413.27 189.53,413.03 189.68,412.83 189.87,412.65 190.10,412.51 190.35,412.40 190.60,412.32 190.86,412.25 191.13,412.20 191.40,412.17 191.67,412.17 191.95,412.21 192.20,412.30 192.44,412.43 192.64,412.60 192.80,412.79 192.94,412.99 193.08,413.18 193.22,413.35 193.37,413.53 193.54,413.71 193.71,413.92 193.85,414.15" fill="none" stroke="#888" stroke-width="0.4"/>
<polygon points="192.64,414.40 192.60,414.53 192.55,414.66 192.50,414.78 192.44,414.90 192.38,415.02 192.31,415.13 192.23,415.23 192.13,415.32 192.02,415.39 191.90,415.44 191.78,415.49 191.66,415.52 191.53,415.56 191.40,415.60 191.26,415.62 191.12,415.64 190.97,415.63 190.83,415.58 190.71,415.50 190.61,415.40 190.53,415.27 190.48,415.14 190.44,415.00 190.41,414.88 190.37,414.76 190.33,414.64 190.28,414.53 190.24,414.40 190.21,414.27 190.21,414.13 190.23,413.99 190.28,413.86 190.35,413.74 190.44,413.63 190.53,413.53 190.64,413.44 190.74,413.36 190.86,413.28 190.99,413.22 191.12,413.18 191.26,413.18 191.40,413.20 191.53,413.24 191.65,413.30 191.76,413.36 191.87,413.42 191.98,413.47 192.10,413.52 192.23,413.57 192.35,413.64 192.47,413.73 192.57,413.84 192.64,413.97 192.67,414.11 192.67,414.26" fill="none" stroke="#888" stroke-width="0.4"/>
<circle cx="188.94" cy="413.80" r="0.5" fill="#666"/>
<circle cx="190.40" cy="418.57" r="0.5" fill="#666"/>
<circle cx="197.24" cy="414.90" r="0.5" fill="#666"/>
<circle cx="196.45" cy="413.14" r="0.5" fill="#666"/>
<circle cx="197.79" cy="405.63" r="0.5" fill="#666"/>
<circle cx="192.20" cy="414.48" r="0.5" fill="#666"/>
<circle cx="182.82" cy="416.42" r="0.5" fill="#666"/>
<circle cx="190.68" cy="413.33" r="0.5" fill="#666"/>
<circle cx="184.38" cy="415.62" r="0.5" fill="#666"/>
<circle cx="192.83" cy="416.20" r="0.5" fill="#666"/>
<circle cx="189.31" cy="411.46" r="0.5" fill="#666"/>
<circle cx="189.93" cy="411.40" r="0.5" fill="#666"/>
<circle cx="195.70" cy="416.18" r="0.5" fill="#666"/>
<circle cx="192.48" cy="410.80" r="0.5" fill="#666"/>
<circle cx="183.13" cy="412.44" r="0.5" fill="#666"/>
<circle cx="189.70" cy="422.32" r="0.5" fill="#666"/>
<circle cx="196.69" cy="415.51" r="0.5" fill="#666"/>
<circle cx="191.56" cy="416.84" r="0.5" fill="#666"/>
<circle cx="193.84" cy="412.98" r="0.5" fill="#666"/>
<circle cx="192.46" cy="409.97" r="0.5" fill="#666"/>
<line x1="130.95" y1="378.40" x2="133.75" y2="378.40" stroke="#000" stroke-width="0.9" />
<line x1="132.15" y1="392.38" x2="133.75" y2="392.38" stroke="#000" stroke-width="0.5" />
<line x1="132.15" y1="388.86" x2="133.75" y2="388.86" stroke="#000" stroke-width="0.5" />
<line x1="132.15" y1="386.36" x2="133.75" y2="386.36" stroke="#000" stroke-width="0.5" />
<line x1="132.15" y1="384.42" x2="133.75" y2="384.42" stroke="#000" stroke-width="0.5" />
<line x1="132.15" y1="382.84" x2="133.75" y2="382.84" stroke="#000" stroke-width="0.5" />
<line x1="132.15" y1="381.50" x2="133.75" y2="381.50" stroke="#000" stroke-width="0.5" />
<line x1="132.15" y1="380.34" x2="133.75" y2="380.34" stroke="#000" stroke-width="0.5" />
<line x1="132.15" y1="379.32" x2="133.75" y2="379.32" stroke="#000" stroke-width="0.5" />
<line x1="130.95" y1="398.40" x2="133.75" y2="398.40" stroke="#000" stroke-width="0.9" />
<line x1="132.15" y1="412.38" x2="133.75" y2="412.38" stroke="#000" stroke-width="0.5" />
<line x1="132.15" y1="408.86" x2="133.75" y2="408.86" stroke="#000" stroke-width="0.5" />
<line x1="132.15" y1="406.36" x2="133.75" y2="406.36" stroke="#000" stroke-width="0.5" />
<line x1="132.15" y1="404.42" x2="133.75" y2="404.42" stroke="#000" stroke-width="0.5" />
<line x1="132.15" y1="402.84" x2="133.75" y2="402.84" stroke="#000" stroke-width="0.5" />
<line x1="132.15" y1="401.50" x2="133.75" y2="401.50" stroke="#000" stroke-width="0.5" />
<line x1="132.15" y1="400.34" x2="133.75" y2="400.34" stroke="#000" stroke-width="0.5" />
<line x1="132.15" y1="399.32" x2="133.75" y2="399.32" stroke="#000" stroke-width="0.5" />
<line x1="130.95" y1="418.40" x2="133.75" y2="418.40" stroke="#000" stroke-width="0.9" />
<line x1="132.15" y1="433.08" x2="133.75" y2="433.08" stroke="#000" stroke-width="0.5" />
<line x1="132.15" y1="429.38" x2="133.75" y2="429.38" stroke="#000" stroke-width="0.5" />
<line x1="132.15" y1="426.76" x2="133.75" y2="426.76" stroke="#000" stroke-width="0.5" />
<line x1="132.15" y1="424.72" x2="133.75" y2="424.72" stroke="#000" stroke-width="0.5" />
<line x1="132.15" y1="423.06" x2="133.75" y2="423.06" stroke="#000" stroke-width="0.5" />
<line x1="132.15" y1="421.65" x2="133.75" y2="421.65" stroke="#000" stroke-width="0.5" />
<line x1="132.15" y1="420.44" x2="133.75" y2="420.44" stroke="#000" stroke-width="0.5" />
<line x1="132.15" y1="419.36" x2="133.75" y2="419.36" stroke="#000" stroke-width="0.5" />
<line x1="130.95" y1="439.40" x2="133.75" y2="439.40" stroke="#000" stroke-width="0.9" />
<line x1="132.15" y1="448.90" x2="133.75" y2="448.90" stroke="#000" stroke-width="0.6" />
<line x1="132.15" y1="443.00" x2="133.75" y2="443.00" stroke="#000" stroke-width="0.6" />
<line x1="132.15" y1="452.50" x2="133.75" y2="452.50" stroke="#000" stroke-width="0.6" />
<line x1="130.95" y1="448.90" x2="133.75" y2="448.90" stroke="#000" stroke-width="0.9" />
<line x1="144.25" y1="457.50" x2="144.25" y2="460.10" stroke="#000" stroke-width="0.9" />
<line x1="152.35" y1="457.50" x2="152.35" y2="460.10" stroke="#000" stroke-width="0.9" />
<line x1="158.37" y1="457.50" x2="158.37" y2="459.00" stroke="#000" stroke-width="0.5" />
<line x1="161.89" y1="457.50" x2="161.89" y2="459.00" stroke="#000" stroke-width="0.5" />
<line x1="164.39" y1="457.50" x2="164.39" y2="459.00" stroke="#000" stroke-width="0.5" />
<line x1="166.33" y1="457.50" x2="166.33" y2="459.00" stroke="#000" stroke-width="0.5" />
<line x1="167.91" y1="457.50" x2="167.91" y2="459.00" stroke="#000" stroke-width="0.5" />
<line x1="169.25" y1="457.50" x2="169.25" y2="459.00" stroke="#000" stroke-width="0.5" />
<line x1="170.41" y1="457.50" x2="170.41" y2="459.00" stroke="#000" stroke-width="0.5" />
<line x1="171.43" y1="457.50" x2="171.43" y2="459.00" stroke="#000" stroke-width="0.5" />
<line x1="172.35" y1="457.50" x2="172.35" y2="460.10" stroke="#000" stroke-width="0.9" />
<line x1="178.37" y1="457.50" x2="178.37" y2="459.00" stroke="#000" stroke-width="0.5" />
<line x1="181.89" y1="457.50" x2="181.89" y2="459.00" stroke="#000" stroke-width="0.5" />
<line x1="184.39" y1="457.50" x2="184.39" y2="459.00" stroke="#000" stroke-width="0.5" />
<line x1="186.33" y1="457.50" x2="186.33" y2="459.00" stroke="#000" stroke-width="0.5" />
<line x1="187.91" y1="457.50" x2="187.91" y2="459.00" stroke="#000" stroke-width="0.5" />
<line x1="189.25" y1="457.50" x2="189.25" y2="459.00" stroke="#000" stroke-width="0.5" />
<line x1="190.41" y1="457.50" x2="190.41" y2="459.00" stroke="#000" stroke-width="0.5" />
<line x1="191.43" y1="457.50" x2="191.43" y2="459.00" stroke="#000" stroke-width="0.5" />
<line x1="192.35" y1="457.50" x2="192.35" y2="460.10" stroke="#000" stroke-width="0.9" />
<line x1="198.37" y1="457.50" x2="198.37" y2="459.00" stroke="#000" stroke-width="0.5" />
<line x1="201.89" y1="457.50" x2="201.89" y2="459.00" stroke="#000" stroke-width="0.5" />
<line x1="204.39" y1="457.50" x2="204.39" y2="459.00" stroke="#000" stroke-width="0.5" />
<line x1="206.33" y1="457.50" x2="206.33" y2="459.00" stroke="#000" stroke-width="0.5" />
<line x1="207.91" y1="457.50" x2="207.91" y2="459.00" stroke="#000" stroke-width="0.5" />
<line x1="209.25" y1="457.50" x2="209.25" y2="459.00" stroke="#000" stroke-width="0.5" />
<line x1="210.41" y1="457.50" x2="210.41" y2="459.00" stroke="#000" stroke-width="0.5" />
<line x1="211.43" y1="457.50" x2="211.43" y2="459.00" stroke="#000" stroke-width="0.5" />
<line x1="212.35" y1="457.50" x2="212.35" y2="460.10" stroke="#000" stroke-width="0.9" />
<line x1="136.75" y1="457.50" x2="136.75" y2="459.00" stroke="#000" stroke-width="0.5" />
<line x1="139.75" y1="457.50" x2="139.75" y2="459.00" stroke="#000" stroke-width="0.5" />
<line x1="146.75" y1="457.50" x2="146.75" y2="459.00" stroke="#000" stroke-width="0.5" />
<line x1="149.25" y1="457.50" x2="149.25" y2="459.00" stroke="#000" stroke-width="0.5" />
<rect x="133.75" y="371.50" width="86.25" height="86.00" fill="none" stroke="#000" stroke-width="1.0" />
<line x1="133.75" y1="371.00" x2="133.75" y2="458.10" stroke="#000" stroke-width="1.5" />
<line x1="133.15" y1="457.50" x2="220.50" y2="457.50" stroke="#000" stroke-width="1.5" />
<polygon points="177.7,413.9 183.7,402.4 199.6,402.4 205.7,413.9 199.6,423.6 183.7,423.6" fill="none" stroke="#000" stroke-width="0.95"/>
<text x="151" y="406.3" font-size="8.8" text-anchor="start" font-weight="normal" fill="#111" textLength="10.2" lengthAdjust="spacingAndGlyphs" >10</text>
<text x="50.3" y="468.2" font-size="7.2" text-anchor="start" font-weight="normal" fill="#111" >0</text>
<text x="55.60" y="468.20" font-size="7.2" fill="#111">10<tspan font-size="5.47" dy="-3.02">2</tspan></text>
<text x="76.20" y="468.20" font-size="7.2" fill="#111">10<tspan font-size="5.47" dy="-3.02">3</tspan></text>
<text x="96.90" y="468.20" font-size="7.2" fill="#111">10<tspan font-size="5.47" dy="-3.02">4</tspan></text>
<text x="116.20" y="468.20" font-size="7.2" fill="#111">10<tspan font-size="5.47" dy="-3.02">5</tspan></text>
<text x="141.05" y="468.2" font-size="7.2" text-anchor="start" font-weight="normal" fill="#111" >0</text>
<text x="146.35" y="468.20" font-size="7.2" fill="#111">10<tspan font-size="5.47" dy="-3.02">2</tspan></text>
<text x="166.95" y="468.20" font-size="7.2" fill="#111">10<tspan font-size="5.47" dy="-3.02">3</tspan></text>
<text x="187.65" y="468.20" font-size="7.2" fill="#111">10<tspan font-size="5.47" dy="-3.02">4</tspan></text>
<text x="206.95" y="468.20" font-size="7.2" fill="#111">10<tspan font-size="5.47" dy="-3.02">5</tspan></text>
<text x="46" y="479.8" font-size="9.3" text-anchor="start" font-weight="normal" fill="#111" textLength="18.3" lengthAdjust="spacingAndGlyphs" >CD4</text>
<line x1="68.00" y1="477.00" x2="208.00" y2="477.00" stroke="#555" stroke-width="1.2" />
<polygon points="212.4,477.0 207.2,474.1 207.2,479.9" fill="#000"/>
<rect x="257.70" y="340.90" width="9.30" height="22.70" fill="#df8495" stroke="none" stroke-width="1" />
<rect x="274.80" y="328.00" width="9.40" height="35.60" fill="#85a6c2" stroke="none" stroke-width="1" />
<line x1="262.40" y1="340.90" x2="262.40" y2="337.80" stroke="#222" stroke-width="0.9" />
<line x1="260.40" y1="337.80" x2="264.40" y2="337.80" stroke="#222" stroke-width="0.9" />
<line x1="279.50" y1="328.00" x2="279.50" y2="318.60" stroke="#222" stroke-width="1.0" />
<line x1="277.00" y1="318.60" x2="282.00" y2="318.60" stroke="#222" stroke-width="1.0" />
<rect x="257.25" y="331.75" width="3.5" height="3.5" fill="#c8143f"/>
<rect x="264.25" y="334.75" width="3.5" height="3.5" fill="#c8143f"/>
<rect x="257.25" y="338.65" width="3.5" height="3.5" fill="#c8143f"/>
<rect x="257.25" y="343.75" width="3.5" height="3.5" fill="#c8143f"/>
<rect x="264.25" y="342.55" width="3.5" height="3.5" fill="#c8143f"/>
<polygon points="275.80,303.73 277.55,306.95 274.05,306.95" fill="#154c88"/>
<polygon points="283.40,306.43 285.15,309.65 281.65,309.65" fill="#154c88"/>
<polygon points="279.50,336.03 281.25,339.25 277.75,339.25" fill="#154c88"/>
<polygon points="283.40,340.63 285.15,343.85 281.65,343.85" fill="#154c88"/>
<polygon points="275.80,343.73 277.55,346.95 274.05,346.95" fill="#154c88"/>
<line x1="245.50" y1="286.90" x2="248.50" y2="286.90" stroke="#222" stroke-width="0.9" />
<text x="243.0" y="289.52799999999996" font-size="7.3" text-anchor="end" font-weight="normal" fill="#222" >8</text>
<line x1="245.50" y1="306.10" x2="248.50" y2="306.10" stroke="#222" stroke-width="0.9" />
<text x="243.0" y="308.728" font-size="7.3" text-anchor="end" font-weight="normal" fill="#222" >6</text>
<line x1="245.50" y1="325.30" x2="248.50" y2="325.30" stroke="#222" stroke-width="0.9" />
<text x="243.0" y="327.928" font-size="7.3" text-anchor="end" font-weight="normal" fill="#222" >4</text>
<line x1="245.50" y1="344.50" x2="248.50" y2="344.50" stroke="#222" stroke-width="0.9" />
<text x="243.0" y="347.128" font-size="7.3" text-anchor="end" font-weight="normal" fill="#222" >2</text>
<line x1="245.50" y1="363.60" x2="248.50" y2="363.60" stroke="#222" stroke-width="0.9" />
<text x="243.0" y="366.228" font-size="7.3" text-anchor="end" font-weight="normal" fill="#222" >0</text>
<line x1="262.40" y1="363.60" x2="262.40" y2="366.40" stroke="#222" stroke-width="0.9" />
<line x1="279.50" y1="363.60" x2="279.50" y2="366.40" stroke="#222" stroke-width="0.9" />
<line x1="248.50" y1="283.20" x2="248.50" y2="364.10" stroke="#222" stroke-width="1.1" />
<line x1="248.00" y1="363.60" x2="290.00" y2="363.60" stroke="#222" stroke-width="1.1" />
<text transform="translate(233.80,338.30) rotate(-90)" x="0" y="0" font-size="9.0" font-weight="bold" fill="#111" textLength="24.60" lengthAdjust="spacingAndGlyphs">% IL-17<tspan font-size="5.8" dy="-3.0">+</tspan></text>
<rect x="261.90" y="445.50" width="9.40" height="11.80" fill="#df8495" stroke="none" stroke-width="1" />
<rect x="278.40" y="428.10" width="9.40" height="29.20" fill="#85a6c2" stroke="none" stroke-width="1" />
<line x1="266.30" y1="445.50" x2="266.30" y2="442.40" stroke="#222" stroke-width="0.9" />
<line x1="264.30" y1="442.40" x2="268.30" y2="442.40" stroke="#222" stroke-width="0.9" />
<line x1="283.10" y1="428.10" x2="283.10" y2="420.30" stroke="#222" stroke-width="1.0" />
<line x1="280.60" y1="420.30" x2="285.60" y2="420.30" stroke="#222" stroke-width="1.0" />
<rect x="262.25" y="442.75" width="3.5" height="3.5" fill="#c8143f"/>
<rect x="268.05" y="440.75" width="3.5" height="3.5" fill="#c8143f"/>
<rect x="265.75" y="441.25" width="3.5" height="3.5" fill="#c8143f"/>
<rect x="262.75" y="448.65" width="3.5" height="3.5" fill="#c8143f"/>
<rect x="269.25" y="440.25" width="3.5" height="3.5" fill="#c8143f"/>
<polygon points="283.00,399.33 284.75,402.55 281.25,402.55" fill="#154c88"/>
<polygon points="283.00,427.13 284.75,430.35 281.25,430.35" fill="#154c88"/>
<polygon points="279.00,433.23 280.75,436.45 277.25,436.45" fill="#154c88"/>
<polygon points="279.00,437.73 280.75,440.95 277.25,440.95" fill="#154c88"/>
<polygon points="287.50,435.23 289.25,438.45 285.75,438.45" fill="#154c88"/>
<circle cx="283.1" cy="384" r="0.9" fill="#111"/>
<line x1="249.60" y1="382.40" x2="252.60" y2="382.40" stroke="#222" stroke-width="0.9" />
<text x="247.2" y="385.02799999999996" font-size="7.3" text-anchor="end" font-weight="normal" fill="#222" >25</text>
<line x1="249.60" y1="397.40" x2="252.60" y2="397.40" stroke="#222" stroke-width="0.9" />
<text x="247.2" y="400.02799999999996" font-size="7.3" text-anchor="end" font-weight="normal" fill="#222" >20</text>
<line x1="249.60" y1="412.40" x2="252.60" y2="412.40" stroke="#222" stroke-width="0.9" />
<text x="247.2" y="415.02799999999996" font-size="7.3" text-anchor="end" font-weight="normal" fill="#222" >15</text>
<line x1="249.60" y1="427.30" x2="252.60" y2="427.30" stroke="#222" stroke-width="0.9" />
<text x="247.2" y="429.928" font-size="7.3" text-anchor="end" font-weight="normal" fill="#222" >10</text>
<line x1="249.60" y1="442.30" x2="252.60" y2="442.30" stroke="#222" stroke-width="0.9" />
<text x="247.2" y="444.928" font-size="7.3" text-anchor="end" font-weight="normal" fill="#222" >5</text>
<line x1="249.60" y1="457.30" x2="252.60" y2="457.30" stroke="#222" stroke-width="0.9" />
<text x="247.2" y="459.928" font-size="7.3" text-anchor="end" font-weight="normal" fill="#222" >0</text>
<line x1="266.30" y1="457.30" x2="266.30" y2="460.10" stroke="#222" stroke-width="0.9" />
<line x1="283.10" y1="457.30" x2="283.10" y2="460.10" stroke="#222" stroke-width="0.9" />
<line x1="252.60" y1="378.70" x2="252.60" y2="457.80" stroke="#222" stroke-width="1.1" />
<line x1="252.10" y1="457.30" x2="293.50" y2="457.30" stroke="#222" stroke-width="1.1" />
<text transform="translate(233.80,432.70) rotate(-90)" x="0" y="0" font-size="9.0" font-weight="bold" fill="#111" textLength="27.70" lengthAdjust="spacingAndGlyphs">% Foxp3<tspan font-size="5.8" dy="-3.0">+</tspan></text>
<line x1="302.90" y1="287.00" x2="302.90" y2="418.50" stroke="#555" stroke-width="1.2" />
<polygon points="302.9,282.8 300.1,287.9 305.7,287.9" fill="#000"/>
<text transform="translate(306.10,458.20) rotate(-90)" x="0" y="0" font-size="9.6" font-weight="normal" fill="#111" textLength="30.30" lengthAdjust="spacingAndGlyphs">PSGL-1</text>
<clipPath id="cR1"><rect x="326.3" y="279.2" width="92.19999999999999" height="86.40000000000003"/></clipPath>
<filter id="bl1" x="-50%" y="-50%" width="200%" height="200%"><feGaussianBlur stdDeviation="1.3"/></filter>
<filter id="bl2" x="-50%" y="-50%" width="200%" height="200%"><feGaussianBlur stdDeviation="0.8"/></filter>
<g clip-path="url(#cR1)"><g filter="url(#bl1)"><path d="M339.2,337 C339.2,305 342.28,299 346.9,299 C351.52,299 354.59999999999997,305 354.59999999999997,337 L353.83,366 L339.96999999999997,366 Z" fill="#b8b8b8"/><ellipse cx="343.9" cy="321.0" rx="2.0" ry="19.0" fill="#888"/><ellipse cx="349.7" cy="321.0" rx="1.8" ry="17.0" fill="#8c8c8c"/></g><line x1="346.9" y1="304" x2="346.9" y2="362" stroke="#e4e4e4" stroke-width="0.9" filter="url(#bl2)"/><circle cx="348.51" cy="349.47" r="0.45" fill="#777"/><circle cx="351.36" cy="351.66" r="0.45" fill="#999"/><circle cx="348.85" cy="359.66" r="0.45" fill="#777"/><circle cx="345.22" cy="357.58" r="0.45" fill="#eee"/><circle cx="347.47" cy="338.73" r="0.45" fill="#777"/><circle cx="349.93" cy="328.12" r="0.45" fill="#999"/><circle cx="352.35" cy="351.01" r="0.45" fill="#999"/><circle cx="350.33" cy="306.60" r="0.45" fill="#eee"/><circle cx="342.01" cy="302.11" r="0.45" fill="#777"/><circle cx="343.10" cy="315.79" r="0.45" fill="#999"/><circle cx="351.77" cy="320.52" r="0.45" fill="#999"/><circle cx="347.41" cy="345.38" r="0.45" fill="#999"/><circle cx="342.73" cy="363.99" r="0.45" fill="#999"/><circle cx="353.01" cy="359.20" r="0.45" fill="#ddd"/><circle cx="340.64" cy="328.55" r="0.45" fill="#999"/><circle cx="343.81" cy="323.24" r="0.45" fill="#777"/><circle cx="348.16" cy="347.29" r="0.45" fill="#777"/><circle cx="344.41" cy="354.39" r="0.45" fill="#eee"/><circle cx="349.47" cy="313.83" r="0.45" fill="#eee"/><circle cx="349.58" cy="305.65" r="0.45" fill="#777"/><circle cx="352.78" cy="324.89" r="0.45" fill="#eee"/><circle cx="340.59" cy="352.42" r="0.45" fill="#ddd"/><circle cx="345.28" cy="355.84" r="0.45" fill="#eee"/><circle cx="340.97" cy="313.58" r="0.45" fill="#999"/><circle cx="341.91" cy="317.75" r="0.45" fill="#eee"/><circle cx="344.86" cy="324.71" r="0.45" fill="#ddd"/><circle cx="350.51" cy="308.92" r="0.45" fill="#ddd"/><circle cx="351.61" cy="304.34" r="0.45" fill="#777"/><circle cx="343.08" cy="334.82" r="0.45" fill="#ddd"/><circle cx="352.37" cy="323.76" r="0.45" fill="#777"/><circle cx="344.44" cy="322.28" r="0.45" fill="#999"/><circle cx="350.81" cy="342.12" r="0.45" fill="#ddd"/><circle cx="353.40" cy="312.34" r="0.45" fill="#777"/><circle cx="341.41" cy="340.44" r="0.45" fill="#eee"/><circle cx="340.77" cy="349.40" r="0.45" fill="#ddd"/><circle cx="351.17" cy="331.16" r="0.45" fill="#eee"/><circle cx="342.26" cy="364.66" r="0.45" fill="#777"/><circle cx="350.85" cy="323.39" r="0.45" fill="#999"/><circle cx="342.06" cy="348.83" r="0.45" fill="#999"/><circle cx="348.61" cy="352.43" r="0.45" fill="#777"/><circle cx="342.56" cy="325.87" r="0.45" fill="#777"/><circle cx="351.41" cy="320.87" r="0.45" fill="#eee"/><circle cx="352.42" cy="341.71" r="0.45" fill="#999"/><circle cx="353.13" cy="331.03" r="0.45" fill="#eee"/><circle cx="349.37" cy="322.33" r="0.45" fill="#ddd"/><circle cx="344.16" cy="327.84" r="0.45" fill="#999"/><circle cx="341.83" cy="354.61" r="0.45" fill="#999"/><circle cx="348.56" cy="333.96" r="0.45" fill="#ddd"/><circle cx="342.71" cy="333.48" r="0.45" fill="#ddd"/><circle cx="341.18" cy="352.89" r="0.45" fill="#ddd"/><circle cx="349.45" cy="344.50" r="0.45" fill="#ddd"/><circle cx="345.11" cy="347.09" r="0.45" fill="#ddd"/><circle cx="351.29" cy="318.95" r="0.45" fill="#ddd"/><circle cx="352.88" cy="323.76" r="0.45" fill="#999"/><circle cx="347.96" cy="302.74" r="0.45" fill="#ddd"/><circle cx="344.62" cy="319.52" r="0.45" fill="#ddd"/><circle cx="351.05" cy="343.44" r="0.45" fill="#ddd"/><circle cx="344.91" cy="343.22" r="0.45" fill="#eee"/><circle cx="344.94" cy="355.94" r="0.45" fill="#eee"/><circle cx="353.13" cy="363.22" r="0.45" fill="#999"/><circle cx="347.28" cy="312.64" r="0.45" fill="#ddd"/><circle cx="352.63" cy="332.54" r="0.45" fill="#777"/><circle cx="349.78" cy="348.74" r="0.45" fill="#999"/><circle cx="348.43" cy="361.92" r="0.45" fill="#eee"/><circle cx="344.32" cy="337.41" r="0.45" fill="#ddd"/><circle cx="349.79" cy="303.77" r="0.45" fill="#999"/><circle cx="348.03" cy="341.94" r="0.45" fill="#999"/><circle cx="343.22" cy="345.90" r="0.45" fill="#777"/><circle cx="353.27" cy="364.70" r="0.45" fill="#999"/><circle cx="341.06" cy="310.55" r="0.45" fill="#ddd"/><circle cx="353.03" cy="332.89" r="0.45" fill="#777"/><circle cx="345.79" cy="324.47" r="0.45" fill="#777"/><circle cx="348.08" cy="317.22" r="0.45" fill="#ddd"/><circle cx="340.36" cy="327.94" r="0.45" fill="#ddd"/><circle cx="351.56" cy="357.45" r="0.45" fill="#ddd"/><circle cx="352.98" cy="337.20" r="0.45" fill="#ddd"/><circle cx="341.60" cy="336.89" r="0.45" fill="#ddd"/><circle cx="352.80" cy="320.76" r="0.45" fill="#ddd"/><circle cx="351.07" cy="328.82" r="0.45" fill="#ddd"/><circle cx="346.47" cy="312.03" r="0.45" fill="#eee"/><circle cx="347.74" cy="363.26" r="0.45" fill="#999"/><circle cx="348.32" cy="324.47" r="0.45" fill="#777"/><circle cx="345.35" cy="322.87" r="0.45" fill="#999"/><circle cx="344.62" cy="358.10" r="0.45" fill="#eee"/><circle cx="345.97" cy="364.51" r="0.45" fill="#eee"/><circle cx="344.17" cy="364.24" r="0.45" fill="#eee"/><circle cx="345.38" cy="356.72" r="0.45" fill="#999"/><circle cx="348.15" cy="318.63" r="0.45" fill="#ddd"/><circle cx="346.85" cy="328.59" r="0.45" fill="#ddd"/><circle cx="352.73" cy="321.68" r="0.45" fill="#ddd"/><circle cx="342.23" cy="303.52" r="0.45" fill="#eee"/><circle cx="343.57" cy="304.56" r="0.45" fill="#999"/><circle cx="351.18" cy="302.85" r="0.45" fill="#ddd"/><circle cx="343.54" cy="332.35" r="0.45" fill="#777"/><circle cx="343.57" cy="319.13" r="0.45" fill="#999"/><circle cx="349.80" cy="320.29" r="0.45" fill="#eee"/><circle cx="348.31" cy="332.38" r="0.45" fill="#777"/><circle cx="340.57" cy="310.07" r="0.45" fill="#ddd"/><circle cx="347.34" cy="323.51" r="0.45" fill="#ddd"/><circle cx="349.93" cy="303.70" r="0.45" fill="#ddd"/><circle cx="345.08" cy="349.68" r="0.45" fill="#999"/><circle cx="340.83" cy="318.16" r="0.45" fill="#eee"/><circle cx="349.33" cy="308.89" r="0.45" fill="#999"/><circle cx="340.55" cy="351.82" r="0.45" fill="#eee"/><circle cx="348.14" cy="346.10" r="0.45" fill="#eee"/><circle cx="351.60" cy="355.84" r="0.45" fill="#eee"/><circle cx="345.48" cy="356.52" r="0.45" fill="#999"/><circle cx="352.12" cy="331.77" r="0.45" fill="#777"/><circle cx="344.33" cy="302.21" r="0.45" fill="#eee"/><circle cx="347.97" cy="343.50" r="0.45" fill="#eee"/><circle cx="352.28" cy="311.13" r="0.45" fill="#eee"/><circle cx="349.46" cy="358.88" r="0.45" fill="#ddd"/><circle cx="347.40" cy="329.24" r="0.45" fill="#777"/><circle cx="341.25" cy="316.72" r="0.45" fill="#777"/><circle cx="350.72" cy="344.47" r="0.45" fill="#777"/><circle cx="344.71" cy="329.48" r="0.45" fill="#777"/><circle cx="353.42" cy="346.88" r="0.45" fill="#777"/><circle cx="341.97" cy="309.83" r="0.45" fill="#777"/><circle cx="349.68" cy="310.62" r="0.45" fill="#ddd"/><circle cx="349.59" cy="330.03" r="0.45" fill="#999"/><circle cx="348.35" cy="328.49" r="0.45" fill="#999"/><circle cx="341.24" cy="315.64" r="0.45" fill="#777"/><circle cx="349.00" cy="349.71" r="0.45" fill="#ddd"/><circle cx="341.11" cy="338.82" r="0.45" fill="#eee"/><circle cx="351.85" cy="310.60" r="0.45" fill="#eee"/><circle cx="341.55" cy="345.87" r="0.45" fill="#eee"/><circle cx="346.76" cy="362.07" r="0.45" fill="#ddd"/><circle cx="352.33" cy="310.85" r="0.45" fill="#ddd"/><circle cx="342.33" cy="342.41" r="0.45" fill="#ddd"/><circle cx="352.27" cy="337.51" r="0.45" fill="#999"/><circle cx="343.80" cy="337.31" r="0.45" fill="#ddd"/><circle cx="351.25" cy="320.14" r="0.45" fill="#999"/><circle cx="350.93" cy="357.26" r="0.45" fill="#eee"/><circle cx="350.00" cy="313.48" r="0.45" fill="#777"/><circle cx="348.93" cy="307.46" r="0.45" fill="#777"/><circle cx="341.55" cy="309.99" r="0.45" fill="#eee"/><circle cx="343.48" cy="358.12" r="0.45" fill="#eee"/><circle cx="352.96" cy="308.88" r="0.45" fill="#777"/><circle cx="347.45" cy="326.62" r="0.45" fill="#999"/><circle cx="352.72" cy="329.48" r="0.45" fill="#999"/></g>
<circle cx="346.76" cy="360.83" r="0.7" fill="#000"/>
<circle cx="346.67" cy="361.16" r="0.7" fill="#000"/>
<circle cx="344.53" cy="358.76" r="0.7" fill="#000"/>
<circle cx="344.26" cy="358.46" r="0.7" fill="#000"/>
<circle cx="347.26" cy="359.90" r="0.7" fill="#000"/>
<circle cx="344.36" cy="358.51" r="0.7" fill="#000"/>
<circle cx="347.26" cy="358.16" r="0.7" fill="#000"/>
<circle cx="344.88" cy="360.10" r="0.7" fill="#000"/>
<circle cx="347.37" cy="361.08" r="0.7" fill="#000"/>
<circle cx="344.89" cy="357.97" r="0.7" fill="#000"/>
<circle cx="344.06" cy="360.01" r="0.7" fill="#000"/>
<circle cx="345.90" cy="360.95" r="0.7" fill="#000"/>
<circle cx="346.79" cy="360.82" r="0.7" fill="#000"/>
<circle cx="344.17" cy="358.20" r="0.7" fill="#000"/>
<circle cx="345.61" cy="360.03" r="0.7" fill="#000"/>
<circle cx="344.54" cy="361.09" r="0.7" fill="#000"/>
<circle cx="343.28" cy="359.38" r="0.7" fill="#000"/>
<circle cx="344.32" cy="360.01" r="0.7" fill="#000"/>
<circle cx="346.31" cy="359.10" r="0.7" fill="#000"/>
<circle cx="346.09" cy="361.04" r="0.7" fill="#000"/>
<circle cx="344.59" cy="358.56" r="0.7" fill="#000"/>
<circle cx="344.19" cy="359.04" r="0.7" fill="#000"/>
<circle cx="344.17" cy="357.31" r="0.7" fill="#000"/>
<circle cx="346.51" cy="357.97" r="0.7" fill="#000"/>
<circle cx="342.26" cy="360.04" r="0.7" fill="#000"/>
<circle cx="343.74" cy="360.05" r="0.7" fill="#000"/>
<circle cx="347.04" cy="358.16" r="0.7" fill="#000"/>
<circle cx="343.82" cy="360.75" r="0.7" fill="#000"/>
<circle cx="343.09" cy="357.93" r="0.7" fill="#000"/>
<circle cx="344.36" cy="358.46" r="0.7" fill="#000"/>
<circle cx="347.29" cy="359.26" r="0.7" fill="#000"/>
<circle cx="342.95" cy="361.18" r="0.7" fill="#000"/>
<circle cx="346.41" cy="359.25" r="0.7" fill="#000"/>
<circle cx="348.08" cy="360.54" r="0.7" fill="#000"/>
<circle cx="346.62" cy="358.71" r="0.7" fill="#000"/>
<circle cx="347.92" cy="299.37" r="0.7" fill="#000"/>
<circle cx="346.09" cy="298.06" r="0.7" fill="#000"/>
<circle cx="346.61" cy="299.85" r="0.7" fill="#000"/>
<circle cx="345.97" cy="299.22" r="0.7" fill="#000"/>
<circle cx="344.48" cy="300.77" r="0.7" fill="#000"/>
<circle cx="346.95" cy="299.17" r="0.7" fill="#000"/>
<circle cx="347.30" cy="299.82" r="0.7" fill="#000"/>
<circle cx="346.64" cy="299.32" r="0.7" fill="#000"/>
<circle cx="346.60" cy="299.92" r="0.7" fill="#000"/>
<circle cx="347.60" cy="300.29" r="0.7" fill="#000"/>
<circle cx="347.04" cy="300.34" r="0.7" fill="#000"/>
<circle cx="346.28" cy="298.07" r="0.7" fill="#000"/>
<circle cx="344.53" cy="300.30" r="0.7" fill="#000"/>
<circle cx="344.31" cy="298.76" r="0.7" fill="#000"/>
<circle cx="346.51" cy="300.36" r="0.7" fill="#000"/>
<circle cx="343.75" cy="298.45" r="0.7" fill="#000"/>
<circle cx="382.71" cy="312.21" r="0.85" fill="#000"/>
<circle cx="366.35" cy="310.22" r="0.85" fill="#000"/>
<circle cx="360.86" cy="330.14" r="0.85" fill="#000"/>
<circle cx="367.51" cy="315.36" r="0.85" fill="#000"/>
<circle cx="375.50" cy="334.48" r="0.85" fill="#000"/>
<circle cx="375.61" cy="326.37" r="0.85" fill="#000"/>
<circle cx="361.47" cy="329.00" r="0.85" fill="#000"/>
<circle cx="373.85" cy="307.45" r="0.85" fill="#000"/>
<circle cx="361.53" cy="322.30" r="0.85" fill="#000"/>
<circle cx="358.86" cy="307.76" r="0.85" fill="#000"/>
<circle cx="359.44" cy="322.73" r="0.85" fill="#000"/>
<circle cx="360.98" cy="315.34" r="0.85" fill="#000"/>
<circle cx="371.43" cy="328.14" r="0.85" fill="#000"/>
<circle cx="375.72" cy="324.55" r="0.85" fill="#000"/>
<circle cx="371.80" cy="300.11" r="0.85" fill="#000"/>
<circle cx="366.88" cy="326.83" r="0.85" fill="#000"/>
<circle cx="373.58" cy="312.92" r="0.85" fill="#000"/>
<circle cx="372.34" cy="316.66" r="0.85" fill="#000"/>
<circle cx="368.25" cy="314.69" r="0.85" fill="#000"/>
<circle cx="359.83" cy="302.06" r="0.85" fill="#000"/>
<circle cx="356.18" cy="313.04" r="0.85" fill="#000"/>
<circle cx="389.95" cy="300.60" r="0.85" fill="#000"/>
<circle cx="371.18" cy="327.43" r="0.85" fill="#000"/>
<circle cx="374.56" cy="319.30" r="0.85" fill="#000"/>
<circle cx="369.90" cy="321.44" r="0.85" fill="#000"/>
<circle cx="364.62" cy="314.18" r="0.85" fill="#000"/>
<circle cx="367.64" cy="318.10" r="0.85" fill="#000"/>
<circle cx="369.32" cy="310.46" r="0.85" fill="#000"/>
<circle cx="377.01" cy="322.81" r="0.85" fill="#000"/>
<circle cx="364.72" cy="303.87" r="0.85" fill="#000"/>
<circle cx="357.54" cy="313.55" r="0.85" fill="#000"/>
<circle cx="365.69" cy="308.96" r="0.85" fill="#000"/>
<circle cx="373.77" cy="304.79" r="0.85" fill="#000"/>
<circle cx="377.58" cy="301.46" r="0.85" fill="#000"/>
<circle cx="372.17" cy="307.28" r="0.85" fill="#000"/>
<circle cx="354.11" cy="314.84" r="0.85" fill="#000"/>
<circle cx="365.33" cy="315.92" r="0.85" fill="#000"/>
<circle cx="371.62" cy="313.84" r="0.85" fill="#000"/>
<circle cx="358.26" cy="318.02" r="0.85" fill="#000"/>
<circle cx="375.76" cy="323.91" r="0.85" fill="#000"/>
<circle cx="354.64" cy="307.65" r="0.85" fill="#000"/>
<circle cx="361.79" cy="311.73" r="0.85" fill="#000"/>
<circle cx="356.93" cy="303.14" r="0.85" fill="#000"/>
<circle cx="379.21" cy="318.03" r="0.85" fill="#000"/>
<circle cx="368.15" cy="322.50" r="0.85" fill="#000"/>
<circle cx="364.56" cy="322.19" r="0.85" fill="#000"/>
<circle cx="371.73" cy="320.35" r="0.85" fill="#000"/>
<circle cx="367.74" cy="324.14" r="0.85" fill="#000"/>
<circle cx="368.01" cy="313.23" r="0.85" fill="#000"/>
<circle cx="367.83" cy="320.03" r="0.85" fill="#000"/>
<circle cx="361.23" cy="316.73" r="0.85" fill="#000"/>
<circle cx="361.22" cy="315.65" r="0.85" fill="#000"/>
<circle cx="370.05" cy="327.38" r="0.85" fill="#000"/>
<circle cx="381.97" cy="325.59" r="0.85" fill="#000"/>
<circle cx="359.59" cy="313.35" r="0.85" fill="#000"/>
<circle cx="359.00" cy="317.34" r="0.85" fill="#000"/>
<circle cx="368.62" cy="326.09" r="0.85" fill="#000"/>
<circle cx="368.64" cy="304.06" r="0.85" fill="#000"/>
<circle cx="364.25" cy="337.06" r="0.85" fill="#000"/>
<circle cx="372.02" cy="323.62" r="0.85" fill="#000"/>
<circle cx="365.84" cy="317.36" r="0.85" fill="#000"/>
<circle cx="359.17" cy="313.26" r="0.85" fill="#000"/>
<circle cx="374.28" cy="318.62" r="0.85" fill="#000"/>
<circle cx="368.63" cy="315.23" r="0.85" fill="#000"/>
<circle cx="369.11" cy="322.17" r="0.85" fill="#000"/>
<circle cx="369.03" cy="309.22" r="0.85" fill="#000"/>
<circle cx="362.21" cy="303.94" r="0.85" fill="#000"/>
<circle cx="375.56" cy="317.77" r="0.85" fill="#000"/>
<circle cx="377.51" cy="328.59" r="0.85" fill="#000"/>
<circle cx="359.35" cy="317.61" r="0.85" fill="#000"/>
<circle cx="372.68" cy="300.68" r="0.85" fill="#000"/>
<circle cx="370.25" cy="318.76" r="0.85" fill="#000"/>
<circle cx="363.93" cy="324.38" r="0.85" fill="#000"/>
<circle cx="359.13" cy="320.64" r="0.85" fill="#000"/>
<circle cx="378.75" cy="314.55" r="0.85" fill="#000"/>
<circle cx="377.78" cy="313.83" r="0.85" fill="#000"/>
<circle cx="368.06" cy="329.24" r="0.85" fill="#000"/>
<circle cx="372.68" cy="327.62" r="0.85" fill="#000"/>
<circle cx="378.54" cy="334.16" r="0.85" fill="#000"/>
<circle cx="361.42" cy="336.02" r="0.85" fill="#000"/>
<circle cx="368.02" cy="323.37" r="0.85" fill="#000"/>
<circle cx="367.35" cy="334.69" r="0.85" fill="#000"/>
<circle cx="373.22" cy="303.14" r="0.85" fill="#000"/>
<circle cx="363.00" cy="314.58" r="0.85" fill="#000"/>
<circle cx="367.15" cy="319.44" r="0.85" fill="#000"/>
<circle cx="370.79" cy="314.89" r="0.85" fill="#000"/>
<circle cx="366.93" cy="316.64" r="0.85" fill="#000"/>
<circle cx="364.65" cy="329.61" r="0.85" fill="#000"/>
<circle cx="368.25" cy="320.29" r="0.85" fill="#000"/>
<circle cx="372.22" cy="312.24" r="0.85" fill="#000"/>
<circle cx="379.48" cy="317.61" r="0.85" fill="#000"/>
<circle cx="377.02" cy="316.19" r="0.85" fill="#000"/>
<circle cx="375.12" cy="319.16" r="0.85" fill="#000"/>
<circle cx="362.36" cy="312.49" r="0.85" fill="#000"/>
<circle cx="355.59" cy="324.78" r="0.85" fill="#000"/>
<circle cx="358.72" cy="302.01" r="0.85" fill="#000"/>
<circle cx="376.21" cy="313.47" r="0.85" fill="#000"/>
<circle cx="370.97" cy="316.44" r="0.85" fill="#000"/>
<circle cx="355.07" cy="315.43" r="0.85" fill="#000"/>
<circle cx="375.13" cy="312.35" r="0.85" fill="#000"/>
<circle cx="364.29" cy="317.61" r="0.85" fill="#000"/>
<circle cx="360.95" cy="319.26" r="0.85" fill="#000"/>
<circle cx="358.79" cy="302.48" r="0.85" fill="#000"/>
<circle cx="373.68" cy="319.42" r="0.85" fill="#000"/>
<circle cx="378.76" cy="306.80" r="0.85" fill="#000"/>
<circle cx="368.65" cy="307.78" r="0.85" fill="#000"/>
<circle cx="381.90" cy="311.77" r="0.85" fill="#000"/>
<circle cx="371.20" cy="306.20" r="0.85" fill="#000"/>
<circle cx="364.31" cy="313.08" r="0.85" fill="#000"/>
<circle cx="368.35" cy="317.36" r="0.85" fill="#000"/>
<circle cx="376.01" cy="320.78" r="0.85" fill="#000"/>
<circle cx="376.85" cy="312.78" r="0.85" fill="#000"/>
<circle cx="370.17" cy="301.53" r="0.85" fill="#000"/>
<circle cx="373.05" cy="314.38" r="0.85" fill="#000"/>
<circle cx="361.03" cy="329.88" r="0.85" fill="#000"/>
<circle cx="363.07" cy="319.86" r="0.85" fill="#000"/>
<circle cx="369.19" cy="325.59" r="0.85" fill="#000"/>
<circle cx="383.26" cy="320.53" r="0.85" fill="#000"/>
<circle cx="363.35" cy="322.56" r="0.85" fill="#000"/>
<circle cx="367.26" cy="316.04" r="0.85" fill="#000"/>
<circle cx="367.66" cy="306.64" r="0.85" fill="#000"/>
<circle cx="373.80" cy="322.12" r="0.85" fill="#000"/>
<circle cx="369.26" cy="316.76" r="0.85" fill="#000"/>
<circle cx="365.93" cy="322.81" r="0.85" fill="#000"/>
<circle cx="362.53" cy="313.55" r="0.85" fill="#000"/>
<circle cx="371.42" cy="309.63" r="0.85" fill="#000"/>
<circle cx="370.87" cy="315.51" r="0.85" fill="#000"/>
<circle cx="367.24" cy="319.19" r="0.85" fill="#000"/>
<circle cx="371.90" cy="318.67" r="0.85" fill="#000"/>
<circle cx="358.38" cy="310.72" r="0.85" fill="#000"/>
<circle cx="366.13" cy="310.14" r="0.85" fill="#000"/>
<circle cx="364.46" cy="323.27" r="0.85" fill="#000"/>
<circle cx="375.15" cy="339.64" r="0.85" fill="#000"/>
<circle cx="360.89" cy="308.61" r="0.85" fill="#000"/>
<circle cx="363.74" cy="317.11" r="0.85" fill="#000"/>
<circle cx="368.91" cy="331.56" r="0.85" fill="#000"/>
<circle cx="366.90" cy="328.41" r="0.85" fill="#000"/>
<circle cx="371.19" cy="313.58" r="0.85" fill="#000"/>
<circle cx="366.45" cy="299.24" r="0.85" fill="#000"/>
<circle cx="375.89" cy="310.35" r="0.85" fill="#000"/>
<circle cx="368.45" cy="328.21" r="0.85" fill="#000"/>
<circle cx="371.77" cy="314.20" r="0.85" fill="#000"/>
<circle cx="365.56" cy="323.06" r="0.85" fill="#000"/>
<circle cx="369.61" cy="314.03" r="0.85" fill="#000"/>
<circle cx="373.36" cy="327.61" r="0.85" fill="#000"/>
<circle cx="365.91" cy="307.14" r="0.85" fill="#000"/>
<circle cx="366.90" cy="302.12" r="0.85" fill="#000"/>
<circle cx="364.59" cy="319.36" r="0.85" fill="#000"/>
<circle cx="362.97" cy="304.68" r="0.85" fill="#000"/>
<circle cx="379.03" cy="313.22" r="0.85" fill="#000"/>
<line x1="323.50" y1="287.70" x2="326.30" y2="287.70" stroke="#000" stroke-width="0.9" />
<line x1="323.50" y1="307.50" x2="326.30" y2="307.50" stroke="#000" stroke-width="0.9" />
<line x1="323.50" y1="330.60" x2="326.30" y2="330.60" stroke="#000" stroke-width="0.9" />
<line x1="323.50" y1="343.00" x2="326.30" y2="343.00" stroke="#000" stroke-width="0.9" />
<line x1="323.50" y1="357.50" x2="326.30" y2="357.50" stroke="#000" stroke-width="0.9" />
<line x1="324.70" y1="301.54" x2="326.30" y2="301.54" stroke="#000" stroke-width="0.5" />
<line x1="324.70" y1="298.05" x2="326.30" y2="298.05" stroke="#000" stroke-width="0.5" />
<line x1="324.70" y1="295.58" x2="326.30" y2="295.58" stroke="#000" stroke-width="0.5" />
<line x1="324.70" y1="293.66" x2="326.30" y2="293.66" stroke="#000" stroke-width="0.5" />
<line x1="324.70" y1="292.09" x2="326.30" y2="292.09" stroke="#000" stroke-width="0.5" />
<line x1="324.70" y1="290.77" x2="326.30" y2="290.77" stroke="#000" stroke-width="0.5" />
<line x1="324.70" y1="289.62" x2="326.30" y2="289.62" stroke="#000" stroke-width="0.5" />
<line x1="324.70" y1="288.61" x2="326.30" y2="288.61" stroke="#000" stroke-width="0.5" />
<line x1="324.70" y1="323.65" x2="326.30" y2="323.65" stroke="#000" stroke-width="0.5" />
<line x1="324.70" y1="319.58" x2="326.30" y2="319.58" stroke="#000" stroke-width="0.5" />
<line x1="324.70" y1="316.69" x2="326.30" y2="316.69" stroke="#000" stroke-width="0.5" />
<line x1="324.70" y1="314.45" x2="326.30" y2="314.45" stroke="#000" stroke-width="0.5" />
<line x1="324.70" y1="312.62" x2="326.30" y2="312.62" stroke="#000" stroke-width="0.5" />
<line x1="324.70" y1="311.08" x2="326.30" y2="311.08" stroke="#000" stroke-width="0.5" />
<line x1="324.70" y1="309.74" x2="326.30" y2="309.74" stroke="#000" stroke-width="0.5" />
<line x1="324.70" y1="308.56" x2="326.30" y2="308.56" stroke="#000" stroke-width="0.5" />
<line x1="324.70" y1="335.08" x2="326.30" y2="335.08" stroke="#000" stroke-width="0.5" />
<line x1="324.70" y1="339.57" x2="326.30" y2="339.57" stroke="#000" stroke-width="0.5" />
<line x1="324.70" y1="344.05" x2="326.30" y2="344.05" stroke="#000" stroke-width="0.5" />
<line x1="324.70" y1="348.53" x2="326.30" y2="348.53" stroke="#000" stroke-width="0.5" />
<line x1="324.70" y1="353.02" x2="326.30" y2="353.02" stroke="#000" stroke-width="0.5" />
<line x1="333.30" y1="365.60" x2="333.30" y2="368.40" stroke="#000" stroke-width="0.9" />
<line x1="349.80" y1="365.60" x2="349.80" y2="368.40" stroke="#000" stroke-width="0.9" />
<line x1="361.80" y1="365.60" x2="361.80" y2="368.40" stroke="#000" stroke-width="0.9" />
<line x1="385.30" y1="365.60" x2="385.30" y2="368.40" stroke="#000" stroke-width="0.9" />
<line x1="408.30" y1="365.60" x2="408.30" y2="368.40" stroke="#000" stroke-width="0.9" />
<line x1="368.87" y1="365.60" x2="368.87" y2="367.10" stroke="#000" stroke-width="0.5" />
<line x1="373.01" y1="365.60" x2="373.01" y2="367.10" stroke="#000" stroke-width="0.5" />
<line x1="375.95" y1="365.60" x2="375.95" y2="367.10" stroke="#000" stroke-width="0.5" />
<line x1="378.23" y1="365.60" x2="378.23" y2="367.10" stroke="#000" stroke-width="0.5" />
<line x1="380.09" y1="365.60" x2="380.09" y2="367.10" stroke="#000" stroke-width="0.5" />
<line x1="381.66" y1="365.60" x2="381.66" y2="367.10" stroke="#000" stroke-width="0.5" />
<line x1="383.02" y1="365.60" x2="383.02" y2="367.10" stroke="#000" stroke-width="0.5" />
<line x1="384.22" y1="365.60" x2="384.22" y2="367.10" stroke="#000" stroke-width="0.5" />
<line x1="392.22" y1="365.60" x2="392.22" y2="367.10" stroke="#000" stroke-width="0.5" />
<line x1="396.27" y1="365.60" x2="396.27" y2="367.10" stroke="#000" stroke-width="0.5" />
<line x1="399.15" y1="365.60" x2="399.15" y2="367.10" stroke="#000" stroke-width="0.5" />
<line x1="401.38" y1="365.60" x2="401.38" y2="367.10" stroke="#000" stroke-width="0.5" />
<line x1="403.20" y1="365.60" x2="403.20" y2="367.10" stroke="#000" stroke-width="0.5" />
<line x1="404.74" y1="365.60" x2="404.74" y2="367.10" stroke="#000" stroke-width="0.5" />
<line x1="406.07" y1="365.60" x2="406.07" y2="367.10" stroke="#000" stroke-width="0.5" />
<line x1="407.25" y1="365.60" x2="407.25" y2="367.10" stroke="#000" stroke-width="0.5" />
<line x1="336.86" y1="365.60" x2="336.86" y2="367.10" stroke="#000" stroke-width="0.5" />
<line x1="340.43" y1="365.60" x2="340.43" y2="367.10" stroke="#000" stroke-width="0.5" />
<line x1="343.99" y1="365.60" x2="343.99" y2="367.10" stroke="#000" stroke-width="0.5" />
<line x1="347.55" y1="365.60" x2="347.55" y2="367.10" stroke="#000" stroke-width="0.5" />
<line x1="351.11" y1="365.60" x2="351.11" y2="367.10" stroke="#000" stroke-width="0.5" />
<line x1="354.68" y1="365.60" x2="354.68" y2="367.10" stroke="#000" stroke-width="0.5" />
<line x1="358.24" y1="365.60" x2="358.24" y2="367.10" stroke="#000" stroke-width="0.5" />
<rect x="326.30" y="279.20" width="92.20" height="86.40" fill="none" stroke="#000" stroke-width="1.0" />
<line x1="326.30" y1="278.70" x2="326.30" y2="366.20" stroke="#000" stroke-width="1.5" />
<line x1="325.70" y1="365.60" x2="419.00" y2="365.60" stroke="#000" stroke-width="1.5" />
<text x="310.34" y="290.20" font-size="6.8" fill="#111">10<tspan font-size="5.17" dy="-2.86">5</tspan></text>
<text x="310.34" y="310.00" font-size="6.8" fill="#111">10<tspan font-size="5.17" dy="-2.86">4</tspan></text>
<text x="310.34" y="333.10" font-size="6.8" fill="#111">10<tspan font-size="5.17" dy="-2.86">3</tspan></text>
<text x="319.8" y="345.5" font-size="6.8" text-anchor="end" font-weight="normal" fill="#111" >0</text>
<text x="306.37" y="360.00" font-size="6.8" fill="#111">−10<tspan font-size="5.03" dy="-2.86">3</tspan></text>
<rect x="334.60" y="333.20" width="24.80" height="32.40" fill="none" stroke="#777" stroke-width="0.9" />
<line x1="336.40" y1="333.60" x2="336.40" y2="365.60" stroke="#bbb" stroke-width="0.6" />
<text x="360.8" y="359.6" font-size="8.9" text-anchor="start" font-weight="bold" fill="#222" textLength="18.2" lengthAdjust="spacingAndGlyphs" >26.3</text>
<clipPath id="cR2"><rect x="326.25" y="371.25" width="91.25" height="85.75"/></clipPath>
<g clip-path="url(#cR2)"><g filter="url(#bl1)"><path d="M338.9,424 C338.9,397 342.54,391 348.0,391 C353.46,391 357.1,397 357.1,424 L356.19,458 L339.81,458 Z" fill="#b8b8b8"/><ellipse cx="345.0" cy="410.5" rx="2.0" ry="16.5" fill="#888"/><ellipse cx="350.8" cy="410.5" rx="1.8" ry="14.5" fill="#8c8c8c"/></g><rect x="336.9" y="427" width="22.2" height="34" fill="#f2f2f2" filter="url(#bl1)"/><line x1="348.0" y1="396" x2="348.0" y2="454" stroke="#e4e4e4" stroke-width="0.9" filter="url(#bl2)"/><circle cx="352.54" cy="446.61" r="0.45" fill="#eee"/><circle cx="352.06" cy="396.36" r="0.45" fill="#999"/><circle cx="350.52" cy="424.10" r="0.45" fill="#ddd"/><circle cx="345.21" cy="395.40" r="0.45" fill="#eee"/><circle cx="352.67" cy="440.71" r="0.45" fill="#eee"/><circle cx="354.35" cy="428.51" r="0.45" fill="#777"/><circle cx="343.25" cy="429.43" r="0.45" fill="#ddd"/><circle cx="350.52" cy="433.04" r="0.45" fill="#777"/><circle cx="353.33" cy="415.48" r="0.45" fill="#777"/><circle cx="345.87" cy="420.24" r="0.45" fill="#ddd"/><circle cx="347.15" cy="400.00" r="0.45" fill="#999"/><circle cx="351.11" cy="444.97" r="0.45" fill="#777"/><circle cx="354.98" cy="431.67" r="0.45" fill="#999"/><circle cx="353.07" cy="452.41" r="0.45" fill="#eee"/><circle cx="354.69" cy="452.21" r="0.45" fill="#777"/><circle cx="350.06" cy="409.67" r="0.45" fill="#eee"/><circle cx="344.97" cy="431.71" r="0.45" fill="#777"/><circle cx="348.00" cy="437.43" r="0.45" fill="#999"/><circle cx="342.07" cy="436.42" r="0.45" fill="#ddd"/><circle cx="351.39" cy="418.31" r="0.45" fill="#999"/><circle cx="342.40" cy="407.43" r="0.45" fill="#777"/><circle cx="343.18" cy="404.83" r="0.45" fill="#ddd"/><circle cx="348.89" cy="436.97" r="0.45" fill="#ddd"/><circle cx="346.06" cy="427.75" r="0.45" fill="#ddd"/><circle cx="342.23" cy="457.99" r="0.45" fill="#777"/><circle cx="343.13" cy="432.01" r="0.45" fill="#eee"/><circle cx="341.75" cy="422.24" r="0.45" fill="#777"/><circle cx="354.07" cy="436.89" r="0.45" fill="#eee"/><circle cx="347.18" cy="447.20" r="0.45" fill="#777"/><circle cx="348.26" cy="424.14" r="0.45" fill="#eee"/><circle cx="354.82" cy="406.30" r="0.45" fill="#ddd"/><circle cx="347.25" cy="440.25" r="0.45" fill="#999"/><circle cx="340.55" cy="428.43" r="0.45" fill="#ddd"/><circle cx="349.38" cy="417.11" r="0.45" fill="#ddd"/><circle cx="348.04" cy="415.08" r="0.45" fill="#ddd"/><circle cx="355.45" cy="453.32" r="0.45" fill="#eee"/><circle cx="349.74" cy="411.15" r="0.45" fill="#eee"/><circle cx="350.42" cy="425.49" r="0.45" fill="#eee"/><circle cx="347.95" cy="434.61" r="0.45" fill="#eee"/><circle cx="345.27" cy="436.19" r="0.45" fill="#eee"/><circle cx="351.01" cy="411.01" r="0.45" fill="#eee"/><circle cx="355.35" cy="440.68" r="0.45" fill="#999"/><circle cx="354.75" cy="412.61" r="0.45" fill="#777"/><circle cx="349.91" cy="455.74" r="0.45" fill="#999"/><circle cx="340.73" cy="443.51" r="0.45" fill="#777"/><circle cx="350.82" cy="417.74" r="0.45" fill="#eee"/><circle cx="353.47" cy="397.99" r="0.45" fill="#999"/><circle cx="342.65" cy="411.23" r="0.45" fill="#777"/><circle cx="346.80" cy="444.07" r="0.45" fill="#eee"/><circle cx="341.44" cy="408.85" r="0.45" fill="#ddd"/><circle cx="345.86" cy="403.28" r="0.45" fill="#999"/><circle cx="349.65" cy="403.23" r="0.45" fill="#777"/><circle cx="351.31" cy="396.90" r="0.45" fill="#eee"/><circle cx="347.42" cy="451.57" r="0.45" fill="#777"/><circle cx="351.12" cy="402.13" r="0.45" fill="#777"/><circle cx="342.76" cy="434.40" r="0.45" fill="#ddd"/><circle cx="354.31" cy="451.17" r="0.45" fill="#eee"/><circle cx="348.00" cy="395.30" r="0.45" fill="#999"/><circle cx="352.92" cy="406.08" r="0.45" fill="#eee"/><circle cx="347.68" cy="422.13" r="0.45" fill="#ddd"/><circle cx="347.65" cy="431.08" r="0.45" fill="#ddd"/><circle cx="355.40" cy="412.31" r="0.45" fill="#777"/><circle cx="341.56" cy="448.92" r="0.45" fill="#ddd"/><circle cx="344.51" cy="424.28" r="0.45" fill="#eee"/><circle cx="354.53" cy="396.04" r="0.45" fill="#777"/><circle cx="344.13" cy="432.70" r="0.45" fill="#999"/><circle cx="348.55" cy="396.09" r="0.45" fill="#999"/><circle cx="345.47" cy="396.05" r="0.45" fill="#999"/><circle cx="351.10" cy="415.98" r="0.45" fill="#777"/><circle cx="342.70" cy="437.25" r="0.45" fill="#eee"/><circle cx="348.73" cy="423.70" r="0.45" fill="#eee"/><circle cx="350.16" cy="402.20" r="0.45" fill="#ddd"/><circle cx="348.31" cy="395.95" r="0.45" fill="#999"/><circle cx="343.11" cy="441.30" r="0.45" fill="#eee"/><circle cx="352.59" cy="454.49" r="0.45" fill="#999"/><circle cx="346.75" cy="404.44" r="0.45" fill="#ddd"/><circle cx="355.63" cy="429.90" r="0.45" fill="#777"/><circle cx="352.43" cy="430.41" r="0.45" fill="#999"/><circle cx="352.03" cy="448.72" r="0.45" fill="#eee"/><circle cx="340.41" cy="448.07" r="0.45" fill="#999"/><circle cx="351.35" cy="435.29" r="0.45" fill="#ddd"/><circle cx="344.47" cy="405.85" r="0.45" fill="#999"/><circle cx="342.80" cy="434.03" r="0.45" fill="#eee"/><circle cx="341.41" cy="394.78" r="0.45" fill="#eee"/><circle cx="352.01" cy="401.33" r="0.45" fill="#777"/><circle cx="350.69" cy="432.12" r="0.45" fill="#777"/><circle cx="348.66" cy="444.33" r="0.45" fill="#999"/><circle cx="352.08" cy="438.01" r="0.45" fill="#ddd"/><circle cx="341.70" cy="398.95" r="0.45" fill="#777"/><circle cx="342.87" cy="436.33" r="0.45" fill="#777"/><circle cx="355.09" cy="438.92" r="0.45" fill="#999"/><circle cx="341.04" cy="452.87" r="0.45" fill="#eee"/><circle cx="350.34" cy="412.37" r="0.45" fill="#eee"/><circle cx="343.85" cy="446.21" r="0.45" fill="#999"/><circle cx="344.56" cy="394.84" r="0.45" fill="#ddd"/><circle cx="352.29" cy="400.00" r="0.45" fill="#777"/><circle cx="345.87" cy="438.24" r="0.45" fill="#999"/><circle cx="354.94" cy="395.79" r="0.45" fill="#ddd"/><circle cx="347.00" cy="447.28" r="0.45" fill="#777"/><circle cx="345.59" cy="395.95" r="0.45" fill="#ddd"/><circle cx="341.32" cy="394.17" r="0.45" fill="#ddd"/><circle cx="341.62" cy="431.81" r="0.45" fill="#ddd"/><circle cx="343.83" cy="402.06" r="0.45" fill="#999"/><circle cx="344.02" cy="436.43" r="0.45" fill="#eee"/><circle cx="348.98" cy="434.12" r="0.45" fill="#eee"/><circle cx="354.63" cy="410.20" r="0.45" fill="#ddd"/><circle cx="354.00" cy="406.32" r="0.45" fill="#eee"/><circle cx="341.89" cy="405.27" r="0.45" fill="#777"/><circle cx="354.93" cy="445.81" r="0.45" fill="#999"/><circle cx="342.12" cy="431.93" r="0.45" fill="#eee"/><circle cx="347.79" cy="449.65" r="0.45" fill="#eee"/><circle cx="343.60" cy="435.23" r="0.45" fill="#eee"/><circle cx="342.65" cy="452.83" r="0.45" fill="#777"/><circle cx="345.49" cy="410.12" r="0.45" fill="#999"/><circle cx="344.69" cy="431.65" r="0.45" fill="#ddd"/><circle cx="343.72" cy="443.92" r="0.45" fill="#999"/><circle cx="341.54" cy="433.84" r="0.45" fill="#999"/><circle cx="354.60" cy="399.71" r="0.45" fill="#eee"/><circle cx="346.64" cy="442.20" r="0.45" fill="#999"/><circle cx="348.31" cy="455.06" r="0.45" fill="#eee"/><circle cx="354.51" cy="450.51" r="0.45" fill="#ddd"/><circle cx="353.29" cy="431.87" r="0.45" fill="#ddd"/><circle cx="350.31" cy="445.06" r="0.45" fill="#777"/><circle cx="344.31" cy="396.64" r="0.45" fill="#999"/><circle cx="352.95" cy="426.42" r="0.45" fill="#777"/><circle cx="341.60" cy="447.30" r="0.45" fill="#777"/><circle cx="343.61" cy="415.65" r="0.45" fill="#999"/><circle cx="342.97" cy="405.78" r="0.45" fill="#999"/><circle cx="353.56" cy="441.29" r="0.45" fill="#eee"/><circle cx="349.89" cy="440.49" r="0.45" fill="#999"/><circle cx="347.31" cy="445.44" r="0.45" fill="#ddd"/><circle cx="351.62" cy="456.15" r="0.45" fill="#ddd"/><circle cx="354.37" cy="411.53" r="0.45" fill="#777"/><circle cx="341.21" cy="435.88" r="0.45" fill="#eee"/><circle cx="355.64" cy="423.17" r="0.45" fill="#777"/><circle cx="340.44" cy="451.12" r="0.45" fill="#777"/><circle cx="346.21" cy="433.93" r="0.45" fill="#777"/><circle cx="351.67" cy="448.97" r="0.45" fill="#999"/><circle cx="353.15" cy="403.43" r="0.45" fill="#eee"/><circle cx="351.77" cy="444.40" r="0.45" fill="#999"/></g>
<polygon points="355.41,438.00 355.33,440.15 355.18,442.00 354.96,443.72 354.70,445.35 354.39,446.94 354.03,448.47 353.59,449.93 353.06,451.26 352.42,452.38 351.67,453.23 350.84,453.77 349.96,453.99 349.03,453.94 348.00,453.70 347.01,453.35 346.17,452.95 345.38,452.51 344.62,452.03 343.87,451.44 343.16,450.68 342.50,449.73 341.93,448.55 341.45,447.16 341.07,445.61 340.79,443.92 340.60,442.12 340.47,440.21 340.41,438.00 340.42,435.78 340.52,433.83 340.73,432.03 341.05,430.37 341.50,428.91 342.04,427.64 342.65,426.58 343.30,425.67 343.97,424.87 344.65,424.13 345.37,423.40 346.13,422.72 346.98,422.13 348.00,421.70 349.06,421.54 350.00,421.68 350.86,422.15 351.64,422.92 352.32,423.93 352.92,425.10 353.45,426.37 353.92,427.72 354.34,429.13 354.72,430.63 355.03,432.23 355.25,433.96 355.38,435.84" fill="none" stroke="#999" stroke-width="0.45" clip-path="url(#cR2)"/>
<polygon points="354.40,440.00 354.32,441.86 354.13,443.48 353.86,444.95 353.54,446.30 353.17,447.54 352.78,448.70 352.36,449.78 351.89,450.77 351.37,451.64 350.79,452.35 350.16,452.88 349.49,453.23 348.78,453.42 348.00,453.48 347.21,453.44 346.50,453.31 345.80,453.09 345.13,452.73 344.48,452.19 343.88,451.42 343.36,450.42 342.94,449.20 342.63,447.83 342.42,446.35 342.30,444.82 342.22,443.28 342.18,441.71 342.15,440.00 342.14,438.27 342.17,436.69 342.25,435.14 342.42,433.65 342.68,432.25 343.04,430.98 343.48,429.86 343.99,428.90 344.56,428.09 345.15,427.40 345.79,426.82 346.46,426.37 347.19,426.08 348.00,425.98 348.81,426.10 349.53,426.45 350.18,427.03 350.76,427.77 351.29,428.63 351.77,429.55 352.23,430.50 352.68,431.48 353.12,432.54 353.54,433.70 353.90,435.01 354.19,436.49 354.36,438.13" fill="none" stroke="#999" stroke-width="0.45" clip-path="url(#cR2)"/>
<polygon points="352.65,442.00 352.62,443.40 352.55,444.70 352.46,445.97 352.33,447.23 352.15,448.45 351.90,449.61 351.57,450.65 351.17,451.52 350.70,452.18 350.19,452.63 349.65,452.89 349.11,453.00 348.57,453.02 348.00,452.99 347.44,452.94 346.90,452.83 346.38,452.65 345.87,452.34 345.38,451.86 344.93,451.22 344.53,450.40 344.19,449.44 343.90,448.38 343.66,447.24 343.46,446.04 343.30,444.78 343.20,443.45 343.15,442.00 343.17,440.54 343.28,439.20 343.47,437.96 343.73,436.84 344.04,435.84 344.38,434.94 344.74,434.11 345.11,433.33 345.49,432.55 345.90,431.81 346.35,431.12 346.84,430.55 347.39,430.16 348.00,429.99 348.62,430.07 349.18,430.38 349.69,430.88 350.16,431.51 350.59,432.23 350.99,433.02 351.36,433.86 351.70,434.78 352.00,435.77 352.26,436.86 352.45,438.04 352.58,439.29 352.64,440.60" fill="none" stroke="#999" stroke-width="0.45" clip-path="url(#cR2)"/>
<polygon points="351.33,444.00 351.30,445.07 351.24,446.10 351.15,447.10 351.02,448.05 350.84,448.95 350.62,449.76 350.37,450.49 350.09,451.13 349.79,451.70 349.47,452.21 349.14,452.67 348.78,453.07 348.41,453.39 348.00,453.58 347.58,453.61 347.18,453.44 346.81,453.08 346.47,452.54 346.17,451.88 345.91,451.14 345.68,450.37 345.46,449.58 345.26,448.78 345.06,447.95 344.89,447.06 344.74,446.12 344.63,445.10 344.58,444.00 344.59,442.89 344.65,441.83 344.77,440.82 344.92,439.86 345.10,438.95 345.31,438.10 345.56,437.30 345.83,436.58 346.14,435.97 346.48,435.50 346.85,435.18 347.23,435.03 347.61,435.00 348.00,435.08 348.38,435.22 348.74,435.39 349.10,435.59 349.46,435.83 349.82,436.15 350.17,436.59 350.49,437.17 350.77,437.91 351.00,438.78 351.16,439.75 351.27,440.79 351.32,441.85 351.34,442.91" fill="none" stroke="#999" stroke-width="0.45" clip-path="url(#cR2)"/>
<polygon points="350.01,446.00 349.97,446.78 349.92,447.53 349.85,448.27 349.77,448.99 349.67,449.68 349.55,450.32 349.40,450.90 349.23,451.40 349.05,451.83 348.85,452.18 348.65,452.47 348.44,452.72 348.22,452.92 348.00,453.07 347.77,453.13 347.54,453.09 347.31,452.91 347.09,452.59 346.90,452.13 346.73,451.57 346.59,450.93 346.47,450.26 346.37,449.58 346.28,448.90 346.19,448.21 346.12,447.50 346.05,446.77 346.01,446.00 346.00,445.21 346.02,444.42 346.08,443.65 346.17,442.91 346.28,442.23 346.42,441.59 346.57,441.00 346.74,440.46 346.92,439.97 347.11,439.57 347.33,439.26 347.55,439.07 347.77,439.01 348.00,439.07 348.22,439.22 348.43,439.44 348.63,439.70 348.83,439.98 349.03,440.28 349.23,440.62 349.42,441.03 349.60,441.53 349.76,442.13 349.88,442.83 349.97,443.59 350.02,444.39 350.03,445.20" fill="none" stroke="#999" stroke-width="0.45" clip-path="url(#cR2)"/>
<circle cx="360.23" cy="411.57" r="0.85" fill="#000"/>
<circle cx="362.95" cy="400.46" r="0.85" fill="#000"/>
<circle cx="382.92" cy="401.34" r="0.85" fill="#000"/>
<circle cx="374.95" cy="415.42" r="0.85" fill="#000"/>
<circle cx="364.36" cy="412.51" r="0.85" fill="#000"/>
<circle cx="384.57" cy="406.65" r="0.85" fill="#000"/>
<circle cx="364.70" cy="411.65" r="0.85" fill="#000"/>
<circle cx="373.54" cy="422.11" r="0.85" fill="#000"/>
<circle cx="376.30" cy="407.49" r="0.85" fill="#000"/>
<circle cx="364.97" cy="412.44" r="0.85" fill="#000"/>
<circle cx="367.27" cy="405.62" r="0.85" fill="#000"/>
<circle cx="383.02" cy="415.39" r="0.85" fill="#000"/>
<circle cx="367.95" cy="422.17" r="0.85" fill="#000"/>
<circle cx="380.82" cy="403.46" r="0.85" fill="#000"/>
<circle cx="384.28" cy="401.51" r="0.85" fill="#000"/>
<circle cx="377.54" cy="412.61" r="0.85" fill="#000"/>
<circle cx="367.22" cy="401.25" r="0.85" fill="#000"/>
<circle cx="386.84" cy="410.50" r="0.85" fill="#000"/>
<circle cx="366.97" cy="402.23" r="0.85" fill="#000"/>
<circle cx="367.15" cy="409.26" r="0.85" fill="#000"/>
<circle cx="367.79" cy="408.46" r="0.85" fill="#000"/>
<circle cx="373.32" cy="416.91" r="0.85" fill="#000"/>
<circle cx="357.46" cy="401.59" r="0.85" fill="#000"/>
<circle cx="375.88" cy="417.83" r="0.85" fill="#000"/>
<circle cx="368.21" cy="406.69" r="0.85" fill="#000"/>
<circle cx="384.05" cy="416.28" r="0.85" fill="#000"/>
<circle cx="364.42" cy="401.76" r="0.85" fill="#000"/>
<circle cx="368.43" cy="408.81" r="0.85" fill="#000"/>
<circle cx="362.82" cy="411.27" r="0.85" fill="#000"/>
<circle cx="367.25" cy="409.51" r="0.85" fill="#000"/>
<circle cx="380.77" cy="414.50" r="0.85" fill="#000"/>
<circle cx="368.04" cy="397.41" r="0.85" fill="#000"/>
<circle cx="379.11" cy="406.65" r="0.85" fill="#000"/>
<circle cx="366.45" cy="415.10" r="0.85" fill="#000"/>
<circle cx="360.10" cy="409.57" r="0.85" fill="#000"/>
<circle cx="374.32" cy="407.01" r="0.85" fill="#000"/>
<circle cx="359.85" cy="402.99" r="0.85" fill="#000"/>
<circle cx="371.98" cy="400.44" r="0.85" fill="#000"/>
<circle cx="378.36" cy="413.45" r="0.85" fill="#000"/>
<circle cx="360.58" cy="401.11" r="0.85" fill="#000"/>
<circle cx="373.43" cy="417.82" r="0.85" fill="#000"/>
<circle cx="370.24" cy="412.18" r="0.85" fill="#000"/>
<circle cx="379.34" cy="408.56" r="0.85" fill="#000"/>
<circle cx="373.27" cy="402.93" r="0.85" fill="#000"/>
<circle cx="385.93" cy="403.91" r="0.85" fill="#000"/>
<circle cx="364.07" cy="406.15" r="0.85" fill="#000"/>
<circle cx="382.50" cy="393.50" r="0.85" fill="#000"/>
<circle cx="368.64" cy="403.05" r="0.85" fill="#000"/>
<circle cx="380.14" cy="400.49" r="0.85" fill="#000"/>
<circle cx="385.33" cy="402.97" r="0.85" fill="#000"/>
<circle cx="361.81" cy="414.43" r="0.85" fill="#000"/>
<circle cx="371.88" cy="400.31" r="0.85" fill="#000"/>
<circle cx="382.32" cy="422.27" r="0.85" fill="#000"/>
<circle cx="363.41" cy="407.73" r="0.85" fill="#000"/>
<circle cx="365.52" cy="408.40" r="0.85" fill="#000"/>
<circle cx="375.64" cy="403.85" r="0.85" fill="#000"/>
<circle cx="372.34" cy="422.67" r="0.85" fill="#000"/>
<circle cx="365.08" cy="410.56" r="0.85" fill="#000"/>
<circle cx="379.52" cy="414.81" r="0.85" fill="#000"/>
<circle cx="363.35" cy="415.86" r="0.85" fill="#000"/>
<circle cx="368.10" cy="404.28" r="0.85" fill="#000"/>
<circle cx="374.60" cy="411.30" r="0.85" fill="#000"/>
<circle cx="375.14" cy="415.01" r="0.85" fill="#000"/>
<circle cx="370.20" cy="401.00" r="0.85" fill="#000"/>
<circle cx="358.71" cy="418.13" r="0.85" fill="#000"/>
<circle cx="388.64" cy="420.50" r="0.85" fill="#000"/>
<circle cx="376.04" cy="421.06" r="0.85" fill="#000"/>
<circle cx="366.30" cy="400.42" r="0.85" fill="#000"/>
<circle cx="370.15" cy="402.60" r="0.85" fill="#000"/>
<circle cx="373.47" cy="423.12" r="0.85" fill="#000"/>
<circle cx="374.72" cy="408.92" r="0.85" fill="#000"/>
<circle cx="390.94" cy="426.53" r="0.85" fill="#000"/>
<circle cx="375.99" cy="411.52" r="0.85" fill="#000"/>
<circle cx="364.95" cy="409.80" r="0.85" fill="#000"/>
<circle cx="369.46" cy="400.34" r="0.85" fill="#000"/>
<circle cx="373.12" cy="405.82" r="0.85" fill="#000"/>
<circle cx="372.95" cy="415.79" r="0.85" fill="#000"/>
<circle cx="367.92" cy="414.46" r="0.85" fill="#000"/>
<circle cx="376.57" cy="412.53" r="0.85" fill="#000"/>
<circle cx="391.57" cy="407.71" r="0.85" fill="#000"/>
<circle cx="376.48" cy="407.41" r="0.85" fill="#000"/>
<circle cx="394.55" cy="423.00" r="0.85" fill="#000"/>
<circle cx="384.83" cy="398.87" r="0.85" fill="#000"/>
<circle cx="388.15" cy="411.38" r="0.85" fill="#000"/>
<circle cx="374.61" cy="418.50" r="0.85" fill="#000"/>
<polygon points="382.00,408.00 382.21,408.64 382.28,409.31 382.18,409.98 381.89,410.60 381.45,411.14 380.90,411.58 380.30,411.94 379.69,412.24 379.09,412.51 378.50,412.77 377.91,413.00 377.30,413.20 376.66,413.34 376.00,413.39 375.34,413.34 374.70,413.20 374.09,413.00 373.50,412.77 372.91,412.51 372.31,412.24 371.70,411.94 371.10,411.58 370.55,411.14 370.11,410.60 369.82,409.98 369.72,409.31 369.79,408.64 370.00,408.00 370.28,407.41 370.58,406.87 370.85,406.35 371.08,405.83 371.29,405.29 371.52,404.73 371.82,404.17 372.21,403.64 372.71,403.20 373.30,402.85 373.95,402.62 374.63,402.48 375.31,402.41 376.00,402.39 376.69,402.41 377.37,402.48 378.05,402.62 378.70,402.85 379.29,403.20 379.79,403.64 380.18,404.17 380.48,404.73 380.71,405.29 380.92,405.83 381.15,406.35 381.42,406.87 381.72,407.41" fill="none" stroke="#aaa" stroke-width="0.45"/>
<polygon points="379.00,408.00 379.10,408.29 379.14,408.60 379.09,408.90 378.95,409.18 378.73,409.43 378.45,409.63 378.15,409.79 377.85,409.93 377.55,410.05 377.25,410.17 376.95,410.27 376.65,410.37 376.33,410.43 376.00,410.45 375.67,410.43 375.35,410.37 375.05,410.27 374.75,410.17 374.45,410.05 374.15,409.93 373.85,409.79 373.55,409.63 373.27,409.43 373.05,409.18 372.91,408.90 372.86,408.60 372.90,408.29 373.00,408.00 373.14,407.73 373.29,407.48 373.42,407.25 373.54,407.01 373.64,406.77 373.76,406.51 373.91,406.26 374.11,406.02 374.35,405.82 374.65,405.66 374.97,405.55 375.31,405.49 375.66,405.46 376.00,405.45 376.34,405.46 376.69,405.49 377.03,405.55 377.35,405.66 377.65,405.82 377.89,406.02 378.09,406.26 378.24,406.51 378.36,406.77 378.46,407.01 378.58,407.25 378.71,407.48 378.86,407.73" fill="none" stroke="#bbb" stroke-width="0.45"/>
<line x1="323.45" y1="378.75" x2="326.25" y2="378.75" stroke="#000" stroke-width="0.9" />
<line x1="323.45" y1="398.75" x2="326.25" y2="398.75" stroke="#000" stroke-width="0.9" />
<line x1="323.45" y1="421.25" x2="326.25" y2="421.25" stroke="#000" stroke-width="0.9" />
<line x1="323.45" y1="434.50" x2="326.25" y2="434.50" stroke="#000" stroke-width="0.9" />
<line x1="323.45" y1="448.75" x2="326.25" y2="448.75" stroke="#000" stroke-width="0.9" />
<line x1="324.65" y1="392.73" x2="326.25" y2="392.73" stroke="#000" stroke-width="0.5" />
<line x1="324.65" y1="389.21" x2="326.25" y2="389.21" stroke="#000" stroke-width="0.5" />
<line x1="324.65" y1="386.71" x2="326.25" y2="386.71" stroke="#000" stroke-width="0.5" />
<line x1="324.65" y1="384.77" x2="326.25" y2="384.77" stroke="#000" stroke-width="0.5" />
<line x1="324.65" y1="383.19" x2="326.25" y2="383.19" stroke="#000" stroke-width="0.5" />
<line x1="324.65" y1="381.85" x2="326.25" y2="381.85" stroke="#000" stroke-width="0.5" />
<line x1="324.65" y1="380.69" x2="326.25" y2="380.69" stroke="#000" stroke-width="0.5" />
<line x1="324.65" y1="379.67" x2="326.25" y2="379.67" stroke="#000" stroke-width="0.5" />
<line x1="324.65" y1="414.48" x2="326.25" y2="414.48" stroke="#000" stroke-width="0.5" />
<line x1="324.65" y1="410.51" x2="326.25" y2="410.51" stroke="#000" stroke-width="0.5" />
<line x1="324.65" y1="407.70" x2="326.25" y2="407.70" stroke="#000" stroke-width="0.5" />
<line x1="324.65" y1="405.52" x2="326.25" y2="405.52" stroke="#000" stroke-width="0.5" />
<line x1="324.65" y1="403.74" x2="326.25" y2="403.74" stroke="#000" stroke-width="0.5" />
<line x1="324.65" y1="402.24" x2="326.25" y2="402.24" stroke="#000" stroke-width="0.5" />
<line x1="324.65" y1="400.93" x2="326.25" y2="400.93" stroke="#000" stroke-width="0.5" />
<line x1="324.65" y1="399.78" x2="326.25" y2="399.78" stroke="#000" stroke-width="0.5" />
<line x1="324.65" y1="425.83" x2="326.25" y2="425.83" stroke="#000" stroke-width="0.5" />
<line x1="324.65" y1="430.42" x2="326.25" y2="430.42" stroke="#000" stroke-width="0.5" />
<line x1="324.65" y1="435.00" x2="326.25" y2="435.00" stroke="#000" stroke-width="0.5" />
<line x1="324.65" y1="439.58" x2="326.25" y2="439.58" stroke="#000" stroke-width="0.5" />
<line x1="324.65" y1="444.17" x2="326.25" y2="444.17" stroke="#000" stroke-width="0.5" />
<line x1="333.25" y1="457.00" x2="333.25" y2="459.80" stroke="#000" stroke-width="0.9" />
<line x1="349.75" y1="457.00" x2="349.75" y2="459.80" stroke="#000" stroke-width="0.9" />
<line x1="361.75" y1="457.00" x2="361.75" y2="459.80" stroke="#000" stroke-width="0.9" />
<line x1="385.25" y1="457.00" x2="385.25" y2="459.80" stroke="#000" stroke-width="0.9" />
<line x1="408.25" y1="457.00" x2="408.25" y2="459.80" stroke="#000" stroke-width="0.9" />
<line x1="368.82" y1="457.00" x2="368.82" y2="458.50" stroke="#000" stroke-width="0.5" />
<line x1="372.96" y1="457.00" x2="372.96" y2="458.50" stroke="#000" stroke-width="0.5" />
<line x1="375.90" y1="457.00" x2="375.90" y2="458.50" stroke="#000" stroke-width="0.5" />
<line x1="378.18" y1="457.00" x2="378.18" y2="458.50" stroke="#000" stroke-width="0.5" />
<line x1="380.04" y1="457.00" x2="380.04" y2="458.50" stroke="#000" stroke-width="0.5" />
<line x1="381.61" y1="457.00" x2="381.61" y2="458.50" stroke="#000" stroke-width="0.5" />
<line x1="382.97" y1="457.00" x2="382.97" y2="458.50" stroke="#000" stroke-width="0.5" />
<line x1="384.17" y1="457.00" x2="384.17" y2="458.50" stroke="#000" stroke-width="0.5" />
<line x1="392.17" y1="457.00" x2="392.17" y2="458.50" stroke="#000" stroke-width="0.5" />
<line x1="396.22" y1="457.00" x2="396.22" y2="458.50" stroke="#000" stroke-width="0.5" />
<line x1="399.10" y1="457.00" x2="399.10" y2="458.50" stroke="#000" stroke-width="0.5" />
<line x1="401.33" y1="457.00" x2="401.33" y2="458.50" stroke="#000" stroke-width="0.5" />
<line x1="403.15" y1="457.00" x2="403.15" y2="458.50" stroke="#000" stroke-width="0.5" />
<line x1="404.69" y1="457.00" x2="404.69" y2="458.50" stroke="#000" stroke-width="0.5" />
<line x1="406.02" y1="457.00" x2="406.02" y2="458.50" stroke="#000" stroke-width="0.5" />
<line x1="407.20" y1="457.00" x2="407.20" y2="458.50" stroke="#000" stroke-width="0.5" />
<line x1="336.81" y1="457.00" x2="336.81" y2="458.50" stroke="#000" stroke-width="0.5" />
<line x1="340.38" y1="457.00" x2="340.38" y2="458.50" stroke="#000" stroke-width="0.5" />
<line x1="343.94" y1="457.00" x2="343.94" y2="458.50" stroke="#000" stroke-width="0.5" />
<line x1="347.50" y1="457.00" x2="347.50" y2="458.50" stroke="#000" stroke-width="0.5" />
<line x1="351.06" y1="457.00" x2="351.06" y2="458.50" stroke="#000" stroke-width="0.5" />
<line x1="354.62" y1="457.00" x2="354.62" y2="458.50" stroke="#000" stroke-width="0.5" />
<line x1="358.19" y1="457.00" x2="358.19" y2="458.50" stroke="#000" stroke-width="0.5" />
<rect x="326.25" y="371.25" width="91.25" height="85.75" fill="none" stroke="#000" stroke-width="1.0" />
<line x1="326.25" y1="370.75" x2="326.25" y2="457.60" stroke="#000" stroke-width="1.5" />
<line x1="325.65" y1="457.00" x2="418.00" y2="457.00" stroke="#000" stroke-width="1.5" />
<text x="310.29" y="381.25" font-size="6.8" fill="#111">10<tspan font-size="5.17" dy="-2.86">5</tspan></text>
<text x="310.29" y="401.25" font-size="6.8" fill="#111">10<tspan font-size="5.17" dy="-2.86">4</tspan></text>
<text x="310.29" y="423.75" font-size="6.8" fill="#111">10<tspan font-size="5.17" dy="-2.86">3</tspan></text>
<text x="319.75" y="437.0" font-size="6.8" text-anchor="end" font-weight="normal" fill="#111" >0</text>
<text x="306.32" y="451.25" font-size="6.8" fill="#111">−10<tspan font-size="5.03" dy="-2.86">3</tspan></text>
<rect x="334.60" y="424.60" width="24.60" height="32.40" fill="none" stroke="#777" stroke-width="0.9" />
<line x1="336.40" y1="425.00" x2="336.40" y2="457.00" stroke="#bbb" stroke-width="0.6" />
<text x="360.5" y="450.5" font-size="8.9" text-anchor="start" font-weight="bold" fill="#222" textLength="18.2" lengthAdjust="spacingAndGlyphs" >17.9</text>
<text x="325.8" y="468.0" font-size="6.8" fill="#111">−10<tspan font-size="5.03" dy="-2.86">3</tspan></text>
<text x="346.9" y="468.0" font-size="6.8" text-anchor="start" font-weight="normal" fill="#111" >0</text>
<text x="357.50" y="468.00" font-size="6.8" fill="#111">10<tspan font-size="5.17" dy="-2.86">3</tspan></text>
<text x="383.00" y="468.00" font-size="6.8" fill="#111">10<tspan font-size="5.17" dy="-2.86">4</tspan></text>
<text x="404.60" y="468.00" font-size="6.8" fill="#111">10<tspan font-size="5.17" dy="-2.86">5</tspan></text>
<text x="358.1" y="481.5" font-size="9.2" text-anchor="start" font-weight="normal" fill="#111" textLength="28.6" lengthAdjust="spacingAndGlyphs" >CD62L</text>
<rect x="467.10" y="357.30" width="13.90" height="77.10" fill="#df8495" stroke="none" stroke-width="1" />
<rect x="492.70" y="377.10" width="13.80" height="57.30" fill="#85a6c2" stroke="none" stroke-width="1" />
<line x1="474.00" y1="357.30" x2="474.00" y2="353.00" stroke="#222" stroke-width="1.1" />
<line x1="470.35" y1="353.00" x2="477.65" y2="353.00" stroke="#222" stroke-width="1.1" />
<line x1="499.40" y1="377.10" x2="499.40" y2="370.80" stroke="#222" stroke-width="1.1" />
<line x1="495.90" y1="370.80" x2="502.90" y2="370.80" stroke="#222" stroke-width="1.1" />
<rect x="471.50" y="341.20" width="4.6" height="4.6" fill="#c8143f"/>
<rect x="467.30" y="343.90" width="4.6" height="4.6" fill="#c8143f"/>
<rect x="476.00" y="345.40" width="4.6" height="4.6" fill="#c8143f"/>
<rect x="471.50" y="349.20" width="4.6" height="4.6" fill="#c8143f"/>
<rect x="471.50" y="361.70" width="4.6" height="4.6" fill="#c8143f"/>
<rect x="473.50" y="371.90" width="4.6" height="4.6" fill="#c8143f"/>
<rect x="468.70" y="374.20" width="4.6" height="4.6" fill="#c8143f"/>
<polygon points="499.40,354.87 501.80,359.29 497.00,359.29" fill="#154c88"/>
<polygon points="499.40,365.07 501.80,369.49 497.00,369.49" fill="#154c88"/>
<polygon points="495.00,368.87 497.40,373.29 492.60,373.29" fill="#154c88"/>
<polygon points="504.00,368.87 506.40,373.29 501.60,373.29" fill="#154c88"/>
<polygon points="499.40,376.37 501.80,380.79 497.00,380.79" fill="#154c88"/>
<polygon points="497.00,397.57 499.40,401.99 494.60,401.99" fill="#154c88"/>
<polygon points="501.70,396.97 504.10,401.39 499.30,401.39" fill="#154c88"/>
<circle cx="500.3" cy="341.5" r="0.9" fill="#111"/>
<line x1="451.80" y1="307.30" x2="454.60" y2="307.30" stroke="#222" stroke-width="0.9" />
<text x="449.2" y="310.108" font-size="7.8" text-anchor="end" font-weight="normal" fill="#222" >40</text>
<line x1="451.80" y1="339.00" x2="454.60" y2="339.00" stroke="#222" stroke-width="0.9" />
<text x="449.2" y="341.808" font-size="7.8" text-anchor="end" font-weight="normal" fill="#222" >30</text>
<line x1="451.80" y1="370.80" x2="454.60" y2="370.80" stroke="#222" stroke-width="0.9" />
<text x="449.2" y="373.608" font-size="7.8" text-anchor="end" font-weight="normal" fill="#222" >20</text>
<line x1="451.80" y1="402.60" x2="454.60" y2="402.60" stroke="#222" stroke-width="0.9" />
<text x="449.2" y="405.408" font-size="7.8" text-anchor="end" font-weight="normal" fill="#222" >10</text>
<line x1="451.80" y1="434.40" x2="454.60" y2="434.40" stroke="#222" stroke-width="0.9" />
<text x="449.2" y="437.20799999999997" font-size="7.8" text-anchor="end" font-weight="normal" fill="#222" >0</text>
<line x1="473.80" y1="434.40" x2="473.80" y2="437.20" stroke="#222" stroke-width="0.9" />
<line x1="499.20" y1="434.40" x2="499.20" y2="437.20" stroke="#222" stroke-width="0.9" />
<line x1="454.60" y1="298.70" x2="454.60" y2="434.90" stroke="#222" stroke-width="1.2" />
<line x1="454.10" y1="434.40" x2="512.30" y2="434.40" stroke="#222" stroke-width="1.2" />
<text transform="translate(433.60,397.20) rotate(-90)" x="0" y="0" font-size="8.8" font-weight="bold" fill="#111" textLength="56.70" lengthAdjust="spacingAndGlyphs">% CD62L<tspan font-size="5.2" dy="-2.8">lo</tspan><tspan dy="2.8"> PSGL-1</tspan><tspan font-size="5.2" dy="-2.8">lo</tspan></text>
<path d="M42.4,610.0 L42.4,504.4 L44.1,576.7 L47.9,536.2 L51.2,558.1 L53.8,563.6 L55.5,562 L56.6,568 L58.8,565.8 L62.1,550 L64.3,558.1 L68.7,572.4 L70.9,545 L72.6,553.7 L75.3,539.5 L78.1,514.9 L79.7,528.5 L81.9,511.4 L84,530.7 L85.8,524.1 L87.3,528.5 L89.5,509.9 L90.6,509.9 L92.8,524.1 L93.9,541.7 L97.2,537.7 L99.4,550.4 L101.6,563.6 L103.3,592.1 L106,594.3 L108.2,603 L111.4,608.5 L113.6,610 L113.6,610.0 Z" fill="#de7b8d" fill-opacity="0.9"/>
<path d="M42.4,610.0 L42.4,539.5 L44.1,600.9 L47.9,603 L50.5,604 L52.9,596.5 L55.1,605.2 L58.8,600.9 L62.1,596.5 L64.3,594.3 L66.9,587.7 L70.4,596.5 L72,587.7 L75.3,586.6 L78.6,580 L80.8,563.6 L83,541.7 L84.5,559.2 L87.3,538.4 L88.9,526.3 L91.3,509.9 L92.8,524.1 L93.9,541.7 L97.2,537.7 L99.4,550.4 L101.6,563.6 L103.3,592.1 L106,594.3 L108.2,603 L111.4,608.5 L113.6,610 L113.6,610.0 Z" fill="#7299bb" fill-opacity="0.97"/>
<path d="M42.4,504.4 L44.1,576.7 L47.9,536.2 L51.2,558.1 L53.8,563.6 L55.5,562 L56.6,568 L58.8,565.8 L62.1,550 L64.3,558.1 L68.7,572.4 L70.9,545 L72.6,553.7 L75.3,539.5 L78.1,514.9 L79.7,528.5 L81.9,511.4 L84,530.7 L85.8,524.1 L87.3,528.5 L89.5,509.9 L90.6,509.9 L92.8,524.1 L93.9,541.7 L97.2,537.7 L99.4,550.4 L101.6,563.6 L103.3,592.1 L106,594.3 L108.2,603 L111.4,608.5 L113.6,610" fill="none" stroke="#c8143f" stroke-width="0.9" stroke-linejoin="round"/>
<path d="M42.4,539.5 L44.1,600.9 L47.9,603 L50.5,604 L52.9,596.5 L55.1,605.2 L58.8,600.9 L62.1,596.5 L64.3,594.3 L66.9,587.7 L70.4,596.5 L72,587.7 L75.3,586.6 L78.6,580 L80.8,563.6 L83,541.7 L84.5,559.2 L87.3,538.4 L88.9,526.3 L91.3,509.9 L92.8,524.1 L93.9,541.7 L97.2,537.7 L99.4,550.4 L101.6,563.6 L103.3,592.1 L106,594.3 L108.2,603 L111.4,608.5 L113.6,610" fill="none" stroke="#1f5a93" stroke-width="0.9" stroke-linejoin="round"/>
<line x1="39.20" y1="610.60" x2="42.00" y2="610.60" stroke="#000" stroke-width="0.9" />
<line x1="40.40" y1="605.49" x2="42.00" y2="605.49" stroke="#000" stroke-width="0.5" />
<line x1="40.40" y1="600.38" x2="42.00" y2="600.38" stroke="#000" stroke-width="0.5" />
<line x1="40.40" y1="595.27" x2="42.00" y2="595.27" stroke="#000" stroke-width="0.5" />
<line x1="39.20" y1="590.15" x2="42.00" y2="590.15" stroke="#000" stroke-width="0.9" />
<line x1="40.40" y1="585.04" x2="42.00" y2="585.04" stroke="#000" stroke-width="0.5" />
<line x1="40.40" y1="579.93" x2="42.00" y2="579.93" stroke="#000" stroke-width="0.5" />
<line x1="40.40" y1="574.82" x2="42.00" y2="574.82" stroke="#000" stroke-width="0.5" />
<line x1="39.20" y1="569.70" x2="42.00" y2="569.70" stroke="#000" stroke-width="0.9" />
<line x1="40.40" y1="564.59" x2="42.00" y2="564.59" stroke="#000" stroke-width="0.5" />
<line x1="40.40" y1="559.48" x2="42.00" y2="559.48" stroke="#000" stroke-width="0.5" />
<line x1="40.40" y1="554.37" x2="42.00" y2="554.37" stroke="#000" stroke-width="0.5" />
<line x1="39.20" y1="549.25" x2="42.00" y2="549.25" stroke="#000" stroke-width="0.9" />
<line x1="40.40" y1="544.14" x2="42.00" y2="544.14" stroke="#000" stroke-width="0.5" />
<line x1="40.40" y1="539.03" x2="42.00" y2="539.03" stroke="#000" stroke-width="0.5" />
<line x1="40.40" y1="533.92" x2="42.00" y2="533.92" stroke="#000" stroke-width="0.5" />
<line x1="39.20" y1="528.80" x2="42.00" y2="528.80" stroke="#000" stroke-width="0.9" />
<line x1="40.40" y1="523.69" x2="42.00" y2="523.69" stroke="#000" stroke-width="0.5" />
<line x1="40.40" y1="518.58" x2="42.00" y2="518.58" stroke="#000" stroke-width="0.5" />
<line x1="40.40" y1="513.47" x2="42.00" y2="513.47" stroke="#000" stroke-width="0.5" />
<line x1="39.20" y1="508.35" x2="42.00" y2="508.35" stroke="#000" stroke-width="0.9" />
<line x1="53.00" y1="610.40" x2="53.00" y2="613.20" stroke="#000" stroke-width="0.9" />
<line x1="59.50" y1="610.40" x2="59.50" y2="613.20" stroke="#000" stroke-width="0.9" />
<line x1="85.50" y1="610.40" x2="85.50" y2="613.20" stroke="#000" stroke-width="0.9" />
<line x1="111.00" y1="610.40" x2="111.00" y2="613.20" stroke="#000" stroke-width="0.9" />
<line x1="134.00" y1="610.40" x2="134.00" y2="613.20" stroke="#000" stroke-width="0.9" />
<line x1="67.33" y1="610.40" x2="67.33" y2="611.90" stroke="#000" stroke-width="0.5" />
<line x1="71.91" y1="610.40" x2="71.91" y2="611.90" stroke="#000" stroke-width="0.5" />
<line x1="75.15" y1="610.40" x2="75.15" y2="611.90" stroke="#000" stroke-width="0.5" />
<line x1="77.67" y1="610.40" x2="77.67" y2="611.90" stroke="#000" stroke-width="0.5" />
<line x1="79.73" y1="610.40" x2="79.73" y2="611.90" stroke="#000" stroke-width="0.5" />
<line x1="81.47" y1="610.40" x2="81.47" y2="611.90" stroke="#000" stroke-width="0.5" />
<line x1="82.98" y1="610.40" x2="82.98" y2="611.90" stroke="#000" stroke-width="0.5" />
<line x1="84.31" y1="610.40" x2="84.31" y2="611.90" stroke="#000" stroke-width="0.5" />
<line x1="93.18" y1="610.40" x2="93.18" y2="611.90" stroke="#000" stroke-width="0.5" />
<line x1="97.67" y1="610.40" x2="97.67" y2="611.90" stroke="#000" stroke-width="0.5" />
<line x1="100.85" y1="610.40" x2="100.85" y2="611.90" stroke="#000" stroke-width="0.5" />
<line x1="103.32" y1="610.40" x2="103.32" y2="611.90" stroke="#000" stroke-width="0.5" />
<line x1="105.34" y1="610.40" x2="105.34" y2="611.90" stroke="#000" stroke-width="0.5" />
<line x1="107.05" y1="610.40" x2="107.05" y2="611.90" stroke="#000" stroke-width="0.5" />
<line x1="108.53" y1="610.40" x2="108.53" y2="611.90" stroke="#000" stroke-width="0.5" />
<line x1="109.83" y1="610.40" x2="109.83" y2="611.90" stroke="#000" stroke-width="0.5" />
<line x1="117.92" y1="610.40" x2="117.92" y2="611.90" stroke="#000" stroke-width="0.5" />
<line x1="121.97" y1="610.40" x2="121.97" y2="611.90" stroke="#000" stroke-width="0.5" />
<line x1="124.85" y1="610.40" x2="124.85" y2="611.90" stroke="#000" stroke-width="0.5" />
<line x1="127.08" y1="610.40" x2="127.08" y2="611.90" stroke="#000" stroke-width="0.5" />
<line x1="128.90" y1="610.40" x2="128.90" y2="611.90" stroke="#000" stroke-width="0.5" />
<line x1="130.44" y1="610.40" x2="130.44" y2="611.90" stroke="#000" stroke-width="0.5" />
<line x1="131.77" y1="610.40" x2="131.77" y2="611.90" stroke="#000" stroke-width="0.5" />
<line x1="132.95" y1="610.40" x2="132.95" y2="611.90" stroke="#000" stroke-width="0.5" />
<line x1="44.00" y1="610.40" x2="44.00" y2="611.90" stroke="#000" stroke-width="0.5" />
<line x1="46.00" y1="610.40" x2="46.00" y2="611.90" stroke="#000" stroke-width="0.5" />
<line x1="48.00" y1="610.40" x2="48.00" y2="611.90" stroke="#000" stroke-width="0.5" />
<line x1="50.00" y1="610.40" x2="50.00" y2="611.90" stroke="#000" stroke-width="0.5" />
<rect x="42.00" y="503.30" width="107.20" height="107.10" fill="none" stroke="#000" stroke-width="1.3" />
<text x="37.4" y="613.3000000000001" font-size="7.5" text-anchor="end" font-weight="normal" fill="#111" >0</text>
<text x="37.4" y="592.85" font-size="7.5" text-anchor="end" font-weight="normal" fill="#111" >20</text>
<text x="37.4" y="572.4000000000001" font-size="7.5" text-anchor="end" font-weight="normal" fill="#111" >40</text>
<text x="37.4" y="551.95" font-size="7.5" text-anchor="end" font-weight="normal" fill="#111" >60</text>
<text x="37.4" y="531.5000000000001" font-size="7.5" text-anchor="end" font-weight="normal" fill="#111" >80</text>
<text x="37.4" y="511.05" font-size="7.5" text-anchor="end" font-weight="normal" fill="#111" >100</text>
<text x="51.0" y="623.0" font-size="6.8" text-anchor="start" font-weight="normal" fill="#111" >0</text>
<text x="57.30" y="623.00" font-size="6.8" fill="#111">10<tspan font-size="5.17" dy="-2.86">2</tspan></text>
<text x="84.00" y="623.00" font-size="6.8" fill="#111">10<tspan font-size="5.17" dy="-2.86">3</tspan></text>
<text x="109.40" y="623.00" font-size="6.8" fill="#111">10<tspan font-size="5.17" dy="-2.86">4</tspan></text>
<text x="132.40" y="623.00" font-size="6.8" fill="#111">10<tspan font-size="5.17" dy="-2.86">5</tspan></text>
<text x="88.7" y="635.3" font-size="7.8" text-anchor="start" font-weight="bold" fill="#111" textLength="12.6" lengthAdjust="spacingAndGlyphs" >Nrp1</text>
<text transform="translate(20.00,569.60) rotate(-90)" x="0" y="0" font-size="9.0" font-weight="bold" fill="#111" textLength="20.60" lengthAdjust="spacingAndGlyphs"># Cells</text>
<path d="M172,610 L172,610 L179.1,609.6 L183.5,608.5 L187.4,606.3 L191.2,605.2 L194,592.1 L195.6,581.1 L197.8,559.2 L200,535.1 L201,541.7 L202.1,547.1 L203.7,515.3 L205.4,521.9 L206.7,516.4 L208.5,509.9 L209.4,521.9 L208.7,554.8 L206.5,583.3 L204.3,589.9 L203.2,589.9 L201,592.1 L198.8,600.9 L196.7,609.6 Z" fill="#de7b8d" fill-opacity="0.9"/>
<path d="M196.7,610.0 L196.7,609.6 L198.8,600.9 L201,592.1 L203.2,589.9 L206.5,581.1 L208.7,565.8 L210.9,530.7 L213.1,509.9 L215.3,524.1 L217.5,543.8 L219.7,575.6 L221.9,582.2 L224.1,598.7 L226.3,606.3 L229.5,610 L229.5,610.0 Z" fill="#7299bb" fill-opacity="0.97"/>
<path d="M172,610 L179.1,609.6 L183.5,608.5 L187.4,606.3 L191.2,605.2 L194,592.1 L195.6,581.1 L197.8,559.2 L200,535.1 L201,541.7 L202.1,547.1 L203.7,515.3 L205.4,521.9 L206.7,516.4 L208.5,509.9 L209.4,521.9 L208.7,554.8" fill="none" stroke="#c8143f" stroke-width="0.9" stroke-linejoin="round"/>
<path d="M196.7,609.6 L198.8,600.9 L201,592.1 L203.2,589.9 L206.5,581.1 L208.7,565.8 L210.9,530.7 L213.1,509.9 L215.3,524.1 L217.5,543.8 L219.7,575.6 L221.9,582.2 L224.1,598.7 L226.3,606.3 L229.5,610" fill="none" stroke="#1f5a93" stroke-width="0.9" stroke-linejoin="round"/>
<line x1="154.80" y1="610.60" x2="157.60" y2="610.60" stroke="#000" stroke-width="0.9" />
<line x1="156.00" y1="605.49" x2="157.60" y2="605.49" stroke="#000" stroke-width="0.5" />
<line x1="156.00" y1="600.38" x2="157.60" y2="600.38" stroke="#000" stroke-width="0.5" />
<line x1="156.00" y1="595.27" x2="157.60" y2="595.27" stroke="#000" stroke-width="0.5" />
<line x1="154.80" y1="590.15" x2="157.60" y2="590.15" stroke="#000" stroke-width="0.9" />
<line x1="156.00" y1="585.04" x2="157.60" y2="585.04" stroke="#000" stroke-width="0.5" />
<line x1="156.00" y1="579.93" x2="157.60" y2="579.93" stroke="#000" stroke-width="0.5" />
<line x1="156.00" y1="574.82" x2="157.60" y2="574.82" stroke="#000" stroke-width="0.5" />
<line x1="154.80" y1="569.70" x2="157.60" y2="569.70" stroke="#000" stroke-width="0.9" />
<line x1="156.00" y1="564.59" x2="157.60" y2="564.59" stroke="#000" stroke-width="0.5" />
<line x1="156.00" y1="559.48" x2="157.60" y2="559.48" stroke="#000" stroke-width="0.5" />
<line x1="156.00" y1="554.37" x2="157.60" y2="554.37" stroke="#000" stroke-width="0.5" />
<line x1="154.80" y1="549.25" x2="157.60" y2="549.25" stroke="#000" stroke-width="0.9" />
<line x1="156.00" y1="544.14" x2="157.60" y2="544.14" stroke="#000" stroke-width="0.5" />
<line x1="156.00" y1="539.03" x2="157.60" y2="539.03" stroke="#000" stroke-width="0.5" />
<line x1="156.00" y1="533.92" x2="157.60" y2="533.92" stroke="#000" stroke-width="0.5" />
<line x1="154.80" y1="528.80" x2="157.60" y2="528.80" stroke="#000" stroke-width="0.9" />
<line x1="156.00" y1="523.69" x2="157.60" y2="523.69" stroke="#000" stroke-width="0.5" />
<line x1="156.00" y1="518.58" x2="157.60" y2="518.58" stroke="#000" stroke-width="0.5" />
<line x1="156.00" y1="513.47" x2="157.60" y2="513.47" stroke="#000" stroke-width="0.5" />
<line x1="154.80" y1="508.35" x2="157.60" y2="508.35" stroke="#000" stroke-width="0.9" />
<line x1="168.60" y1="610.40" x2="168.60" y2="613.20" stroke="#000" stroke-width="0.9" />
<line x1="175.10" y1="610.40" x2="175.10" y2="613.20" stroke="#000" stroke-width="0.9" />
<line x1="201.10" y1="610.40" x2="201.10" y2="613.20" stroke="#000" stroke-width="0.9" />
<line x1="226.60" y1="610.40" x2="226.60" y2="613.20" stroke="#000" stroke-width="0.9" />
<line x1="249.60" y1="610.40" x2="249.60" y2="613.20" stroke="#000" stroke-width="0.9" />
<line x1="182.93" y1="610.40" x2="182.93" y2="611.90" stroke="#000" stroke-width="0.5" />
<line x1="187.51" y1="610.40" x2="187.51" y2="611.90" stroke="#000" stroke-width="0.5" />
<line x1="190.75" y1="610.40" x2="190.75" y2="611.90" stroke="#000" stroke-width="0.5" />
<line x1="193.27" y1="610.40" x2="193.27" y2="611.90" stroke="#000" stroke-width="0.5" />
<line x1="195.33" y1="610.40" x2="195.33" y2="611.90" stroke="#000" stroke-width="0.5" />
<line x1="197.07" y1="610.40" x2="197.07" y2="611.90" stroke="#000" stroke-width="0.5" />
<line x1="198.58" y1="610.40" x2="198.58" y2="611.90" stroke="#000" stroke-width="0.5" />
<line x1="199.91" y1="610.40" x2="199.91" y2="611.90" stroke="#000" stroke-width="0.5" />
<line x1="208.78" y1="610.40" x2="208.78" y2="611.90" stroke="#000" stroke-width="0.5" />
<line x1="213.27" y1="610.40" x2="213.27" y2="611.90" stroke="#000" stroke-width="0.5" />
<line x1="216.45" y1="610.40" x2="216.45" y2="611.90" stroke="#000" stroke-width="0.5" />
<line x1="218.92" y1="610.40" x2="218.92" y2="611.90" stroke="#000" stroke-width="0.5" />
<line x1="220.94" y1="610.40" x2="220.94" y2="611.90" stroke="#000" stroke-width="0.5" />
<line x1="222.65" y1="610.40" x2="222.65" y2="611.90" stroke="#000" stroke-width="0.5" />
<line x1="224.13" y1="610.40" x2="224.13" y2="611.90" stroke="#000" stroke-width="0.5" />
<line x1="225.43" y1="610.40" x2="225.43" y2="611.90" stroke="#000" stroke-width="0.5" />
<line x1="233.52" y1="610.40" x2="233.52" y2="611.90" stroke="#000" stroke-width="0.5" />
<line x1="237.57" y1="610.40" x2="237.57" y2="611.90" stroke="#000" stroke-width="0.5" />
<line x1="240.45" y1="610.40" x2="240.45" y2="611.90" stroke="#000" stroke-width="0.5" />
<line x1="242.68" y1="610.40" x2="242.68" y2="611.90" stroke="#000" stroke-width="0.5" />
<line x1="244.50" y1="610.40" x2="244.50" y2="611.90" stroke="#000" stroke-width="0.5" />
<line x1="246.04" y1="610.40" x2="246.04" y2="611.90" stroke="#000" stroke-width="0.5" />
<line x1="247.37" y1="610.40" x2="247.37" y2="611.90" stroke="#000" stroke-width="0.5" />
<line x1="248.55" y1="610.40" x2="248.55" y2="611.90" stroke="#000" stroke-width="0.5" />
<line x1="159.60" y1="610.40" x2="159.60" y2="611.90" stroke="#000" stroke-width="0.5" />
<line x1="161.60" y1="610.40" x2="161.60" y2="611.90" stroke="#000" stroke-width="0.5" />
<line x1="163.60" y1="610.40" x2="163.60" y2="611.90" stroke="#000" stroke-width="0.5" />
<line x1="165.60" y1="610.40" x2="165.60" y2="611.90" stroke="#000" stroke-width="0.5" />
<rect x="157.60" y="503.30" width="107.70" height="107.10" fill="none" stroke="#000" stroke-width="1.3" />
<text x="166.6" y="623.0" font-size="6.8" text-anchor="start" font-weight="normal" fill="#111" >0</text>
<text x="172.90" y="623.00" font-size="6.8" fill="#111">10<tspan font-size="5.17" dy="-2.86">2</tspan></text>
<text x="199.60" y="623.00" font-size="6.8" fill="#111">10<tspan font-size="5.17" dy="-2.86">3</tspan></text>
<text x="225.00" y="623.00" font-size="6.8" fill="#111">10<tspan font-size="5.17" dy="-2.86">4</tspan></text>
<text x="248.00" y="623.00" font-size="6.8" fill="#111">10<tspan font-size="5.17" dy="-2.86">5</tspan></text>
<text x="202.7" y="635.3" font-size="7.8" text-anchor="start" font-weight="bold" fill="#111" textLength="16.5" lengthAdjust="spacingAndGlyphs" >PD-L1</text>
<path d="M275,610.0 L275,610 L277.6,605.2 L280.9,596.5 L283.1,594.3 L284.6,596.5 L286.8,588.1 L288.5,593.2 L290.7,597.6 L292.9,591.6 L295.1,587.7 L298.4,580 L301.7,570.2 L305,563.6 L307.8,554.8 L309.4,532.9 L311.6,509.9 L313.8,520.8 L316,527.4 L318.1,513.2 L319.7,530.7 L321,550.4 L323.6,559.2 L325.4,568 L326.9,581.1 L326.9,610.0 Z" fill="#de7b8d" fill-opacity="0.9"/>
<path d="M274.3,610.0 L274.3,513.2 L276.5,605.2 L278.7,604.8 L282,603 L284.6,600.4 L287.4,605.2 L289.6,608.5 L292.9,604.8 L296.2,602.6 L299.5,597.6 L302.8,594.3 L305,596.5 L308.3,588.8 L311.6,599.8 L314.8,586.6 L318.1,590.3 L321.4,578.9 L324.7,575.6 L326.9,581.1 L329.1,575.6 L330.6,571.3 L332.4,559.2 L334.6,569.1 L337.2,524.1 L340.1,565.8 L342.9,518.6 L344.4,528.5 L346.6,509.9 L347.7,541.7 L349.3,578.9 L351,574.5 L352.6,587.7 L355.4,610 L355.4,610.0 Z" fill="#7299bb" fill-opacity="0.97"/>
<path d="M275,610 L277.6,605.2 L280.9,596.5 L283.1,594.3 L284.6,596.5 L286.8,588.1 L288.5,593.2 L290.7,597.6 L292.9,591.6 L295.1,587.7 L298.4,580 L301.7,570.2 L305,563.6 L307.8,554.8 L309.4,532.9 L311.6,509.9 L313.8,520.8 L316,527.4 L318.1,513.2 L319.7,530.7 L321,550.4 L323.6,559.2 L325.4,568 L326.9,581.1" fill="none" stroke="#c8143f" stroke-width="0.9" stroke-linejoin="round"/>
<path d="M274.3,513.2 L276.5,605.2 L278.7,604.8 L282,603 L284.6,600.4 L287.4,605.2 L289.6,608.5 L292.9,604.8 L296.2,602.6 L299.5,597.6 L302.8,594.3 L305,596.5 L308.3,588.8 L311.6,599.8 L314.8,586.6 L318.1,590.3 L321.4,578.9 L324.7,575.6 L326.9,581.1 L329.1,575.6 L330.6,571.3 L332.4,559.2 L334.6,569.1 L337.2,524.1 L340.1,565.8 L342.9,518.6 L344.4,528.5 L346.6,509.9 L347.7,541.7 L349.3,578.9 L351,574.5 L352.6,587.7 L355.4,610" fill="none" stroke="#1f5a93" stroke-width="0.9" stroke-linejoin="round"/>
<line x1="270.80" y1="610.60" x2="273.60" y2="610.60" stroke="#000" stroke-width="0.9" />
<line x1="272.00" y1="605.49" x2="273.60" y2="605.49" stroke="#000" stroke-width="0.5" />
<line x1="272.00" y1="600.38" x2="273.60" y2="600.38" stroke="#000" stroke-width="0.5" />
<line x1="272.00" y1="595.27" x2="273.60" y2="595.27" stroke="#000" stroke-width="0.5" />
<line x1="270.80" y1="590.15" x2="273.60" y2="590.15" stroke="#000" stroke-width="0.9" />
<line x1="272.00" y1="585.04" x2="273.60" y2="585.04" stroke="#000" stroke-width="0.5" />
<line x1="272.00" y1="579.93" x2="273.60" y2="579.93" stroke="#000" stroke-width="0.5" />
<line x1="272.00" y1="574.82" x2="273.60" y2="574.82" stroke="#000" stroke-width="0.5" />
<line x1="270.80" y1="569.70" x2="273.60" y2="569.70" stroke="#000" stroke-width="0.9" />
<line x1="272.00" y1="564.59" x2="273.60" y2="564.59" stroke="#000" stroke-width="0.5" />
<line x1="272.00" y1="559.48" x2="273.60" y2="559.48" stroke="#000" stroke-width="0.5" />
<line x1="272.00" y1="554.37" x2="273.60" y2="554.37" stroke="#000" stroke-width="0.5" />
<line x1="270.80" y1="549.25" x2="273.60" y2="549.25" stroke="#000" stroke-width="0.9" />
<line x1="272.00" y1="544.14" x2="273.60" y2="544.14" stroke="#000" stroke-width="0.5" />
<line x1="272.00" y1="539.03" x2="273.60" y2="539.03" stroke="#000" stroke-width="0.5" />
<line x1="272.00" y1="533.92" x2="273.60" y2="533.92" stroke="#000" stroke-width="0.5" />
<line x1="270.80" y1="528.80" x2="273.60" y2="528.80" stroke="#000" stroke-width="0.9" />
<line x1="272.00" y1="523.69" x2="273.60" y2="523.69" stroke="#000" stroke-width="0.5" />
<line x1="272.00" y1="518.58" x2="273.60" y2="518.58" stroke="#000" stroke-width="0.5" />
<line x1="272.00" y1="513.47" x2="273.60" y2="513.47" stroke="#000" stroke-width="0.5" />
<line x1="270.80" y1="508.35" x2="273.60" y2="508.35" stroke="#000" stroke-width="0.9" />
<line x1="284.60" y1="610.40" x2="284.60" y2="613.20" stroke="#000" stroke-width="0.9" />
<line x1="291.10" y1="610.40" x2="291.10" y2="613.20" stroke="#000" stroke-width="0.9" />
<line x1="317.10" y1="610.40" x2="317.10" y2="613.20" stroke="#000" stroke-width="0.9" />
<line x1="342.60" y1="610.40" x2="342.60" y2="613.20" stroke="#000" stroke-width="0.9" />
<line x1="365.60" y1="610.40" x2="365.60" y2="613.20" stroke="#000" stroke-width="0.9" />
<line x1="298.93" y1="610.40" x2="298.93" y2="611.90" stroke="#000" stroke-width="0.5" />
<line x1="303.51" y1="610.40" x2="303.51" y2="611.90" stroke="#000" stroke-width="0.5" />
<line x1="306.75" y1="610.40" x2="306.75" y2="611.90" stroke="#000" stroke-width="0.5" />
<line x1="309.27" y1="610.40" x2="309.27" y2="611.90" stroke="#000" stroke-width="0.5" />
<line x1="311.33" y1="610.40" x2="311.33" y2="611.90" stroke="#000" stroke-width="0.5" />
<line x1="313.07" y1="610.40" x2="313.07" y2="611.90" stroke="#000" stroke-width="0.5" />
<line x1="314.58" y1="610.40" x2="314.58" y2="611.90" stroke="#000" stroke-width="0.5" />
<line x1="315.91" y1="610.40" x2="315.91" y2="611.90" stroke="#000" stroke-width="0.5" />
<line x1="324.78" y1="610.40" x2="324.78" y2="611.90" stroke="#000" stroke-width="0.5" />
<line x1="329.27" y1="610.40" x2="329.27" y2="611.90" stroke="#000" stroke-width="0.5" />
<line x1="332.45" y1="610.40" x2="332.45" y2="611.90" stroke="#000" stroke-width="0.5" />
<line x1="334.92" y1="610.40" x2="334.92" y2="611.90" stroke="#000" stroke-width="0.5" />
<line x1="336.94" y1="610.40" x2="336.94" y2="611.90" stroke="#000" stroke-width="0.5" />
<line x1="338.65" y1="610.40" x2="338.65" y2="611.90" stroke="#000" stroke-width="0.5" />
<line x1="340.13" y1="610.40" x2="340.13" y2="611.90" stroke="#000" stroke-width="0.5" />
<line x1="341.43" y1="610.40" x2="341.43" y2="611.90" stroke="#000" stroke-width="0.5" />
<line x1="349.52" y1="610.40" x2="349.52" y2="611.90" stroke="#000" stroke-width="0.5" />
<line x1="353.57" y1="610.40" x2="353.57" y2="611.90" stroke="#000" stroke-width="0.5" />
<line x1="356.45" y1="610.40" x2="356.45" y2="611.90" stroke="#000" stroke-width="0.5" />
<line x1="358.68" y1="610.40" x2="358.68" y2="611.90" stroke="#000" stroke-width="0.5" />
<line x1="360.50" y1="610.40" x2="360.50" y2="611.90" stroke="#000" stroke-width="0.5" />
<line x1="362.04" y1="610.40" x2="362.04" y2="611.90" stroke="#000" stroke-width="0.5" />
<line x1="363.37" y1="610.40" x2="363.37" y2="611.90" stroke="#000" stroke-width="0.5" />
<line x1="364.55" y1="610.40" x2="364.55" y2="611.90" stroke="#000" stroke-width="0.5" />
<line x1="275.60" y1="610.40" x2="275.60" y2="611.90" stroke="#000" stroke-width="0.5" />
<line x1="277.60" y1="610.40" x2="277.60" y2="611.90" stroke="#000" stroke-width="0.5" />
<line x1="279.60" y1="610.40" x2="279.60" y2="611.90" stroke="#000" stroke-width="0.5" />
<line x1="281.60" y1="610.40" x2="281.60" y2="611.90" stroke="#000" stroke-width="0.5" />
<rect x="273.60" y="503.30" width="107.70" height="107.10" fill="none" stroke="#000" stroke-width="1.3" />
<text x="282.6" y="623.0" font-size="6.8" text-anchor="start" font-weight="normal" fill="#111" >0</text>
<text x="288.90" y="623.00" font-size="6.8" fill="#111">10<tspan font-size="5.17" dy="-2.86">2</tspan></text>
<text x="315.60" y="623.00" font-size="6.8" fill="#111">10<tspan font-size="5.17" dy="-2.86">3</tspan></text>
<text x="341.00" y="623.00" font-size="6.8" fill="#111">10<tspan font-size="5.17" dy="-2.86">4</tspan></text>
<text x="364.00" y="623.00" font-size="6.8" fill="#111">10<tspan font-size="5.17" dy="-2.86">5</tspan></text>
<text x="320.7" y="635.3" font-size="7.8" text-anchor="start" font-weight="bold" fill="#111" textLength="13.5" lengthAdjust="spacingAndGlyphs" >Bcl2</text>
<line x1="187.80" y1="497.60" x2="193.90" y2="497.60" stroke="#c8143f" stroke-width="1.4" />
<text x="197" y="498.3" font-size="7.1" text-anchor="start" font-weight="normal" fill="#111" textLength="11" lengthAdjust="spacingAndGlyphs" >WT</text>
<line x1="218.30" y1="497.60" x2="224.70" y2="497.60" stroke="#1f5a93" stroke-width="1.4" />
<text x="227.9" y="498.3" font-size="7.1" text-anchor="start" font-weight="normal" fill="#111" textLength="10.1" lengthAdjust="spacingAndGlyphs" >KO</text>
</svg>
</body></html>
